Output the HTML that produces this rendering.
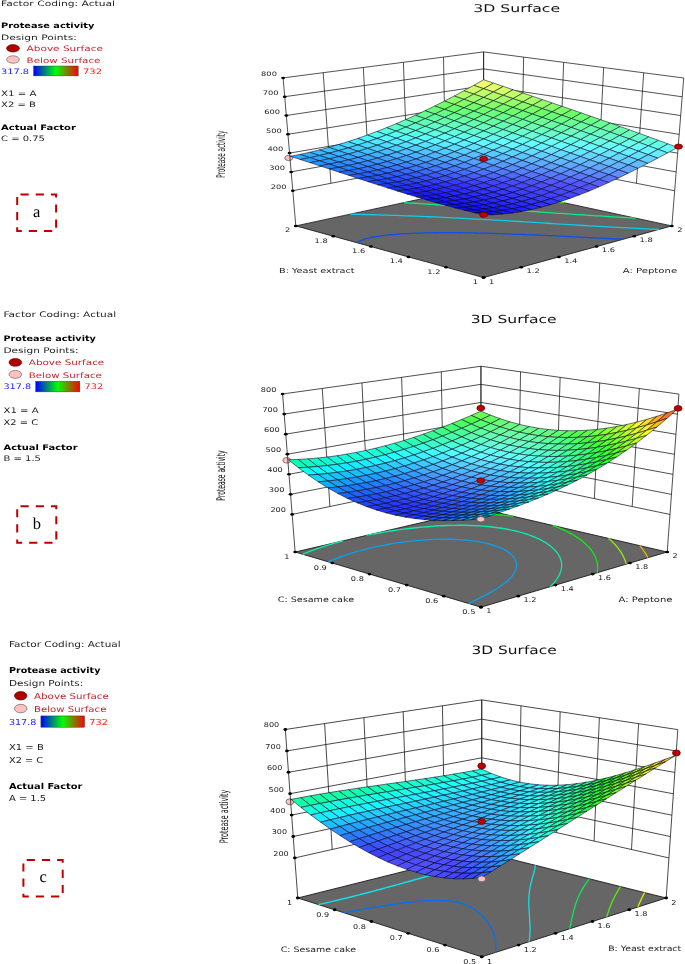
<!DOCTYPE html>
<html><head><meta charset="utf-8"><title>3D Surface</title>
<style>html,body{margin:0;padding:0;background:#fff}svg{display:block}text{text-rendering:geometricPrecision}</style></head><body>
<svg width="685" height="964" viewBox="0 0 685 964">
<defs><linearGradient id="lg" x1="0" x2="1" y1="0" y2="0"><stop offset="0" stop-color="#0000ff"/><stop offset="0.5" stop-color="#00ff00"/><stop offset="1" stop-color="#ff0000"/></linearGradient></defs>
<rect width="685" height="964" fill="#fff"/>
<g transform="matrix(1,0,0,1,0,0)">
<polygon points="483.6,277.6 671.85,225.9 483.6,185.4 295.8,225.9" fill="#666666" stroke="#111" stroke-width="0.8"/>
<path d="M357.01,242.75 L357.79,242.17 L359.11,241.37 L360.72,240.58 L363.11,239.65 L364.43,239.21 L367.27,238.4 L370.39,237.66 L373.75,236.99 L376.32,236.55 L379.22,236.1 L383.14,235.58 L385.17,235.34 L389.38,234.89 L391.56,234.68 L395.86,234.32 L398.36,234.13 L400.71,233.97 L405.09,233.7 L408.03,233.54 L410.56,233.42 L413.36,233.3 L417.25,233.15 L421.04,233.03 L423.78,232.95 L426.55,232.89 L429.35,232.83 L432.19,232.78 L435.23,232.74 L438.6,232.71 L441.91,232.69 L445.18,232.68 L448.39,232.67 L451.57,232.68 L454.71,232.69 L457.8,232.72 L460.87,232.74 L463.9,232.78 L466.91,232.82 L469.88,232.87 L472.83,232.92 L476.02,232.98 L479.44,233.05 L482.89,233.13 L486.38,233.22 L489.9,233.32 L492.83,233.4 L495.61,233.48 L498.38,233.57 L501.13,233.66 L504.38,233.77 L508.09,233.9 L511.83,234.03 L514.66,234.14 L517.32,234.24 L519.98,234.35 L523.27,234.48 L527.15,234.64 L530.5,234.78 L533.1,234.89 L535.7,235.01 L538.99,235.15 L542.99,235.33 L546,235.47 L548.55,235.59 L551.11,235.71 L555.18,235.9 L558.72,236.07 L561.24,236.19 L563.76,236.32 L567.6,236.5 L571.3,236.68 L573.8,236.81 L576.3,236.93 L580.21,237.12 L583.77,237.3 L586.26,237.43 L588.74,237.55 L592.95,237.76 L596.18,237.92 L598.65,238.04 L601.51,238.18 L605.79,238.38 L608.54,238.52 L611.02,238.64 L614.37,238.79 L618.44,238.98 L620.91,239.1 L623.38,239.21" fill="none" stroke="#0e50e9" stroke-width="1.3"/>
<path d="M350.19,214.17 L354.1,214.25 L359.5,214.38 L363.65,214.48 L368.66,214.61 L373.38,214.74 L377.67,214.86 L383.3,215.03 L386.65,215.13 L392.36,215.32 L396.84,215.47 L401,215.62 L406.69,215.82 L410.78,215.98 L415.12,216.15 L420.68,216.38 L425.14,216.56 L428.93,216.73 L434.37,216.97 L439.77,217.21 L443.7,217.4 L447.79,217.59 L453.09,217.85 L458.35,218.11 L462.98,218.35 L466.93,218.56 L471.35,218.79 L476.49,219.07 L481.6,219.35 L486.69,219.63 L491.21,219.88 L495.36,220.12 L499.54,220.36 L504.27,220.64 L509.24,220.93 L514.19,221.23 L519.13,221.52 L524.04,221.82 L528.93,222.12 L533.81,222.42 L538.35,222.69 L542.78,222.97 L547.23,223.24 L551.7,223.52 L556.19,223.8 L560.69,224.07 L565.21,224.35 L570,224.65 L574.79,224.94 L579.58,225.23 L584.36,225.52 L589.14,225.8 L593.91,226.09 L598.69,226.37 L603.47,226.64 L608.26,226.91 L613.04,227.18 L617.84,227.44 L622.64,227.7 L627.45,227.95 L632.28,228.2 L637.11,228.43 L641.96,228.66 L646.61,228.88 L650.99,229.07 L655.35,229.25 L659.09,229.41" fill="none" stroke="#0ecbe9" stroke-width="1.3"/>
<path d="M404.01,202.56 L407.51,202.79 L411.61,203.07 L414.13,203.23 L416.65,203.4 L419.91,203.62 L424.08,203.9 L426.69,204.07 L429.18,204.24 L432.5,204.46 L436.65,204.74 L439.13,204.91 L441.6,205.08 L445.28,205.33 L449,205.58 L451.46,205.75 L453.92,205.92 L458.28,206.22 L461.24,206.43 L463.68,206.6 L467.06,206.83 L470.97,207.1 L473.38,207.27 L475.95,207.45 L480.42,207.77 L483.03,207.95 L485.43,208.12 L489.45,208.4 L492.62,208.63 L495.01,208.79 L498.56,209.05 L502.15,209.3 L504.53,209.47 L507.77,209.7 L511.64,209.98 L514,210.14 L517.06,210.36 L521.09,210.65 L523.44,210.82 L526.43,211.03 L530.49,211.32 L532.84,211.48 L535.87,211.7 L539.87,211.98 L542.21,212.15 L545.36,212.37 L549.22,212.64 L551.56,212.8 L554.91,213.03 L558.56,213.29 L560.89,213.45 L564.48,213.7 L567.88,213.93 L570.2,214.09 L574.08,214.35 L577.19,214.56 L579.52,214.72 L583.68,214.99 L586.51,215.18 L588.84,215.33 L593.27,215.62 L595.83,215.78 L598.17,215.93 L602.82,216.22 L605.18,216.37 L607.58,216.52 L612.2,216.8 L614.55,216.94 L617.05,217.09 L621.6,217.35 L623.96,217.49 L626.44,217.62 L631.04,217.88 L633.41,218.01 L635.73,218.13" fill="none" stroke="#0ee982" stroke-width="1.3"/>
<path d="M445.98,193.51 L446.17,193.53 L448.32,193.7 L450.66,193.89 L450.9,193.91 L453,194.08 L455.34,194.26 L455.64,194.29 L457.68,194.45 L460.01,194.64 L460.41,194.67 L462.34,194.83 L464.68,195.01 L465.19,195.05 L467,195.2 L469.33,195.38 L470,195.44 L471.65,195.57 L473.97,195.75 L474.82,195.82 L476.29,195.94 L478.61,196.12 L479.66,196.21 L480.93,196.31 L483.24,196.49 L484.52,196.59 L485.55,196.68 L487.86,196.86 L489.4,196.98 L490.17,197.04 L492.47,197.22 L494.3,197.37 L494.78,197.41 L497.08,197.59 L499.21,197.76 L499.38,197.77 L501.68,197.95 L503.98,198.13 L504.14,198.14 L506.27,198.31 L508.57,198.49 L509.08,198.53 L510.86,198.67 L513.15,198.85 L514.04,198.92 L515.44,199.03 L517.73,199.21 L519.01,199.31 L520.02,199.39 L522.31,199.57 L524,199.7 L524.6,199.74 L526.88,199.92 L529,200.08 L529.16,200.1 L531.45,200.27 L533.73,200.45 L534,200.47 L536.01,200.62 L538.29,200.8 L539.02,200.85 L540.57,200.97 L542.85,201.14 L544.04,201.23 L545.13,201.32 L547.41,201.49 L549.07,201.61 L549.69,201.66 L551.96,201.83 L554.1,201.99 L554.24,202 L556.52,202.17 L558.8,202.34 L559.13,202.36 L561.07,202.51 L563.35,202.67 L564.17,202.73" fill="none" stroke="#3de90e" stroke-width="1.3"/>
<ellipse cx="288.7" cy="158" rx="4" ry="2.6" fill="#ffc0c0" stroke="#555" stroke-width="0.7"/>
<path d="M295.8,225.9 L283.1,77.9 M671.85,225.9 L683.7,78 M330.94,183.29 L323.2,72.7 M636.45,183.31 L643.68,72.78 M369.11,175.88 L363.3,67.5 M598.24,175.9 L603.66,67.56 M407.27,168.47 L403.4,62.3 M560.03,168.48 L563.64,62.34 M445.44,161.06 L443.5,57.1 M521.81,161.07 L523.62,57.12 M483.6,185.4 L483.6,51.9 M483.6,185.4 L483.6,51.9 M292.78,190.7 L483.6,153.65 L674.67,190.73 M291.17,171.9 L483.6,136.69 L676.17,171.94 M289.55,153.1 L483.6,119.74 L677.68,153.15 M287.94,134.3 L483.6,102.78 L679.18,134.36 M286.33,115.5 L483.6,85.82 L680.69,115.58 M284.71,96.7 L483.6,68.86 L682.19,96.79 M283.1,77.9 L483.6,51.9 L683.7,78" fill="none" stroke="#1a1a1a" stroke-width="0.75"/>
<g stroke="#05051a" stroke-opacity="0.88" stroke-width="0.62" stroke-linejoin="round">
<path d="M483.59,88.67 L493.44,83.07 L483.6,79.75 L473.76,85.35 Z" fill="#f1ff69"/>
<path d="M473.78,94.1 L483.59,88.67 L473.76,85.35 L463.95,90.78 Z" fill="#cfff6a"/>
<path d="M493.41,91.98 L503.27,86.38 L493.44,83.07 L483.59,88.67 Z" fill="#e1ff69"/>
<path d="M464,99.36 L473.78,94.1 L463.95,90.78 L454.18,96.03 Z" fill="#afff6a"/>
<path d="M483.59,97.42 L493.41,91.98 L483.59,88.67 L473.78,94.1 Z" fill="#c0ff6a"/>
<path d="M503.21,95.3 L513.08,89.69 L503.27,86.38 L493.41,91.98 Z" fill="#d2ff6a"/>
<path d="M473.8,102.69 L483.59,97.42 L473.78,94.1 L464,99.36 Z" fill="#a0ff6a"/>
<path d="M493.38,100.74 L503.21,95.3 L493.41,91.98 L483.59,97.42 Z" fill="#b1ff6a"/>
<path d="M454.25,104.44 L464,99.36 L454.18,96.03 L444.44,101.1 Z" fill="#90ff69"/>
<path d="M513,98.61 L522.88,93 L513.08,89.69 L503.21,95.3 Z" fill="#c3ff6a"/>
<path d="M444.53,109.35 L454.25,104.44 L444.44,101.1 L434.72,106 Z" fill="#72ff68"/>
<path d="M464.04,107.78 L473.8,102.69 L464,99.36 L454.25,104.44 Z" fill="#82ff69"/>
<path d="M483.59,106.02 L493.38,100.74 L483.59,97.42 L473.8,102.69 Z" fill="#92ff6a"/>
<path d="M503.16,104.06 L513,98.61 L503.21,95.3 L493.38,100.74 Z" fill="#a3ff6a"/>
<path d="M522.77,101.93 L532.66,96.32 L522.88,93 L513,98.61 Z" fill="#b4ff6a"/>
<path d="M454.31,112.7 L464.04,107.78 L454.25,104.44 L444.53,109.35 Z" fill="#68ff6c"/>
<path d="M512.93,107.39 L522.77,101.93 L513,98.61 L503.16,104.06 Z" fill="#94ff6a"/>
<path d="M434.83,114.07 L444.53,109.35 L434.72,106 L425.03,110.71 Z" fill="#67ff78"/>
<path d="M473.82,111.13 L483.59,106.02 L473.8,102.69 L464.04,107.78 Z" fill="#73ff69"/>
<path d="M493.36,109.35 L503.16,104.06 L493.38,100.74 L483.59,106.02 Z" fill="#83ff6a"/>
<path d="M532.53,105.25 L542.43,99.63 L532.66,96.32 L522.77,101.93 Z" fill="#a6ff6a"/>
<path d="M425.16,118.61 L434.83,114.07 L425.03,110.71 L415.37,115.24 Z" fill="#65ff90"/>
<path d="M444.61,117.44 L454.31,112.7 L444.53,109.35 L434.83,114.07 Z" fill="#67ff86"/>
<path d="M464.09,116.06 L473.82,111.13 L464.04,107.78 L454.31,112.7 Z" fill="#68ff7a"/>
<path d="M483.59,114.47 L493.36,109.35 L483.59,106.02 L473.82,111.13 Z" fill="#69ff6d"/>
<path d="M503.12,112.69 L512.93,107.39 L503.16,104.06 L493.36,109.35 Z" fill="#75ff6a"/>
<path d="M522.68,110.71 L532.53,105.25 L522.77,101.93 L512.93,107.39 Z" fill="#86ff6a"/>
<path d="M542.27,108.57 L552.18,102.95 L542.43,99.63 L532.53,105.25 Z" fill="#97ff6a"/>
<path d="M415.51,122.96 L425.16,118.61 L415.37,115.24 L405.72,119.58 Z" fill="#62ffa6"/>
<path d="M434.93,121.99 L444.61,117.44 L434.83,114.07 L425.16,118.61 Z" fill="#64ff9d"/>
<path d="M454.38,120.81 L464.09,116.06 L454.31,112.7 L444.61,117.44 Z" fill="#66ff93"/>
<path d="M473.85,119.42 L483.59,114.47 L473.82,111.13 L464.09,116.06 Z" fill="#68ff88"/>
<path d="M493.34,117.82 L503.12,112.69 L493.36,109.35 L483.59,114.47 Z" fill="#69ff7b"/>
<path d="M512.86,116.02 L522.68,110.71 L512.93,107.39 L503.12,112.69 Z" fill="#6aff6d"/>
<path d="M532.41,114.05 L542.27,108.57 L532.53,105.25 L522.68,110.71 Z" fill="#77ff6a"/>
<path d="M552,111.9 L561.91,106.28 L552.18,102.95 L542.27,108.57 Z" fill="#88ff6a"/>
<path d="M425.28,126.35 L434.93,121.99 L425.16,118.61 L415.51,122.96 Z" fill="#62ffb4"/>
<path d="M444.7,125.37 L454.38,120.81 L444.61,117.44 L434.93,121.99 Z" fill="#64ffab"/>
<path d="M483.59,122.78 L493.34,117.82 L483.59,114.47 L473.85,119.42 Z" fill="#68ff95"/>
<path d="M522.59,119.37 L532.41,114.05 L522.68,110.71 L512.86,116.02 Z" fill="#6aff7a"/>
<path d="M542.13,117.38 L552,111.9 L542.27,108.57 L532.41,114.05 Z" fill="#6aff6b"/>
<path d="M405.87,127.12 L415.51,122.96 L405.72,119.58 L396.09,123.73 Z" fill="#5fffbc"/>
<path d="M464.13,124.18 L473.85,119.42 L464.09,116.06 L454.38,120.81 Z" fill="#66ffa1"/>
<path d="M503.07,121.17 L512.86,116.02 L503.12,112.69 L493.34,117.82 Z" fill="#69ff89"/>
<path d="M561.72,115.24 L571.63,109.61 L561.91,106.28 L552,111.9 Z" fill="#7aff6a"/>
<path d="M396.25,131.09 L405.87,127.12 L396.09,123.73 L386.47,127.69 Z" fill="#5cffd0"/>
<path d="M415.64,130.52 L425.28,126.35 L415.51,122.96 L405.87,127.12 Z" fill="#5fffc9"/>
<path d="M435.03,129.75 L444.7,125.37 L434.93,121.99 L425.28,126.35 Z" fill="#61ffc2"/>
<path d="M454.44,128.76 L464.13,124.18 L454.38,120.81 L444.7,125.37 Z" fill="#64ffb9"/>
<path d="M473.87,127.56 L483.59,122.78 L473.85,119.42 L464.13,124.18 Z" fill="#66ffaf"/>
<path d="M493.32,126.15 L503.07,121.17 L493.34,117.82 L483.59,122.78 Z" fill="#68ffa3"/>
<path d="M512.8,124.52 L522.59,119.37 L512.86,116.02 L503.07,121.17 Z" fill="#69ff96"/>
<path d="M532.3,122.71 L542.13,117.38 L532.41,114.05 L522.59,119.37 Z" fill="#6aff88"/>
<path d="M551.84,120.72 L561.72,115.24 L552,111.9 L542.13,117.38 Z" fill="#6aff79"/>
<path d="M571.42,118.58 L581.34,112.96 L571.63,109.61 L561.72,115.24 Z" fill="#6cff6a"/>
<path d="M406.01,134.5 L415.64,130.52 L405.87,127.12 L396.25,131.09 Z" fill="#5bffdd"/>
<path d="M464.18,132.16 L473.87,127.56 L464.13,124.18 L454.44,128.76 Z" fill="#64ffc6"/>
<path d="M503.04,129.51 L512.8,124.52 L503.07,121.17 L493.32,126.15 Z" fill="#67ffb1"/>
<path d="M561.53,124.07 L571.42,118.58 L561.72,115.24 L551.84,120.72 Z" fill="#6aff87"/>
<path d="M386.64,134.86 L396.25,131.09 L386.47,127.69 L376.87,131.46 Z" fill="#58ffe3"/>
<path d="M425.39,133.93 L435.03,129.75 L425.28,126.35 L415.64,130.52 Z" fill="#5effd7"/>
<path d="M444.77,133.16 L454.44,128.76 L444.7,125.37 L435.03,129.75 Z" fill="#61ffcf"/>
<path d="M483.59,130.94 L493.32,126.15 L483.59,122.78 L473.87,127.56 Z" fill="#66ffbc"/>
<path d="M522.5,127.88 L532.3,122.71 L522.59,119.37 L512.8,124.52 Z" fill="#69ffa4"/>
<path d="M542,126.06 L551.84,120.72 L542.13,117.38 L532.3,122.71 Z" fill="#6aff96"/>
<path d="M581.1,121.94 L591.03,116.32 L581.34,112.96 L571.42,118.58 Z" fill="#6aff77"/>
<path d="M377.03,138.43 L386.64,134.86 L376.87,131.46 L367.27,135.04 Z" fill="#53fff5"/>
<path d="M396.39,138.27 L406.01,134.5 L396.25,131.09 L386.64,134.86 Z" fill="#57fff0"/>
<path d="M415.76,137.92 L425.39,133.93 L415.64,130.52 L406.01,134.5 Z" fill="#5affeb"/>
<path d="M435.12,137.35 L444.77,133.16 L435.03,129.75 L425.39,133.93 Z" fill="#5effe4"/>
<path d="M454.5,136.56 L464.18,132.16 L454.44,128.76 L444.77,133.16 Z" fill="#61ffdd"/>
<path d="M473.89,135.55 L483.59,130.94 L473.87,127.56 L464.18,132.16 Z" fill="#63ffd4"/>
<path d="M493.31,134.33 L503.04,129.51 L493.32,126.15 L483.59,130.94 Z" fill="#66ffc9"/>
<path d="M512.74,132.88 L522.5,127.88 L512.8,124.52 L503.04,129.51 Z" fill="#67ffbe"/>
<path d="M532.2,131.24 L542,126.06 L532.3,122.71 L522.5,127.88 Z" fill="#69ffb1"/>
<path d="M551.69,129.41 L561.53,124.07 L551.84,120.72 L542,126.06 Z" fill="#69ffa4"/>
<path d="M571.21,127.42 L581.1,121.94 L571.42,118.58 L561.53,124.07 Z" fill="#6aff95"/>
<path d="M590.77,125.3 L600.7,119.69 L591.03,116.32 L581.1,121.94 Z" fill="#6aff85"/>
<path d="M367.44,141.8 L377.03,138.43 L367.27,135.04 L357.67,138.41 Z" fill="#4ff9ff"/>
<path d="M386.79,141.85 L396.39,138.27 L386.64,134.86 L377.03,138.43 Z" fill="#53fcff"/>
<path d="M406.14,141.7 L415.76,137.92 L406.01,134.5 L396.39,138.27 Z" fill="#56fffe"/>
<path d="M425.49,141.34 L435.12,137.35 L425.39,133.93 L415.76,137.92 Z" fill="#5afff9"/>
<path d="M444.85,140.77 L454.5,136.56 L444.77,133.16 L435.12,137.35 Z" fill="#5dfff2"/>
<path d="M464.22,139.97 L473.89,135.55 L464.18,132.16 L454.5,136.56 Z" fill="#60ffea"/>
<path d="M483.6,138.95 L493.31,134.33 L483.59,130.94 L473.89,135.55 Z" fill="#63ffe1"/>
<path d="M503,137.71 L512.74,132.88 L503.04,129.51 L493.31,134.33 Z" fill="#65ffd7"/>
<path d="M522.43,136.25 L532.2,131.24 L522.5,127.88 L512.74,132.88 Z" fill="#67ffcb"/>
<path d="M541.88,134.6 L551.69,129.41 L542,126.06 L532.2,131.24 Z" fill="#68ffbf"/>
<path d="M561.36,132.77 L571.21,127.42 L561.53,124.07 L551.69,129.41 Z" fill="#69ffb1"/>
<path d="M580.88,130.79 L590.77,125.3 L581.1,121.94 L571.21,127.42 Z" fill="#6affa2"/>
<path d="M600.43,128.68 L610.36,123.08 L600.7,119.69 L590.77,125.3 Z" fill="#6aff93"/>
<path d="M357.84,144.97 L367.44,141.8 L357.67,138.41 L348.08,141.59 Z" fill="#4ae9ff"/>
<path d="M377.19,145.21 L386.79,141.85 L377.03,138.43 L367.44,141.8 Z" fill="#4eebff"/>
<path d="M396.53,145.27 L406.14,141.7 L396.39,138.27 L386.79,141.85 Z" fill="#52eeff"/>
<path d="M435.21,144.78 L444.85,140.77 L435.12,137.35 L425.49,141.34 Z" fill="#59f8ff"/>
<path d="M473.92,143.39 L483.6,138.95 L473.89,135.55 L464.22,139.97 Z" fill="#60fff7"/>
<path d="M493.29,142.35 L503,137.71 L493.31,134.33 L483.6,138.95 Z" fill="#63ffee"/>
<path d="M532.1,139.62 L541.88,134.6 L532.2,131.24 L522.43,136.25 Z" fill="#67ffd8"/>
<path d="M571.02,136.13 L580.88,130.79 L571.21,127.42 L561.36,132.77 Z" fill="#69ffbe"/>
<path d="M590.53,134.16 L600.43,128.68 L590.77,125.3 L580.88,130.79 Z" fill="#69ffb0"/>
<path d="M610.07,132.08 L620.01,126.49 L610.36,123.08 L600.43,128.68 Z" fill="#69ffa1"/>
<path d="M415.87,145.13 L425.49,141.34 L415.76,137.92 L406.14,141.7 Z" fill="#56f2ff"/>
<path d="M454.56,144.2 L464.22,139.97 L454.5,136.56 L444.85,140.77 Z" fill="#5dfeff"/>
<path d="M512.69,141.09 L522.43,136.25 L512.74,132.88 L503,137.71 Z" fill="#65ffe4"/>
<path d="M551.55,137.96 L561.36,132.77 L551.69,129.41 L541.88,134.6 Z" fill="#68ffcc"/>
<path d="M348.24,147.92 L357.84,144.97 L348.08,141.59 L338.49,144.56 Z" fill="#45dbff"/>
<path d="M367.59,148.36 L377.19,145.21 L367.44,141.8 L357.84,144.97 Z" fill="#49dbff"/>
<path d="M386.92,148.63 L396.53,145.27 L386.79,141.85 L377.19,145.21 Z" fill="#4dddff"/>
<path d="M406.26,148.71 L415.87,145.13 L406.14,141.7 L396.53,145.27 Z" fill="#51e0ff"/>
<path d="M425.59,148.57 L435.21,144.78 L425.49,141.34 L415.87,145.13 Z" fill="#55e4ff"/>
<path d="M444.92,148.21 L454.56,144.2 L444.85,140.77 L435.21,144.78 Z" fill="#59eaff"/>
<path d="M464.26,147.62 L473.92,143.39 L464.22,139.97 L454.56,144.2 Z" fill="#5cf1ff"/>
<path d="M483.61,146.8 L493.29,142.35 L483.6,138.95 L473.92,143.39 Z" fill="#60f9ff"/>
<path d="M502.97,145.74 L512.69,141.09 L503,137.71 L493.29,142.35 Z" fill="#62fffb"/>
<path d="M522.36,144.47 L532.1,139.62 L522.43,136.25 L512.69,141.09 Z" fill="#65fff1"/>
<path d="M541.77,142.99 L551.55,137.96 L541.88,134.6 L532.1,139.62 Z" fill="#67ffe5"/>
<path d="M561.2,141.33 L571.02,136.13 L561.36,132.77 L551.55,137.96 Z" fill="#68ffd9"/>
<path d="M580.67,139.5 L590.53,134.16 L580.88,130.79 L571.02,136.13 Z" fill="#69ffcc"/>
<path d="M600.16,137.55 L610.07,132.08 L600.43,128.68 L590.53,134.16 Z" fill="#69ffbe"/>
<path d="M619.69,135.49 L629.64,129.92 L620.01,126.49 L610.07,132.08 Z" fill="#69ffaf"/>
<path d="M357.99,151.3 L367.59,148.36 L357.84,144.97 L348.24,147.92 Z" fill="#44cdff"/>
<path d="M454.61,151.64 L464.26,147.62 L454.56,144.2 L444.92,148.21 Z" fill="#58dcff"/>
<path d="M512.64,149.14 L522.36,144.47 L512.69,141.09 L502.97,145.74 Z" fill="#62f6ff"/>
<path d="M609.79,140.94 L619.69,135.49 L610.07,132.08 L600.16,137.55 Z" fill="#69ffcb"/>
<path d="M338.64,150.66 L348.24,147.92 L338.49,144.56 L328.89,147.34 Z" fill="#40ceff"/>
<path d="M377.32,151.77 L386.92,148.63 L377.19,145.21 L367.59,148.36 Z" fill="#48cdff"/>
<path d="M396.65,152.06 L406.26,148.71 L396.53,145.27 L386.92,148.63 Z" fill="#4ccfff"/>
<path d="M415.97,152.15 L425.59,148.57 L415.87,145.13 L406.26,148.71 Z" fill="#50d2ff"/>
<path d="M435.29,152.01 L444.92,148.21 L435.21,144.78 L425.59,148.57 Z" fill="#54d7ff"/>
<path d="M473.94,151.04 L483.61,146.8 L473.92,143.39 L464.26,147.62 Z" fill="#5ce4ff"/>
<path d="M493.28,150.2 L502.97,145.74 L493.29,142.35 L483.61,146.8 Z" fill="#5fecff"/>
<path d="M532.01,147.85 L541.77,142.99 L532.1,139.62 L522.36,144.47 Z" fill="#64fffe"/>
<path d="M551.41,146.37 L561.2,141.33 L551.55,137.96 L541.77,142.99 Z" fill="#66fff2"/>
<path d="M570.84,144.7 L580.67,139.5 L571.02,136.13 L561.2,141.33 Z" fill="#68ffe6"/>
<path d="M590.3,142.88 L600.16,137.55 L590.53,134.16 L580.67,139.5 Z" fill="#68ffd9"/>
<path d="M629.31,138.92 L639.25,133.37 L629.64,129.92 L619.69,135.49 Z" fill="#68ffbd"/>
<path d="M348.39,154.02 L357.99,151.3 L348.24,147.92 L338.64,150.66 Z" fill="#3ec0ff"/>
<path d="M619.4,144.35 L629.31,138.92 L619.69,135.49 L609.79,140.94 Z" fill="#68ffd9"/>
<path d="M329.04,153.19 L338.64,150.66 L328.89,147.34 L319.29,149.9 Z" fill="#3bc2ff"/>
<path d="M367.72,154.69 L377.32,151.77 L367.59,148.36 L357.99,151.3 Z" fill="#42bfff"/>
<path d="M387.05,155.2 L396.65,152.06 L386.92,148.63 L377.32,151.77 Z" fill="#46bfff"/>
<path d="M406.36,155.5 L415.97,152.15 L406.26,148.71 L396.65,152.06 Z" fill="#4bc1ff"/>
<path d="M425.67,155.59 L435.29,152.01 L425.59,148.57 L415.97,152.15 Z" fill="#4fc4ff"/>
<path d="M444.98,155.45 L454.61,151.64 L444.92,148.21 L435.29,152.01 Z" fill="#54c9ff"/>
<path d="M464.29,155.07 L473.94,151.04 L464.26,147.62 L454.61,151.64 Z" fill="#58cfff"/>
<path d="M483.61,154.46 L493.28,150.2 L483.61,146.8 L473.94,151.04 Z" fill="#5cd6ff"/>
<path d="M502.94,153.6 L512.64,149.14 L502.97,145.74 L493.28,150.2 Z" fill="#5fdfff"/>
<path d="M522.29,152.52 L532.01,147.85 L522.36,144.47 L512.64,149.14 Z" fill="#62e9ff"/>
<path d="M541.66,151.23 L551.41,146.37 L541.77,142.99 L532.01,147.85 Z" fill="#64f3ff"/>
<path d="M561.05,149.74 L570.84,144.7 L561.2,141.33 L551.41,146.37 Z" fill="#66ffff"/>
<path d="M580.47,148.07 L590.3,142.88 L580.67,139.5 L570.84,144.7 Z" fill="#67fff3"/>
<path d="M599.92,146.27 L609.79,140.94 L600.16,137.55 L590.3,142.88 Z" fill="#68ffe6"/>
<path d="M638.9,142.37 L648.85,136.85 L639.25,133.37 L629.31,138.92 Z" fill="#68ffcc"/>
<path d="M319.42,155.51 L329.04,153.19 L319.29,149.9 L309.67,152.26 Z" fill="#35b9ff"/>
<path d="M338.78,156.51 L348.39,154.02 L338.64,150.66 L329.04,153.19 Z" fill="#39b5ff"/>
<path d="M358.12,157.38 L367.72,154.69 L357.99,151.3 L348.39,154.02 Z" fill="#3db2ff"/>
<path d="M377.45,158.1 L387.05,155.2 L377.32,151.77 L367.72,154.69 Z" fill="#41b1ff"/>
<path d="M396.76,158.62 L406.36,155.5 L396.65,152.06 L387.05,155.2 Z" fill="#45b1ff"/>
<path d="M416.06,158.94 L425.67,155.59 L415.97,152.15 L406.36,155.5 Z" fill="#4ab3ff"/>
<path d="M435.36,159.03 L444.98,155.45 L435.29,152.01 L425.67,155.59 Z" fill="#4fb6ff"/>
<path d="M454.66,158.88 L464.29,155.07 L454.61,151.64 L444.98,155.45 Z" fill="#53bbff"/>
<path d="M473.96,158.49 L483.61,154.46 L473.94,151.04 L464.29,155.07 Z" fill="#57c2ff"/>
<path d="M493.27,157.86 L502.94,153.6 L493.28,150.2 L483.61,154.46 Z" fill="#5bc9ff"/>
<path d="M512.59,157 L522.29,152.52 L512.64,149.14 L502.94,153.6 Z" fill="#5ed2ff"/>
<path d="M531.93,155.9 L541.66,151.23 L532.01,147.85 L522.29,152.52 Z" fill="#61dcff"/>
<path d="M551.29,154.6 L561.05,149.74 L551.41,146.37 L541.66,151.23 Z" fill="#64e6ff"/>
<path d="M570.68,153.1 L580.47,148.07 L570.84,144.7 L561.05,149.74 Z" fill="#65f2ff"/>
<path d="M590.09,151.45 L599.92,146.27 L590.3,142.88 L580.47,148.07 Z" fill="#67feff"/>
<path d="M609.53,149.66 L619.4,144.35 L609.79,140.94 L599.92,146.27 Z" fill="#67fff4"/>
<path d="M628.99,147.78 L638.9,142.37 L629.31,138.92 L619.4,144.35 Z" fill="#67ffe7"/>
<path d="M648.49,145.84 L658.43,140.36 L648.85,136.85 L638.9,142.37 Z" fill="#67ffda"/>
<path d="M309.79,157.6 L319.42,155.51 L309.67,152.26 L300.05,154.41 Z" fill="#30b1ff"/>
<path d="M329.16,158.78 L338.78,156.51 L329.04,153.19 L319.42,155.51 Z" fill="#34acff"/>
<path d="M348.51,159.84 L358.12,157.38 L348.39,154.02 L338.78,156.51 Z" fill="#37a7ff"/>
<path d="M367.84,160.76 L377.45,158.1 L367.72,154.69 L358.12,157.38 Z" fill="#3ba4ff"/>
<path d="M387.16,161.51 L396.76,158.62 L387.05,155.2 L377.45,158.1 Z" fill="#40a2ff"/>
<path d="M406.46,162.05 L416.06,158.94 L406.36,155.5 L396.76,158.62 Z" fill="#44a3ff"/>
<path d="M425.75,162.37 L435.36,159.03 L425.67,155.59 L416.06,158.94 Z" fill="#49a5ff"/>
<path d="M445.04,162.46 L454.66,158.88 L444.98,155.45 L435.36,159.03 Z" fill="#4ea8ff"/>
<path d="M483.62,161.91 L493.27,157.86 L483.61,154.46 L473.96,158.49 Z" fill="#57b4ff"/>
<path d="M522.23,160.38 L531.93,155.9 L522.29,152.52 L512.59,157 Z" fill="#5ec5ff"/>
<path d="M541.56,159.28 L551.29,154.6 L541.66,151.23 L531.93,155.9 Z" fill="#61cfff"/>
<path d="M560.91,157.96 L570.68,153.1 L561.05,149.74 L551.29,154.6 Z" fill="#63daff"/>
<path d="M580.29,156.47 L590.09,151.45 L580.47,148.07 L570.68,153.1 Z" fill="#65e5ff"/>
<path d="M599.69,154.83 L609.53,149.66 L599.92,146.27 L590.09,151.45 Z" fill="#66f1ff"/>
<path d="M619.12,153.06 L628.99,147.78 L619.4,144.35 L609.53,149.66 Z" fill="#67fdff"/>
<path d="M638.57,151.21 L648.49,145.84 L638.9,142.37 L628.99,147.78 Z" fill="#67fff5"/>
<path d="M658.05,149.33 L668,143.89 L658.43,140.36 L648.49,145.84 Z" fill="#66ffe8"/>
<path d="M464.33,162.31 L473.96,158.49 L464.29,155.07 L454.66,158.88 Z" fill="#52aeff"/>
<path d="M502.92,161.26 L512.59,157 L502.94,153.6 L493.27,157.86 Z" fill="#5bbcff"/>
<path d="M300.15,159.47 L309.79,157.6 L300.05,154.41 L290.41,156.35 Z" fill="#2bacff"/>
<path d="M319.53,160.81 L329.16,158.78 L319.42,155.51 L309.79,157.6 Z" fill="#2ea5ff"/>
<path d="M338.89,162.07 L348.51,159.84 L338.78,156.51 L329.16,158.78 Z" fill="#329eff"/>
<path d="M358.23,163.19 L367.84,160.76 L358.12,157.38 L348.51,159.84 Z" fill="#3699ff"/>
<path d="M377.55,164.15 L387.16,161.51 L377.45,158.1 L367.84,160.76 Z" fill="#3a96ff"/>
<path d="M396.85,164.92 L406.46,162.05 L396.76,158.62 L387.16,161.51 Z" fill="#3e94ff"/>
<path d="M416.15,165.48 L425.75,162.37 L416.06,158.94 L406.46,162.05 Z" fill="#4395ff"/>
<path d="M435.43,165.8 L445.04,162.46 L435.36,159.03 L425.75,162.37 Z" fill="#4897ff"/>
<path d="M454.7,165.89 L464.33,162.31 L454.66,158.88 L445.04,162.46 Z" fill="#4d9bff"/>
<path d="M473.98,165.72 L483.62,161.91 L473.96,158.49 L464.33,162.31 Z" fill="#52a0ff"/>
<path d="M493.26,165.31 L502.92,161.26 L493.27,157.86 L483.62,161.91 Z" fill="#56a7ff"/>
<path d="M512.55,164.65 L522.23,160.38 L512.59,157 L502.92,161.26 Z" fill="#5aafff"/>
<path d="M531.85,163.75 L541.56,159.28 L531.93,155.9 L522.23,160.38 Z" fill="#5db8ff"/>
<path d="M551.18,162.64 L560.91,157.96 L551.29,154.6 L541.56,159.28 Z" fill="#60c2ff"/>
<path d="M570.52,161.32 L580.29,156.47 L570.68,153.1 L560.91,157.96 Z" fill="#63cdff"/>
<path d="M589.89,159.84 L599.69,154.83 L590.09,151.45 L580.29,156.47 Z" fill="#64d8ff"/>
<path d="M609.28,158.21 L619.12,153.06 L609.53,149.66 L599.69,154.83 Z" fill="#65e4ff"/>
<path d="M628.7,156.47 L638.57,151.21 L628.99,147.78 L619.12,153.06 Z" fill="#66efff"/>
<path d="M648.14,154.67 L658.05,149.33 L648.49,145.84 L638.57,151.21 Z" fill="#66fbff"/>
<path d="M667.61,152.85 L677.55,147.46 L668,143.89 L658.05,149.33 Z" fill="#65fff7"/>
<path d="M309.88,162.61 L319.53,160.81 L309.79,157.6 L300.15,159.47 Z" fill="#29a0ff"/>
<path d="M406.54,168.33 L416.15,165.48 L406.46,162.05 L396.85,164.92 Z" fill="#3d86ff"/>
<path d="M560.78,165.99 L570.52,161.32 L560.91,157.96 L551.18,162.64 Z" fill="#60b6ff"/>
<path d="M657.69,158.14 L667.61,152.85 L658.05,149.33 L648.14,154.67 Z" fill="#65edff"/>
<path d="M329.25,164.05 L338.89,162.07 L329.16,158.78 L319.53,160.81 Z" fill="#2c98ff"/>
<path d="M348.6,165.37 L358.23,163.19 L348.51,159.84 L338.89,162.07 Z" fill="#3091ff"/>
<path d="M367.94,166.54 L377.55,164.15 L367.84,160.76 L358.23,163.19 Z" fill="#348bff"/>
<path d="M387.25,167.54 L396.85,164.92 L387.16,161.51 L377.55,164.15 Z" fill="#3888ff"/>
<path d="M425.82,168.89 L435.43,165.8 L425.75,162.37 L416.15,165.48 Z" fill="#4286ff"/>
<path d="M445.09,169.22 L454.7,165.89 L445.04,162.46 L435.43,165.8 Z" fill="#4789ff"/>
<path d="M464.36,169.3 L473.98,165.72 L464.33,162.31 L454.7,165.89 Z" fill="#4c8dff"/>
<path d="M483.62,169.12 L493.26,165.31 L483.62,161.91 L473.98,165.72 Z" fill="#5193ff"/>
<path d="M502.89,168.69 L512.55,164.65 L502.92,161.26 L493.26,165.31 Z" fill="#559aff"/>
<path d="M522.17,168.02 L531.85,163.75 L522.23,160.38 L512.55,164.65 Z" fill="#59a2ff"/>
<path d="M541.47,167.11 L551.18,162.64 L541.56,159.28 L531.85,163.75 Z" fill="#5dacff"/>
<path d="M580.12,164.68 L589.89,159.84 L580.29,156.47 L570.52,161.32 Z" fill="#62c0ff"/>
<path d="M599.48,163.2 L609.28,158.21 L599.69,154.83 L589.89,159.84 Z" fill="#64cbff"/>
<path d="M618.86,161.59 L628.7,156.47 L619.12,153.06 L609.28,158.21 Z" fill="#65d7ff"/>
<path d="M638.27,159.89 L648.14,154.67 L638.57,151.21 L628.7,156.47 Z" fill="#65e2ff"/>
<path d="M319.6,165.78 L329.25,164.05 L319.53,160.81 L309.88,162.61 Z" fill="#2794ff"/>
<path d="M358.31,168.68 L367.94,166.54 L358.23,163.19 L348.6,165.37 Z" fill="#2e83ff"/>
<path d="M396.93,170.92 L406.54,168.33 L396.85,164.92 L387.25,167.54 Z" fill="#3779ff"/>
<path d="M416.21,171.73 L425.82,168.89 L416.15,165.48 L406.54,168.33 Z" fill="#3c78ff"/>
<path d="M454.74,172.62 L464.36,169.3 L454.7,165.89 L445.09,169.22 Z" fill="#467bff"/>
<path d="M512.51,172.06 L522.17,168.02 L512.55,164.65 L502.89,168.69 Z" fill="#558dff"/>
<path d="M551.07,170.46 L560.78,165.99 L551.18,162.64 L541.47,167.11 Z" fill="#5c9fff"/>
<path d="M570.38,169.33 L580.12,164.68 L570.52,161.32 L560.78,165.99 Z" fill="#5fa9ff"/>
<path d="M609.05,166.56 L618.86,161.59 L609.28,158.21 L599.48,163.2 Z" fill="#63beff"/>
<path d="M647.82,163.32 L657.69,158.14 L648.14,154.67 L638.27,159.89 Z" fill="#64d4ff"/>
<path d="M338.97,167.29 L348.6,165.37 L338.89,162.07 L329.25,164.05 Z" fill="#2a8aff"/>
<path d="M377.63,169.89 L387.25,167.54 L377.55,164.15 L367.94,166.54 Z" fill="#327dff"/>
<path d="M435.48,172.3 L445.09,169.22 L435.43,165.8 L425.82,168.89 Z" fill="#4178ff"/>
<path d="M474,172.69 L483.62,169.12 L473.98,165.72 L464.36,169.3 Z" fill="#4b80ff"/>
<path d="M493.25,172.5 L502.89,168.69 L493.26,165.31 L483.62,169.12 Z" fill="#5086ff"/>
<path d="M531.78,171.37 L541.47,167.11 L531.85,163.75 L522.17,168.02 Z" fill="#5996ff"/>
<path d="M589.7,168.02 L599.48,163.2 L589.89,159.84 L580.12,164.68 Z" fill="#61b4ff"/>
<path d="M628.42,164.98 L638.27,159.89 L628.7,156.47 L618.86,161.59 Z" fill="#64c9ff"/>
<path d="M387.32,173.24 L396.93,170.92 L387.25,167.54 L377.63,169.89 Z" fill="#316fff"/>
<path d="M445.13,175.68 L454.74,172.62 L445.09,169.22 L435.48,172.3 Z" fill="#406aff"/>
<path d="M522.12,175.4 L531.78,171.37 L522.17,168.02 L512.51,172.06 Z" fill="#5480ff"/>
<path d="M579.96,172.66 L589.7,168.02 L580.12,164.68 L570.38,169.33 Z" fill="#5e9dff"/>
<path d="M329.32,168.96 L338.97,167.29 L329.25,164.05 L319.6,165.78 Z" fill="#2587ff"/>
<path d="M348.68,170.55 L358.31,168.68 L348.6,165.37 L338.97,167.29 Z" fill="#297dff"/>
<path d="M368.01,171.98 L377.63,169.89 L367.94,166.54 L358.31,168.68 Z" fill="#2d75ff"/>
<path d="M406.61,174.29 L416.21,171.73 L406.54,168.33 L396.93,170.92 Z" fill="#366bff"/>
<path d="M425.88,175.11 L435.48,172.3 L425.82,168.89 L416.21,171.73 Z" fill="#3b6aff"/>
<path d="M464.38,176 L474,172.69 L464.36,169.3 L454.74,172.62 Z" fill="#456dff"/>
<path d="M483.63,176.06 L493.25,172.5 L483.62,169.12 L474,172.69 Z" fill="#4a72ff"/>
<path d="M502.87,175.86 L512.51,172.06 L502.89,168.69 L493.25,172.5 Z" fill="#4f79ff"/>
<path d="M541.39,174.7 L551.07,170.46 L541.47,167.11 L531.78,171.37 Z" fill="#5889ff"/>
<path d="M560.66,173.78 L570.38,169.33 L560.78,165.99 L551.07,170.46 Z" fill="#5b93ff"/>
<path d="M599.28,171.36 L609.05,166.56 L599.48,163.2 L589.7,168.02 Z" fill="#60a7ff"/>
<path d="M618.62,169.91 L628.42,164.98 L618.86,161.59 L609.05,166.56 Z" fill="#62b2ff"/>
<path d="M637.98,168.37 L647.82,163.32 L638.27,159.89 L628.42,164.98 Z" fill="#63bcff"/>
<path d="M339.02,172.15 L348.68,170.55 L338.97,167.29 L329.32,168.96 Z" fill="#237aff"/>
<path d="M377.7,175.28 L387.32,173.24 L377.63,169.89 L368.01,171.98 Z" fill="#2b67ff"/>
<path d="M396.99,176.57 L406.61,174.29 L396.93,170.92 L387.32,173.24 Z" fill="#2f61ff"/>
<path d="M435.53,178.47 L445.13,175.68 L435.48,172.3 L425.88,175.11 Z" fill="#395cff"/>
<path d="M454.77,179.04 L464.38,176 L454.74,172.62 L445.13,175.68 Z" fill="#3f5dff"/>
<path d="M474.01,179.35 L483.63,176.06 L474,172.69 L464.38,176 Z" fill="#4460ff"/>
<path d="M493.24,179.4 L502.87,175.86 L493.25,172.5 L483.63,176.06 Z" fill="#4965ff"/>
<path d="M512.48,179.19 L522.12,175.4 L512.51,172.06 L502.87,175.86 Z" fill="#4e6cff"/>
<path d="M531.72,178.72 L541.39,174.7 L531.78,171.37 L522.12,175.4 Z" fill="#5374ff"/>
<path d="M570.25,177.09 L579.96,172.66 L570.38,169.33 L560.66,173.78 Z" fill="#5a86ff"/>
<path d="M589.53,175.96 L599.28,171.36 L589.7,168.02 L579.96,172.66 Z" fill="#5d90ff"/>
<path d="M628.17,173.26 L637.98,168.37 L628.42,164.98 L618.62,169.91 Z" fill="#61a5ff"/>
<path d="M358.37,173.8 L368.01,171.98 L358.31,168.68 L348.68,170.55 Z" fill="#2770ff"/>
<path d="M416.27,177.64 L425.88,175.11 L416.21,171.73 L406.61,174.29 Z" fill="#345dff"/>
<path d="M550.98,178.01 L560.66,173.78 L551.07,170.46 L541.39,174.7 Z" fill="#577dff"/>
<path d="M608.84,174.68 L618.62,169.91 L609.05,166.56 L599.28,171.36 Z" fill="#5f9aff"/>
<path d="M348.72,175.33 L358.37,173.8 L348.68,170.55 L339.02,172.15 Z" fill="#226eff"/>
<path d="M368.06,177.04 L377.7,175.28 L368.01,171.98 L358.37,173.8 Z" fill="#2562ff"/>
<path d="M387.37,178.57 L396.99,176.57 L387.32,173.24 L377.7,175.28 Z" fill="#2959ff"/>
<path d="M406.66,179.89 L416.27,177.64 L406.61,174.29 L396.99,176.57 Z" fill="#2e53ff"/>
<path d="M425.92,180.97 L435.53,178.47 L425.88,175.11 L416.27,177.64 Z" fill="#334fff"/>
<path d="M445.17,181.8 L454.77,179.04 L445.13,175.68 L435.53,178.47 Z" fill="#384eff"/>
<path d="M464.4,182.37 L474.01,179.35 L464.38,176 L454.77,179.04 Z" fill="#3e4fff"/>
<path d="M483.63,182.68 L493.24,179.4 L483.63,176.06 L474.01,179.35 Z" fill="#4353ff"/>
<path d="M502.85,182.71 L512.48,179.19 L502.87,175.86 L493.24,179.4 Z" fill="#4858ff"/>
<path d="M522.08,182.49 L531.72,178.72 L522.12,175.4 L512.48,179.19 Z" fill="#4d5fff"/>
<path d="M541.31,182.01 L550.98,178.01 L541.39,174.7 L531.72,178.72 Z" fill="#5267ff"/>
<path d="M560.56,181.29 L570.25,177.09 L560.66,173.78 L550.98,178.01 Z" fill="#5670ff"/>
<path d="M579.82,180.37 L589.53,175.96 L579.96,172.66 L570.25,177.09 Z" fill="#597aff"/>
<path d="M599.1,179.26 L608.84,174.68 L599.28,171.36 L589.53,175.96 Z" fill="#5c84ff"/>
<path d="M618.4,177.99 L628.17,173.26 L618.62,169.91 L608.84,174.68 Z" fill="#5e8eff"/>
<path d="M358.41,178.5 L368.06,177.04 L358.37,173.8 L348.72,175.33 Z" fill="#2061ff"/>
<path d="M608.65,182.53 L618.4,177.99 L608.84,174.68 L599.1,179.26 Z" fill="#5b77ff"/>
<path d="M377.74,180.26 L387.37,178.57 L377.7,175.28 L368.06,177.04 Z" fill="#2455ff"/>
<path d="M397.04,181.83 L406.66,179.89 L396.99,176.57 L387.37,178.57 Z" fill="#284cff"/>
<path d="M416.31,183.17 L425.92,180.97 L416.27,177.64 L406.66,179.89 Z" fill="#2c45ff"/>
<path d="M435.56,184.27 L445.17,181.8 L435.53,178.47 L425.92,180.97 Z" fill="#3141ff"/>
<path d="M454.8,185.1 L464.4,182.37 L454.77,179.04 L445.17,181.8 Z" fill="#3740ff"/>
<path d="M474.02,185.67 L483.63,182.68 L474.01,179.35 L464.4,182.37 Z" fill="#3c42ff"/>
<path d="M493.23,185.96 L502.85,182.71 L493.24,179.4 L483.63,182.68 Z" fill="#4245ff"/>
<path d="M512.45,185.99 L522.08,182.49 L512.48,179.19 L502.85,182.71 Z" fill="#474bff"/>
<path d="M531.67,185.75 L541.31,182.01 L531.72,178.72 L522.08,182.49 Z" fill="#4c52ff"/>
<path d="M550.89,185.26 L560.56,181.29 L550.98,178.01 L541.31,182.01 Z" fill="#515bff"/>
<path d="M570.13,184.55 L579.82,180.37 L570.25,177.09 L560.56,181.29 Z" fill="#5564ff"/>
<path d="M589.38,183.63 L599.1,179.26 L589.53,175.96 L579.82,180.37 Z" fill="#586dff"/>
<path d="M368.09,181.65 L377.74,180.26 L368.06,177.04 L358.41,178.5 Z" fill="#1e54ff"/>
<path d="M406.69,185.06 L416.31,183.17 L406.66,179.89 L397.04,181.83 Z" fill="#263eff"/>
<path d="M445.19,187.53 L454.8,185.1 L445.17,181.8 L435.56,184.27 Z" fill="#3034ff"/>
<path d="M464.42,188.36 L474.02,185.67 L464.4,182.37 L454.8,185.1 Z" fill="#3535ff"/>
<path d="M483.63,188.93 L493.23,185.96 L483.63,182.68 L474.02,185.67 Z" fill="#3b3bff"/>
<path d="M502.83,189.21 L512.45,185.99 L502.85,182.71 L493.23,185.96 Z" fill="#4040ff"/>
<path d="M522.04,189.22 L531.67,185.75 L522.08,182.49 L512.45,185.99 Z" fill="#4646ff"/>
<path d="M560.46,188.49 L570.13,184.55 L560.56,181.29 L550.89,185.26 Z" fill="#4f4fff"/>
<path d="M598.94,186.86 L608.65,182.53 L599.1,179.26 L589.38,183.63 Z" fill="#5761ff"/>
<path d="M387.4,183.47 L397.04,181.83 L387.37,178.57 L377.74,180.26 Z" fill="#2248ff"/>
<path d="M425.95,186.42 L435.56,184.27 L425.92,180.97 L416.31,183.17 Z" fill="#2b38ff"/>
<path d="M541.24,188.98 L550.89,185.26 L541.31,182.01 L531.67,185.75 Z" fill="#4b4bff"/>
<path d="M579.69,187.77 L589.38,183.63 L579.82,180.37 L570.13,184.55 Z" fill="#5357ff"/>
<path d="M474.03,191.58 L483.63,188.93 L474.02,185.67 L464.42,188.36 Z" fill="#3434ff"/>
<path d="M493.23,192.13 L502.83,189.21 L493.23,185.96 L483.63,188.93 Z" fill="#3939ff"/>
<path d="M377.75,184.78 L387.4,183.47 L377.74,180.26 L368.09,181.65 Z" fill="#1d48ff"/>
<path d="M397.06,186.63 L406.69,185.06 L397.04,181.83 L387.4,183.47 Z" fill="#203bff"/>
<path d="M416.34,188.26 L425.95,186.42 L416.31,183.17 L406.69,185.06 Z" fill="#2531ff"/>
<path d="M435.59,189.64 L445.19,187.53 L435.56,184.27 L425.95,186.42 Z" fill="#292aff"/>
<path d="M454.81,190.75 L464.42,188.36 L454.8,185.1 L445.19,187.53 Z" fill="#2e2eff"/>
<path d="M512.42,192.41 L522.04,189.22 L512.45,185.99 L502.83,189.21 Z" fill="#3f3fff"/>
<path d="M531.62,192.42 L541.24,188.98 L531.67,185.75 L522.04,189.22 Z" fill="#4444ff"/>
<path d="M550.82,192.16 L560.46,188.49 L550.89,185.26 L541.24,188.98 Z" fill="#4949ff"/>
<path d="M570.02,191.67 L579.69,187.77 L570.13,184.55 L560.46,188.49 Z" fill="#4e4eff"/>
<path d="M589.25,190.96 L598.94,186.86 L589.38,183.63 L579.69,187.77 Z" fill="#5252ff"/>
<path d="M387.41,187.87 L397.06,186.63 L387.4,183.47 L377.75,184.78 Z" fill="#1b3cff"/>
<path d="M425.97,191.41 L435.59,189.64 L425.95,186.42 L416.34,188.26 Z" fill="#2324ff"/>
<path d="M445.21,192.8 L454.81,190.75 L445.19,187.53 L435.59,189.64 Z" fill="#2828ff"/>
<path d="M464.43,193.91 L474.03,191.58 L464.42,188.36 L454.81,190.75 Z" fill="#2d2dff"/>
<path d="M483.63,194.75 L493.23,192.13 L483.63,188.93 L474.03,191.58 Z" fill="#3232ff"/>
<path d="M502.82,195.29 L512.42,192.41 L502.83,189.21 L493.23,192.13 Z" fill="#3838ff"/>
<path d="M522,195.56 L531.62,192.42 L522.04,189.22 L512.42,192.41 Z" fill="#3d3dff"/>
<path d="M541.19,195.56 L550.82,192.16 L541.24,188.98 L531.62,192.42 Z" fill="#4343ff"/>
<path d="M579.58,194.81 L589.25,190.96 L579.69,187.77 L570.02,191.67 Z" fill="#4c4cff"/>
<path d="M406.71,189.76 L416.34,188.26 L406.69,185.06 L397.06,186.63 Z" fill="#1f2fff"/>
<path d="M560.38,195.3 L570.02,191.67 L560.46,188.49 L550.82,192.16 Z" fill="#4747ff"/>
<path d="M397.06,190.91 L406.71,189.76 L397.06,186.63 L387.41,187.87 Z" fill="#1931ff"/>
<path d="M416.34,192.84 L425.97,191.41 L416.34,188.26 L406.71,189.76 Z" fill="#1d23ff"/>
<path d="M435.6,194.51 L445.21,192.8 L435.59,189.64 L425.97,191.41 Z" fill="#2121ff"/>
<path d="M454.82,195.91 L464.43,193.91 L454.81,190.75 L445.21,192.8 Z" fill="#2626ff"/>
<path d="M474.03,197.02 L483.63,194.75 L474.03,191.58 L464.43,193.91 Z" fill="#2b2bff"/>
<path d="M493.22,197.85 L502.82,195.29 L493.23,192.13 L483.63,194.75 Z" fill="#3030ff"/>
<path d="M512.4,198.39 L522,195.56 L512.42,192.41 L502.82,195.29 Z" fill="#3636ff"/>
<path d="M531.58,198.65 L541.19,195.56 L531.62,192.42 L522,195.56 Z" fill="#3b3bff"/>
<path d="M550.75,198.64 L560.38,195.3 L550.82,192.16 L541.19,195.56 Z" fill="#4141ff"/>
<path d="M569.94,198.38 L579.58,194.81 L570.02,191.67 L560.38,195.3 Z" fill="#4646ff"/>
<path d="M406.7,193.91 L416.34,192.84 L406.71,189.76 L397.06,190.91 Z" fill="#1826ff"/>
<path d="M425.97,195.86 L435.6,194.51 L425.97,191.41 L416.34,192.84 Z" fill="#1b1bff"/>
<path d="M445.21,197.55 L454.82,195.91 L445.21,192.8 L435.6,194.51 Z" fill="#2020ff"/>
<path d="M464.43,198.95 L474.03,197.02 L464.43,193.91 L454.82,195.91 Z" fill="#2424ff"/>
<path d="M483.62,200.07 L493.22,197.85 L483.63,194.75 L474.03,197.02 Z" fill="#2929ff"/>
<path d="M502.8,200.89 L512.4,198.39 L502.82,195.29 L493.22,197.85 Z" fill="#2f2fff"/>
<path d="M521.98,201.43 L531.58,198.65 L522,195.56 L512.4,198.39 Z" fill="#3434ff"/>
<path d="M541.14,201.68 L550.75,198.64 L541.19,195.56 L531.58,198.65 Z" fill="#3939ff"/>
<path d="M560.31,201.67 L569.94,198.38 L560.38,195.3 L550.75,198.64 Z" fill="#3f3fff"/>
<path d="M416.33,196.84 L425.97,195.86 L416.34,192.84 L406.7,193.91 Z" fill="#161bff"/>
<path d="M435.59,198.82 L445.21,197.55 L435.6,194.51 L425.97,195.86 Z" fill="#1a1aff"/>
<path d="M454.82,200.52 L464.43,198.95 L454.82,195.91 L445.21,197.55 Z" fill="#1e1eff"/>
<path d="M474.03,201.93 L483.62,200.07 L474.03,197.02 L464.43,198.95 Z" fill="#2222ff"/>
<path d="M493.21,203.05 L502.8,200.89 L493.22,197.85 L483.62,200.07 Z" fill="#2727ff"/>
<path d="M512.38,203.87 L521.98,201.43 L512.4,198.39 L502.8,200.89 Z" fill="#2d2dff"/>
<path d="M531.55,204.4 L541.14,201.68 L531.58,198.65 L521.98,201.43 Z" fill="#3232ff"/>
<path d="M550.71,204.65 L560.31,201.67 L550.75,198.64 L541.14,201.68 Z" fill="#3737ff"/>
<path d="M425.96,199.7 L435.59,198.82 L425.97,195.86 L416.33,196.84 Z" fill="#1515ff"/>
<path d="M445.21,201.7 L454.82,200.52 L445.21,197.55 L435.59,198.82 Z" fill="#1818ff"/>
<path d="M521.96,206.76 L531.55,204.4 L521.98,201.43 L512.38,203.87 Z" fill="#2b2bff"/>
<path d="M541.11,207.29 L550.71,204.65 L541.14,201.68 L531.55,204.4 Z" fill="#3030ff"/>
<path d="M464.42,203.41 L474.03,201.93 L464.43,198.95 L454.82,200.52 Z" fill="#1c1cff"/>
<path d="M483.62,204.83 L493.21,203.05 L483.62,200.07 L474.03,201.93 Z" fill="#2121ff"/>
<path d="M502.79,205.94 L512.38,203.87 L502.8,200.89 L493.21,203.05 Z" fill="#2525ff"/>
<path d="M435.58,202.47 L445.21,201.7 L435.59,198.82 L425.96,199.7 Z" fill="#1313ff"/>
<path d="M531.53,209.57 L541.11,207.29 L531.55,204.4 L521.96,206.76 Z" fill="#2828ff"/>
<path d="M454.81,204.49 L464.42,203.41 L454.82,200.52 L445.21,201.7 Z" fill="#1717ff"/>
<path d="M474.02,206.22 L483.62,204.83 L474.03,201.93 L464.42,203.41 Z" fill="#1a1aff"/>
<path d="M493.21,207.64 L502.79,205.94 L493.21,203.05 L483.62,204.83 Z" fill="#1f1fff"/>
<path d="M512.37,208.75 L521.96,206.76 L512.38,203.87 L502.79,205.94 Z" fill="#2323ff"/>
<path d="M445.19,205.16 L454.81,204.49 L445.21,201.7 L435.58,202.47 Z" fill="#1212ff"/>
<path d="M464.42,207.2 L474.02,206.22 L464.42,203.41 L454.81,204.49 Z" fill="#1515ff"/>
<path d="M483.61,208.93 L493.21,207.64 L483.62,204.83 L474.02,206.22 Z" fill="#1919ff"/>
<path d="M502.79,210.35 L512.37,208.75 L502.79,205.94 L493.21,207.64 Z" fill="#1d1dff"/>
<path d="M521.95,211.47 L531.53,209.57 L521.96,206.76 L512.37,208.75 Z" fill="#2121ff"/>
<path d="M474.01,209.8 L483.61,208.93 L474.02,206.22 L464.42,207.2 Z" fill="#1313ff"/>
<path d="M493.2,211.54 L502.79,210.35 L493.21,207.64 L483.61,208.93 Z" fill="#1717ff"/>
<path d="M454.8,207.75 L464.42,207.2 L454.81,204.49 L445.19,205.16 Z" fill="#1111ff"/>
<path d="M512.37,212.97 L521.95,211.47 L512.37,208.75 L502.79,210.35 Z" fill="#1b1bff"/>
<path d="M464.4,210.22 L474.01,209.8 L464.42,207.2 L454.8,207.75 Z" fill="#0f0fff"/>
<path d="M483.61,212.29 L493.2,211.54 L483.61,208.93 L474.01,209.8 Z" fill="#1212ff"/>
<path d="M502.79,214.04 L512.37,212.97 L502.79,210.35 L493.2,211.54 Z" fill="#1515ff"/>
<path d="M474,212.58 L483.61,212.29 L474.01,209.8 L464.4,210.22 Z" fill="#0e0eff"/>
<path d="M493.2,214.66 L502.79,214.04 L493.2,211.54 L483.61,212.29 Z" fill="#1010ff"/>
<path d="M483.6,214.8 L493.2,214.66 L483.61,212.29 L474,212.58 Z" fill="#0d0dff"/>
</g>
<ellipse cx="483.6" cy="158.8" rx="4" ry="2.6" fill="#c00000" stroke="#5a0000" stroke-width="0.7"/>
<ellipse cx="483.6" cy="214.7" rx="4" ry="2.6" fill="#c00000" stroke="#5a0000" stroke-width="0.7"/>
<ellipse cx="678.5" cy="146.6" rx="4" ry="2.6" fill="#c00000" stroke="#5a0000" stroke-width="0.7"/>
<text transform="translate(286.58,188.9) scale(1.357,1)" font-family="DejaVu Sans, Liberation Sans, sans-serif" font-size="6.1" text-anchor="end" fill="#222">200</text>
<text transform="translate(284.97,170.1) scale(1.357,1)" font-family="DejaVu Sans, Liberation Sans, sans-serif" font-size="6.1" text-anchor="end" fill="#222">300</text>
<text transform="translate(283.35,151.3) scale(1.357,1)" font-family="DejaVu Sans, Liberation Sans, sans-serif" font-size="6.1" text-anchor="end" fill="#222">400</text>
<text transform="translate(281.74,132.5) scale(1.357,1)" font-family="DejaVu Sans, Liberation Sans, sans-serif" font-size="6.1" text-anchor="end" fill="#222">500</text>
<text transform="translate(280.13,113.7) scale(1.357,1)" font-family="DejaVu Sans, Liberation Sans, sans-serif" font-size="6.1" text-anchor="end" fill="#222">600</text>
<text transform="translate(278.51,94.9) scale(1.357,1)" font-family="DejaVu Sans, Liberation Sans, sans-serif" font-size="6.1" text-anchor="end" fill="#222">700</text>
<text transform="translate(276.9,76.1) scale(1.357,1)" font-family="DejaVu Sans, Liberation Sans, sans-serif" font-size="6.1" text-anchor="end" fill="#222">800</text>
<text transform="translate(478,283.9) scale(1.361,1)" font-family="DejaVu Sans, Liberation Sans, sans-serif" font-size="6.1" text-anchor="end" fill="#222">1</text>
<text transform="translate(488.9,283.5) scale(1.361,1)" font-family="DejaVu Sans, Liberation Sans, sans-serif" font-size="6.1" text-anchor="start" fill="#222">1</text>
<text transform="translate(440.44,273.56) scale(1.361,1)" font-family="DejaVu Sans, Liberation Sans, sans-serif" font-size="6.1" text-anchor="end" fill="#222">1.2</text>
<text transform="translate(526.55,273.16) scale(1.361,1)" font-family="DejaVu Sans, Liberation Sans, sans-serif" font-size="6.1" text-anchor="start" fill="#222">1.2</text>
<text transform="translate(402.88,263.22) scale(1.361,1)" font-family="DejaVu Sans, Liberation Sans, sans-serif" font-size="6.1" text-anchor="end" fill="#222">1.4</text>
<text transform="translate(564.2,262.82) scale(1.361,1)" font-family="DejaVu Sans, Liberation Sans, sans-serif" font-size="6.1" text-anchor="start" fill="#222">1.4</text>
<text transform="translate(365.32,252.88) scale(1.361,1)" font-family="DejaVu Sans, Liberation Sans, sans-serif" font-size="6.1" text-anchor="end" fill="#222">1.6</text>
<text transform="translate(601.85,252.48) scale(1.361,1)" font-family="DejaVu Sans, Liberation Sans, sans-serif" font-size="6.1" text-anchor="start" fill="#222">1.6</text>
<text transform="translate(327.76,242.54) scale(1.361,1)" font-family="DejaVu Sans, Liberation Sans, sans-serif" font-size="6.1" text-anchor="end" fill="#222">1.8</text>
<text transform="translate(639.5,242.14) scale(1.361,1)" font-family="DejaVu Sans, Liberation Sans, sans-serif" font-size="6.1" text-anchor="start" fill="#222">1.8</text>
<text transform="translate(290.2,232.2) scale(1.361,1)" font-family="DejaVu Sans, Liberation Sans, sans-serif" font-size="6.1" text-anchor="end" fill="#222">2</text>
<text transform="translate(677.15,231.8) scale(1.361,1)" font-family="DejaVu Sans, Liberation Sans, sans-serif" font-size="6.1" text-anchor="start" fill="#222">2</text>
<ellipse cx="292.78" cy="190.7" rx="1.9" ry="1.25" fill="#000"/>
<ellipse cx="291.17" cy="171.9" rx="1.9" ry="1.25" fill="#000"/>
<ellipse cx="289.55" cy="153.1" rx="1.9" ry="1.25" fill="#000"/>
<ellipse cx="287.94" cy="134.3" rx="1.9" ry="1.25" fill="#000"/>
<ellipse cx="286.33" cy="115.5" rx="1.9" ry="1.25" fill="#000"/>
<ellipse cx="284.71" cy="96.7" rx="1.9" ry="1.25" fill="#000"/>
<ellipse cx="283.1" cy="77.9" rx="1.9" ry="1.25" fill="#000"/>
<ellipse cx="483.6" cy="277.6" rx="1.9" ry="1.25" fill="#000"/>
<ellipse cx="483.6" cy="277.6" rx="1.9" ry="1.25" fill="#000"/>
<ellipse cx="446.04" cy="267.26" rx="1.9" ry="1.25" fill="#000"/>
<ellipse cx="521.25" cy="267.26" rx="1.9" ry="1.25" fill="#000"/>
<ellipse cx="408.48" cy="256.92" rx="1.9" ry="1.25" fill="#000"/>
<ellipse cx="558.9" cy="256.92" rx="1.9" ry="1.25" fill="#000"/>
<ellipse cx="370.92" cy="246.58" rx="1.9" ry="1.25" fill="#000"/>
<ellipse cx="596.55" cy="246.58" rx="1.9" ry="1.25" fill="#000"/>
<ellipse cx="333.36" cy="236.24" rx="1.9" ry="1.25" fill="#000"/>
<ellipse cx="634.2" cy="236.24" rx="1.9" ry="1.25" fill="#000"/>
<ellipse cx="295.8" cy="225.9" rx="1.9" ry="1.25" fill="#000"/>
<ellipse cx="671.85" cy="225.9" rx="1.9" ry="1.25" fill="#000"/>
<text transform="translate(316.8,273) scale(1.380,1)" font-family="DejaVu Sans, Liberation Sans, sans-serif" font-size="7" text-anchor="middle" fill="#222">B: Yeast extract</text>
<text transform="translate(649.9,272.8) scale(1.444,1)" font-family="DejaVu Sans, Liberation Sans, sans-serif" font-size="7" text-anchor="middle" fill="#222">A: Peptone</text>
<text transform="translate(224.5,177.8) rotate(-90) scale(1,2.12)" font-family="DejaVu Sans, Liberation Sans, sans-serif" font-size="5.65" fill="#111">Protease activity</text>
<text transform="translate(473.2,11.7) scale(1.483,1)" font-family="DejaVu Sans, Liberation Sans, sans-serif" font-size="10.6" text-anchor="start" fill="#111">3D Surface</text>
<text transform="translate(1,5.7) scale(1.448,1)" font-family="DejaVu Sans, Liberation Sans, sans-serif" font-size="7.4" text-anchor="start" fill="#222">Factor Coding: Actual</text>
<text transform="translate(1,28.4) scale(1.319,1)" font-family="DejaVu Sans, Liberation Sans, sans-serif" font-size="7.4" text-anchor="start" fill="#000" font-weight="bold">Protease activity</text>
<text transform="translate(1,39.9) scale(1.444,1)" font-family="DejaVu Sans, Liberation Sans, sans-serif" font-size="7.4" text-anchor="start" fill="#222">Design Points:</text>
<ellipse cx="13" cy="48.3" rx="6.4" ry="3.7" fill="#b00000" stroke="#500" stroke-width="0.6"/>
<text transform="translate(26.6,51.2) scale(1.421,1)" font-family="DejaVu Sans, Liberation Sans, sans-serif" font-size="7.4" text-anchor="start" fill="#c0282d">Above Surface</text>
<ellipse cx="13" cy="59.5" rx="6.4" ry="3.7" fill="#ffc0c0" stroke="#555" stroke-width="0.6"/>
<text transform="translate(26.6,62.6) scale(1.401,1)" font-family="DejaVu Sans, Liberation Sans, sans-serif" font-size="7.4" text-anchor="start" fill="#c0282d">Below Surface</text>
<text transform="translate(1,73.6) scale(1.322,1)" font-family="DejaVu Sans, Liberation Sans, sans-serif" font-size="7.4" text-anchor="start" fill="#2222ff">317.8</text>
<rect x="33.6" y="66" width="44.6" height="9.9" fill="url(#lg)" stroke="#333" stroke-width="0.4"/>
<text transform="translate(83,73.6) scale(1.345,1)" font-family="DejaVu Sans, Liberation Sans, sans-serif" font-size="7.4" text-anchor="start" fill="#ff2020">732</text>
<text transform="translate(1,95.8) scale(1.383,1)" font-family="DejaVu Sans, Liberation Sans, sans-serif" font-size="7.4" text-anchor="start" fill="#222">X1 = A</text>
<text transform="translate(1,107.2) scale(1.359,1)" font-family="DejaVu Sans, Liberation Sans, sans-serif" font-size="7.4" text-anchor="start" fill="#222">X2 = B</text>
<text transform="translate(1,130) scale(1.356,1)" font-family="DejaVu Sans, Liberation Sans, sans-serif" font-size="7.4" text-anchor="start" fill="#000" font-weight="bold">Actual Factor</text>
<text transform="translate(1,141) scale(1.352,1)" font-family="DejaVu Sans, Liberation Sans, sans-serif" font-size="7.4" text-anchor="start" fill="#222">C = 0.75</text>
</g>
<g transform="matrix(0.9894,0,0,1.0676,2.476,310.83)">
<polygon points="483.6,277.6 671.85,225.9 483.6,185.4 295.8,225.9" fill="#666666" stroke="#111" stroke-width="0.8"/>
<path d="M329.32,235.13 L332.77,233.72 L336.33,232.35 L341.27,230.58 L345.13,229.3 L349.6,227.9 L354.6,226.45 L360.34,224.9 L366.32,223.42 L372.56,222.02 L379.08,220.68 L385.9,219.42 L391.7,218.45 L398.65,217.41 L404.49,216.64 L410.6,215.93 L417.02,215.3 L423.8,214.75 L429.4,214.39 L436.2,214.09 L441.68,213.94 L447.75,213.89 L454.08,213.98 L461.47,214.27 L466.87,214.63 L473.61,215.28 L479.68,216.07 L486.01,217.15 L491.77,218.41 L496.19,219.59 L501.45,221.32 L504.96,222.73 L508.1,224.24 L510.88,225.83 L513.15,227.4 L514.73,228.7 L516.51,230.51 L517.54,231.86 L518.41,233.3 L519.14,235.04 L519.55,236.7 L519.67,238.3 L519.55,239.85 L519.22,241.36 L518.72,242.82 L518,244.33 L516.81,246.24 L515.72,247.68 L514.27,249.32 L512.63,250.95 L510.61,252.72 L508.92,254.08 L506.43,255.9 L503.77,257.68 L501.05,259.37 L498.44,260.9 L495.55,262.5 L492.33,264.2 L488.78,265.99 L485.11,267.77 L481.68,269.38 L478.2,270.98 L474.68,272.58 L471.13,274.17" fill="none" stroke="#0e9ee9" stroke-width="1.3"/>
<path d="M303.4,227.99 L304.57,227.54 L305.75,227.1 L306.94,226.65 L307.55,226.43 L308.14,226.21 L309.35,225.78 L310.57,225.34 L311.8,224.91 L313.04,224.48 L313.13,224.45 L314.29,224.06 L315.55,223.63 L316.82,223.21 L318.1,222.8 L319.39,222.38 L319.92,222.22 L320.69,221.97 L322,221.57 L323.32,221.16 L324.64,220.76 L325.98,220.36 L327.33,219.96 L328.69,219.57 L328.85,219.53 L330.06,219.18 L331.44,218.79 L332.83,218.41 L334.23,218.03 L335.64,217.65 L337.06,217.28 L338.5,216.9 L339.94,216.53 L341.39,216.17 L342.85,215.8 L344.32,215.44 L344.51,215.4" fill="none" stroke="#0ee9ad" stroke-width="1.3"/>
<path d="M367.9,210.35 L372.8,209.44 L377.94,208.54 L383.2,207.67 L386.78,207.1 L392.27,206.28 L396.01,205.75 L401.77,204.99 L405.7,204.51 L411.2,203.87 L415.91,203.38 L420.17,202.96 L424.54,202.57 L429.04,202.21 L433.68,201.88 L438.48,201.59 L443.48,201.33 L448.69,201.12 L453.58,200.98 L457.06,200.92 L463.01,200.88 L466.67,200.9 L472.5,201.02 L476.63,201.16 L480.55,201.34 L485.47,201.64 L490.14,202 L494.91,202.45 L500.74,203.13 L504.62,203.67 L510.09,204.55 L513.54,205.18 L518.43,206.19 L523.01,207.28 L525.9,208.04 L530.01,209.24 L533.87,210.5 L536.31,211.38 L538.92,212.39 L541.97,213.68 L544.06,214.64 L546.06,215.63 L547.96,216.65 L550.07,217.88 L551.92,219.05 L553.55,220.17 L555,221.25 L556.3,222.31 L557.47,223.33 L558.68,224.5 L559.83,225.73 L560.88,226.99 L561.72,228.13 L562.33,229.04 L563.04,230.28 L563.72,231.65 L564.08,232.55 L564.5,233.78 L564.83,235.06 L564.99,235.99 L565.15,237.49 L565.18,238.3 L565.11,239.85 L565.01,240.72 L564.75,242.15 L564.46,243.25 L564.09,244.38 L563.5,245.84 L563.03,246.84 L562.41,248 L561.56,249.4 L560.67,250.71 L559.91,251.73 L559.02,252.84 L557.85,254.19 L556.6,255.52 L555.27,256.83 L553.88,258.13 L553.61,258.37" fill="none" stroke="#0ee9ad" stroke-width="1.3"/>
<path d="M556.01,200.98 L558.28,201.75 L560.67,202.6 L561.84,203.04 L564.11,203.92 L565.34,204.42 L567.4,205.29 L568.75,205.88 L570.53,206.69 L571.7,207.24 L573.52,208.13 L574.49,208.62 L576.36,209.62 L577.28,210.12 L578.76,210.96 L579.93,211.66 L580.79,212.18 L582.45,213.24 L583.26,213.78 L584.09,214.34 L585.59,215.41 L586.33,215.97 L587.07,216.53 L588.29,217.5 L589.16,218.23 L589.83,218.81 L590.62,219.52 L591.66,220.5 L592.34,221.18 L592.93,221.78 L593.54,222.43 L594.38,223.38 L595.11,224.25 L595.61,224.88 L596.09,225.52 L596.56,226.16 L597.18,227.06 L597.75,227.96 L598.24,228.79 L598.61,229.46 L598.96,230.14 L599.29,230.83 L599.61,231.52 L599.94,232.33 L600.25,233.18 L600.53,234.02 L600.78,234.86 L600.99,235.69 L601.16,236.52 L601.3,237.32 L601.4,238.08 L601.48,238.85 L601.53,239.63 L601.55,240.42 L601.54,241.21 L601.51,242.02 L601.44,242.83 L601.35,243.66 L601.22,244.48 L601.08,245.25 L601.06,245.34" fill="none" stroke="#0ee91a" stroke-width="1.3"/>
<path d="M460.05,190.48 L460.18,190.47 L462.87,190.39 L463.78,190.36 L465.63,190.31 L467.35,190.27 L468.46,190.25 L470.78,190.22 L471.37,190.21 L474.08,190.19 L474.37,190.19 L477.25,190.18 L477.47,190.19 L480.3,190.2 L480.7,190.21 L483.25,190.24 L484.07,190.26 L486.11,190.31 L487.6,190.35 L488.87,190.38 L491.33,190.47 L491.55,190.48 L494.15,190.6 L495.32,190.65 L496.67,190.73 L499.12,190.87 L499.63,190.9 L501.51,191.03 L503.83,191.2 L504.38,191.24 L506.09,191.38 L508.29,191.58 L509.79,191.72 L510.45,191.79 L512.55,192.01 L514.6,192.24 L516.33,192.44" fill="none" stroke="#0ee91a" stroke-width="1.3"/>
<path d="M612.55,213.14 L613.12,213.59 L613.81,214.15 L613.82,214.16 L614.49,214.72 L615.01,215.16 L615.17,215.29 L615.83,215.86 L616.15,216.15 L616.48,216.44 L617.12,217.02 L617.23,217.13 L617.74,217.61 L618.26,218.1 L618.36,218.2 L618.96,218.79 L619.23,219.06 L619.55,219.39 L620.13,219.99 L620.16,220.01 L620.69,220.59 L621.03,220.96 L621.25,221.2 L621.79,221.82 L621.86,221.9 L622.32,222.44 L622.65,222.83 L622.84,223.06 L623.34,223.69 L623.39,223.76 L623.83,224.32 L624.1,224.67 L624.31,224.96 L624.76,225.58 L624.77,225.6 L625.22,226.24 L625.39,226.49 L625.66,226.89 L625.98,227.39 L626.08,227.55 L626.49,228.21 L626.53,228.28 L626.88,228.88 L627.05,229.17 L627.26,229.55 L627.53,230.05 L627.62,230.22 L627.97,230.9 L627.99,230.93 L628.3,231.59 L628.4,231.8 L628.62,232.28 L628.79,232.66 L628.92,232.98 L629.15,233.53 L629.21,233.68 L629.48,234.38 L629.48,234.39 L629.73,235.11 L629.77,235.23 L629.96,235.83 L630.04,236.08 L630.18,236.56 L630.28,236.92 L630.38,237.29" fill="none" stroke="#92e90e" stroke-width="1.3"/>
<path d="M644.15,219.94 L644.51,220.34 L644.99,220.88 L645.06,220.95 L645.59,221.57 L645.79,221.81 L646.11,222.19 L646.57,222.73 L646.63,222.81 L647.13,223.43 L647.3,223.66 L647.62,224.06 L648.01,224.57 L648.11,224.7 L648.58,225.34 L648.69,225.49 L649.04,225.98 L649.34,226.39 L649.49,226.62 L649.94,227.27 L649.95,227.3 L650.36,227.93 L650.54,228.2 L650.78,228.58 L651.1,229.09 L651.19,229.25 L651.59,229.91 L651.63,229.99 L651.97,230.58 L652.14,230.87 L652.34,231.26" fill="none" stroke="#e9b30e" stroke-width="1.3"/>
<ellipse cx="287.37" cy="140.01" rx="4" ry="2.6" fill="#ffc0c0" stroke="#555" stroke-width="0.7"/>
<path d="M295.8,225.9 L283.1,77.9 M671.85,225.9 L683.7,78 M330.94,183.29 L323.2,72.7 M636.45,183.31 L643.68,72.78 M369.11,175.88 L363.3,67.5 M598.24,175.9 L603.66,67.56 M407.27,168.47 L403.4,62.3 M560.03,168.48 L563.64,62.34 M445.44,161.06 L443.5,57.1 M521.81,161.07 L523.62,57.12 M483.6,185.4 L483.6,51.9 M483.6,185.4 L483.6,51.9 M292.78,190.7 L483.6,153.65 L674.67,190.73 M291.17,171.9 L483.6,136.69 L676.17,171.94 M289.55,153.1 L483.6,119.74 L677.68,153.15 M287.94,134.3 L483.6,102.78 L679.18,134.36 M286.33,115.5 L483.6,85.82 L680.69,115.58 M284.71,96.7 L483.6,68.86 L682.19,96.79 M283.1,77.9 L483.6,51.9 L683.7,78" fill="none" stroke="#1a1a1a" stroke-width="0.75"/>
<g stroke="#05051a" stroke-opacity="0.88" stroke-width="0.62" stroke-linejoin="round">
<path d="M483.6,102 L493.38,97.73 L483.6,93.93 L473.82,97.94 Z" fill="#6bff55"/>
<path d="M473.84,106.1 L483.6,102 L473.82,97.94 L464.05,101.79 Z" fill="#4eff50"/>
<path d="M493.35,105.6 L503.14,101.07 L493.38,97.73 L483.6,102 Z" fill="#62ff60"/>
<path d="M464.1,110.03 L473.84,106.1 L464.05,101.79 L454.31,105.48 Z" fill="#48ff62"/>
<path d="M483.59,109.95 L493.35,105.6 L483.6,102 L473.84,106.1 Z" fill="#5aff72"/>
<path d="M503.1,108.75 L512.9,103.96 L503.14,101.07 L493.35,105.6 Z" fill="#68ff75"/>
<path d="M473.86,114.1 L483.59,109.95 L473.84,106.1 L464.1,110.03 Z" fill="#54ff84"/>
<path d="M493.33,113.33 L503.1,108.75 L493.35,105.6 L483.59,109.95 Z" fill="#63ff8a"/>
<path d="M454.38,113.78 L464.1,110.03 L454.31,105.48 L444.58,109.01 Z" fill="#41ff73"/>
<path d="M512.84,111.45 L522.65,106.41 L512.9,103.96 L503.1,108.75 Z" fill="#6dff83"/>
<path d="M444.67,117.35 L454.38,113.78 L444.58,109.01 L434.87,112.38 Z" fill="#3bff84"/>
<path d="M464.14,118.07 L473.86,114.1 L464.1,110.03 L454.38,113.78 Z" fill="#4dff97"/>
<path d="M483.59,117.71 L493.33,113.33 L483.59,109.95 L473.86,114.1 Z" fill="#5eff9e"/>
<path d="M503.06,116.26 L512.84,111.45 L503.1,108.75 L493.33,113.33 Z" fill="#6aff9b"/>
<path d="M522.57,113.7 L532.4,108.43 L522.65,106.41 L512.84,111.45 Z" fill="#6fff8b"/>
<path d="M454.44,121.84 L464.14,118.07 L454.38,113.78 L444.67,117.35 Z" fill="#47ffa9"/>
<path d="M512.79,118.75 L522.57,113.7 L512.84,111.45 L503.06,116.26 Z" fill="#6dffa5"/>
<path d="M434.98,120.74 L444.67,117.35 L434.87,112.38 L425.17,115.56 Z" fill="#35ff94"/>
<path d="M473.88,121.89 L483.59,117.71 L473.86,114.1 L464.14,118.07 Z" fill="#58ffb2"/>
<path d="M493.32,120.86 L503.06,116.26 L493.33,113.33 L483.59,117.71 Z" fill="#66ffb1"/>
<path d="M532.31,115.53 L542.16,110.02 L532.4,108.43 L522.57,113.7 Z" fill="#6dff8c"/>
<path d="M425.3,123.94 L434.98,120.74 L425.17,115.56 L415.47,118.58 Z" fill="#30ffa3"/>
<path d="M444.76,125.42 L454.44,121.84 L444.67,117.35 L434.98,120.74 Z" fill="#40ffba"/>
<path d="M464.18,125.86 L473.88,121.89 L464.14,118.07 L454.44,121.84 Z" fill="#52ffc5"/>
<path d="M483.6,125.24 L493.32,120.86 L483.59,117.71 L473.88,121.89 Z" fill="#61ffc6"/>
<path d="M503.03,123.55 L512.79,118.75 L503.06,116.26 L493.32,120.86 Z" fill="#6affbd"/>
<path d="M522.51,120.8 L532.31,115.53 L522.57,113.7 L512.79,118.75 Z" fill="#6dffa9"/>
<path d="M542.06,116.94 L551.93,111.19 L542.16,110.02 L532.31,115.53 Z" fill="#68ff88"/>
<path d="M415.63,126.95 L425.3,123.94 L415.47,118.58 L405.79,121.41 Z" fill="#2bffb1"/>
<path d="M435.09,128.81 L444.76,125.42 L434.98,120.74 L425.3,123.94 Z" fill="#3affcb"/>
<path d="M454.5,129.62 L464.18,125.86 L454.44,121.84 L444.76,125.42 Z" fill="#4bffd8"/>
<path d="M473.9,129.4 L483.6,125.24 L473.88,121.89 L464.18,125.86 Z" fill="#5bffda"/>
<path d="M493.3,128.13 L503.03,123.55 L493.32,120.86 L483.6,125.24 Z" fill="#66ffd3"/>
<path d="M512.74,125.81 L522.51,120.8 L512.79,118.75 L503.03,123.55 Z" fill="#6cffc3"/>
<path d="M532.24,122.42 L542.06,116.94 L532.31,115.53 L522.51,120.8 Z" fill="#6affa8"/>
<path d="M551.83,117.92 L561.72,111.95 L551.93,111.19 L542.06,116.94 Z" fill="#62ff7f"/>
<path d="M425.43,131.99 L435.09,128.81 L425.3,123.94 L415.63,126.95 Z" fill="#35ffda"/>
<path d="M444.84,133.18 L454.5,129.62 L444.76,125.42 L435.09,128.81 Z" fill="#45ffe9"/>
<path d="M483.6,132.48 L493.3,128.13 L483.6,125.24 L473.9,129.4 Z" fill="#62ffe8"/>
<path d="M522.45,127.63 L532.24,122.42 L522.51,120.8 L512.74,125.81 Z" fill="#6affc5"/>
<path d="M541.98,123.62 L551.83,117.92 L542.06,116.94 L532.24,122.42 Z" fill="#65ffa2"/>
<path d="M405.97,129.77 L415.63,126.95 L405.79,121.41 L396.1,124.05 Z" fill="#26ffbd"/>
<path d="M464.22,133.34 L473.9,129.4 L464.18,125.86 L454.5,129.62 Z" fill="#55ffed"/>
<path d="M503,130.58 L512.74,125.81 L503.03,123.55 L493.3,128.13 Z" fill="#69ffdb"/>
<path d="M561.61,118.51 L571.53,112.3 L561.72,111.95 L551.83,117.92 Z" fill="#5bff71"/>
<path d="M396.3,132.39 L405.97,129.77 L396.1,124.05 L386.42,126.5 Z" fill="#22ffc8"/>
<path d="M415.78,134.97 L425.43,131.99 L415.63,126.95 L405.97,129.77 Z" fill="#2fffe8"/>
<path d="M435.19,136.52 L444.84,133.18 L435.09,128.81 L425.43,131.99 Z" fill="#3efffa"/>
<path d="M454.56,137.06 L464.22,133.34 L454.5,129.62 L444.84,133.18 Z" fill="#4efeff"/>
<path d="M473.92,136.59 L483.6,132.48 L473.9,129.4 L464.22,133.34 Z" fill="#5cfffc"/>
<path d="M493.29,135.1 L503,130.58 L493.3,128.13 L483.6,132.48 Z" fill="#65fff1"/>
<path d="M512.7,132.59 L522.45,127.63 L512.74,125.81 L503,130.58 Z" fill="#69ffde"/>
<path d="M532.17,129.03 L541.98,123.62 L532.24,122.42 L522.45,127.63 Z" fill="#66ffc2"/>
<path d="M551.73,124.41 L561.61,118.51 L551.83,117.92 L541.98,123.62 Z" fill="#5eff98"/>
<path d="M571.41,118.69 L581.37,112.26 L571.53,112.3 L561.61,118.51 Z" fill="#53ff5e"/>
<path d="M406.13,137.75 L415.78,134.97 L405.97,129.77 L396.3,132.39 Z" fill="#2afff4"/>
<path d="M464.26,140.48 L473.92,136.59 L464.22,133.34 L454.56,137.06 Z" fill="#56eeff"/>
<path d="M502.98,137.29 L512.7,132.59 L503,130.58 L493.29,135.1 Z" fill="#66fff6"/>
<path d="M561.51,124.8 L571.41,118.69 L561.61,118.51 L551.73,124.41 Z" fill="#56ff89"/>
<path d="M386.63,134.8 L396.3,132.39 L386.42,126.5 L376.73,128.76 Z" fill="#1effd1"/>
<path d="M425.54,139.66 L435.19,136.52 L425.43,131.99 L415.78,134.97 Z" fill="#38f4ff"/>
<path d="M444.91,140.57 L454.56,137.06 L444.84,133.18 L435.19,136.52 Z" fill="#48ecff"/>
<path d="M483.61,139.38 L493.29,135.1 L483.6,132.48 L473.92,136.59 Z" fill="#61f8ff"/>
<path d="M522.4,134.17 L532.17,129.03 L522.45,127.63 L512.7,132.59 Z" fill="#66ffde"/>
<path d="M541.91,130.02 L551.73,124.41 L541.98,123.62 L532.17,129.03 Z" fill="#60ffba"/>
<path d="M581.24,118.48 L591.23,111.83 L581.37,112.26 L571.41,118.69 Z" fill="#50ff4b"/>
<path d="M376.96,137.02 L386.63,134.8 L376.73,128.76 L367.04,130.81 Z" fill="#1bffd7"/>
<path d="M396.48,140.32 L406.13,137.75 L396.3,132.39 L386.63,134.8 Z" fill="#25ffff"/>
<path d="M415.9,142.59 L425.54,139.66 L415.78,134.97 L406.13,137.75 Z" fill="#33e7ff"/>
<path d="M435.27,143.86 L444.91,140.57 L435.19,136.52 L425.54,139.66 Z" fill="#41dbff"/>
<path d="M454.61,144.14 L464.26,140.48 L454.56,137.06 L444.91,140.57 Z" fill="#50dbff"/>
<path d="M473.94,143.43 L483.61,139.38 L473.92,136.59 L464.26,140.48 Z" fill="#5be3ff"/>
<path d="M493.28,141.73 L502.98,137.29 L493.29,135.1 L483.61,139.38 Z" fill="#63f2ff"/>
<path d="M512.67,139.04 L522.4,134.17 L512.7,132.59 L502.98,137.29 Z" fill="#64fff7"/>
<path d="M532.12,135.34 L541.91,130.02 L532.17,129.03 L522.4,134.17 Z" fill="#61ffd9"/>
<path d="M551.66,130.6 L561.51,124.8 L551.73,124.41 L541.91,130.02 Z" fill="#59ffaf"/>
<path d="M571.31,124.8 L581.24,118.48 L571.41,118.69 L561.51,124.8 Z" fill="#4fff75"/>
<path d="M591.11,117.9 L601.13,111.03 L591.23,111.83 L581.24,118.48 Z" fill="#5dff43"/>
<path d="M367.29,139.02 L376.96,137.02 L367.04,130.81 L357.34,132.66 Z" fill="#17ffdc"/>
<path d="M386.82,142.68 L396.48,140.32 L386.63,134.8 L376.96,137.02 Z" fill="#21f7ff"/>
<path d="M406.27,145.31 L415.9,142.59 L406.13,137.75 L396.48,140.32 Z" fill="#2ddaff"/>
<path d="M425.64,146.93 L435.27,143.86 L425.54,139.66 L415.9,142.59 Z" fill="#3bccff"/>
<path d="M444.97,147.57 L454.61,144.14 L444.91,140.57 L435.27,143.86 Z" fill="#49c9ff"/>
<path d="M464.29,147.24 L473.94,143.43 L464.26,140.48 L454.61,144.14 Z" fill="#56d0ff"/>
<path d="M483.61,145.93 L493.28,141.73 L483.61,139.38 L473.94,143.43 Z" fill="#5edcff"/>
<path d="M502.96,143.64 L512.67,139.04 L502.98,137.29 L493.28,141.73 Z" fill="#62efff"/>
<path d="M522.36,140.37 L532.12,135.34 L522.4,134.17 L512.67,139.04 Z" fill="#60fff4"/>
<path d="M541.84,136.09 L551.66,130.6 L541.91,130.02 L532.12,135.34 Z" fill="#5bffd0"/>
<path d="M561.43,130.79 L571.31,124.8 L561.51,124.8 L551.66,130.6 Z" fill="#52ff9f"/>
<path d="M581.14,124.42 L591.11,117.9 L581.24,118.48 L571.31,124.8 Z" fill="#47ff5d"/>
<path d="M601,116.94 L611.07,109.85 L601.13,111.03 L591.11,117.9 Z" fill="#71ff3c"/>
<path d="M357.6,140.82 L367.29,139.02 L357.34,132.66 L347.63,134.3 Z" fill="#15ffde"/>
<path d="M377.17,144.83 L386.82,142.68 L376.96,137.02 L367.29,139.02 Z" fill="#1df0ff"/>
<path d="M396.63,147.81 L406.27,145.31 L396.48,140.32 L386.82,142.68 Z" fill="#28d0ff"/>
<path d="M435.35,150.78 L444.97,147.57 L435.27,143.86 L425.64,146.93 Z" fill="#43b9ff"/>
<path d="M473.95,149.88 L483.61,145.93 L473.94,143.43 L464.29,147.24 Z" fill="#59c8ff"/>
<path d="M493.28,147.98 L502.96,143.64 L493.28,141.73 L483.61,145.93 Z" fill="#5ed9ff"/>
<path d="M532.07,141.29 L541.84,136.09 L532.12,135.34 L522.36,140.37 Z" fill="#5bffee"/>
<path d="M571.22,130.59 L581.14,124.42 L571.31,124.8 L561.43,130.79 Z" fill="#4aff8a"/>
<path d="M591,123.66 L601,116.94 L591.11,117.9 L581.14,124.42 Z" fill="#41ff40"/>
<path d="M610.94,115.63 L621.05,108.32 L611.07,109.85 L601,116.94 Z" fill="#8aff36"/>
<path d="M416.01,149.79 L425.64,146.93 L415.9,142.59 L406.27,145.31 Z" fill="#35beff"/>
<path d="M454.65,150.81 L464.29,147.24 L454.61,144.14 L444.97,147.57 Z" fill="#4fbdff"/>
<path d="M512.64,145.13 L522.36,140.37 L512.67,139.04 L502.96,143.64 Z" fill="#5ff0ff"/>
<path d="M551.59,136.46 L561.43,130.79 L551.66,130.6 L541.84,136.09 Z" fill="#53ffc3"/>
<path d="M347.91,142.4 L357.6,140.82 L347.63,134.3 L337.91,135.73 Z" fill="#12ffdd"/>
<path d="M367.5,146.77 L377.17,144.83 L367.29,139.02 L357.6,140.82 Z" fill="#1aedff"/>
<path d="M386.99,150.11 L396.63,147.81 L386.82,142.68 L377.17,144.83 Z" fill="#24c8ff"/>
<path d="M406.39,152.43 L416.01,149.79 L406.27,145.31 L396.63,147.81 Z" fill="#30b2ff"/>
<path d="M425.73,153.77 L435.35,150.78 L425.64,146.93 L416.01,149.79 Z" fill="#3daaff"/>
<path d="M445.03,154.15 L454.65,150.81 L444.97,147.57 L435.35,150.78 Z" fill="#49abff"/>
<path d="M464.32,153.58 L473.95,149.88 L464.29,147.24 L454.65,150.81 Z" fill="#53b5ff"/>
<path d="M483.61,152.07 L493.28,147.98 L483.61,145.93 L473.95,149.88 Z" fill="#59c4ff"/>
<path d="M502.94,149.61 L512.64,145.13 L502.96,143.64 L493.28,147.98 Z" fill="#5cd9ff"/>
<path d="M522.33,146.2 L532.07,141.29 L522.36,140.37 L512.64,145.13 Z" fill="#5af5ff"/>
<path d="M541.79,141.81 L551.59,136.46 L541.84,136.09 L532.07,141.29 Z" fill="#54ffe3"/>
<path d="M561.36,136.43 L571.22,130.59 L561.43,130.79 L551.59,136.46 Z" fill="#4cffb1"/>
<path d="M581.05,130.02 L591,123.66 L581.14,124.42 L571.22,130.59 Z" fill="#43ff70"/>
<path d="M600.89,122.55 L610.94,115.63 L601,116.94 L591,123.66 Z" fill="#55ff3a"/>
<path d="M620.92,113.96 L631.08,106.43 L621.05,108.32 L610.94,115.63 Z" fill="#a8ff31"/>
<path d="M357.83,148.5 L367.5,146.77 L357.6,140.82 L347.91,142.4 Z" fill="#17ecff"/>
<path d="M454.69,157.05 L464.32,153.58 L454.65,150.81 L445.03,154.15 Z" fill="#4da2ff"/>
<path d="M512.62,150.82 L522.33,146.2 L512.64,145.13 L502.94,149.61 Z" fill="#57dcff"/>
<path d="M610.83,121.08 L620.92,113.96 L610.94,115.63 L600.89,122.55 Z" fill="#70ff34"/>
<path d="M338.19,143.76 L347.91,142.4 L337.91,135.73 L328.16,136.93 Z" fill="#10ffd9"/>
<path d="M377.34,152.19 L386.99,150.11 L377.17,144.83 L367.5,146.77 Z" fill="#20c3ff"/>
<path d="M396.76,154.86 L406.39,152.43 L396.63,147.81 L386.99,150.11 Z" fill="#2aa9ff"/>
<path d="M416.11,156.54 L425.73,153.77 L416.01,149.79 L406.39,152.43 Z" fill="#379cff"/>
<path d="M435.41,157.27 L445.03,154.15 L435.35,150.78 L425.73,153.77 Z" fill="#439bff"/>
<path d="M473.97,155.91 L483.61,152.07 L473.95,149.88 L464.32,153.58 Z" fill="#54b0ff"/>
<path d="M493.27,153.83 L502.94,149.61 L493.28,147.98 L483.61,152.07 Z" fill="#58c3ff"/>
<path d="M532.03,146.87 L541.79,141.81 L532.07,141.29 L522.33,146.2 Z" fill="#54fdff"/>
<path d="M551.54,141.95 L561.36,136.43 L551.59,136.46 L541.79,141.81 Z" fill="#4dffd5"/>
<path d="M571.15,136.03 L581.05,130.02 L571.22,130.59 L561.36,136.43 Z" fill="#45ff9b"/>
<path d="M590.91,129.09 L600.89,122.55 L591,123.66 L581.05,130.02 Z" fill="#3dff52"/>
<path d="M630.94,111.96 L641.15,104.21 L631.08,106.43 L620.92,113.96 Z" fill="#ccff2c"/>
<path d="M348.14,150.01 L357.83,148.5 L347.91,142.4 L338.19,143.76 Z" fill="#14edff"/>
<path d="M620.81,119.28 L630.94,111.96 L620.92,113.96 L610.83,121.08 Z" fill="#90ff2f"/>
<path d="M328.46,144.9 L338.19,143.76 L328.16,136.93 L318.4,137.91 Z" fill="#0effd3"/>
<path d="M367.69,154.05 L377.34,152.19 L367.5,146.77 L357.83,148.5 Z" fill="#1cbfff"/>
<path d="M387.13,157.07 L396.76,154.86 L386.99,150.11 L377.34,152.19 Z" fill="#26a1ff"/>
<path d="M406.49,159.09 L416.11,156.54 L406.39,152.43 L396.76,154.86 Z" fill="#3191ff"/>
<path d="M425.8,160.16 L435.41,157.27 L425.73,153.77 L416.11,156.54 Z" fill="#3c8dff"/>
<path d="M445.07,160.29 L454.69,157.05 L445.03,154.15 L435.41,157.27 Z" fill="#4791ff"/>
<path d="M464.34,159.5 L473.97,155.91 L464.32,153.58 L454.69,157.05 Z" fill="#4f9dff"/>
<path d="M483.62,157.79 L493.27,153.83 L483.61,152.07 L473.97,155.91 Z" fill="#53aeff"/>
<path d="M502.93,155.17 L512.62,150.82 L502.94,149.61 L493.27,153.83 Z" fill="#54c5ff"/>
<path d="M522.3,151.63 L532.03,146.87 L522.33,146.2 L512.62,150.82 Z" fill="#52e3ff"/>
<path d="M541.75,147.15 L551.54,141.95 L541.79,141.81 L532.03,146.87 Z" fill="#4dfff4"/>
<path d="M561.31,141.71 L571.15,136.03 L561.36,136.43 L551.54,141.95 Z" fill="#46ffc1"/>
<path d="M580.98,135.27 L590.91,129.09 L581.05,130.02 L571.15,136.03 Z" fill="#3fff80"/>
<path d="M600.81,127.82 L610.83,121.08 L600.89,122.55 L590.91,129.09 Z" fill="#3eff37"/>
<path d="M641.01,109.63 L651.28,101.66 L641.15,104.21 L630.94,111.96 Z" fill="#f6ff28"/>
<path d="M318.71,145.82 L328.46,144.9 L318.4,137.91 L308.62,138.66 Z" fill="#0dffca"/>
<path d="M338.44,151.3 L348.14,150.01 L338.19,143.76 L328.46,144.9 Z" fill="#11f1ff"/>
<path d="M358.02,155.71 L367.69,154.05 L357.83,148.5 L348.14,150.01 Z" fill="#18bfff"/>
<path d="M377.49,159.07 L387.13,157.07 L377.34,152.19 L367.69,154.05 Z" fill="#219cff"/>
<path d="M396.87,161.43 L406.49,159.09 L396.76,154.86 L387.13,157.07 Z" fill="#2c88ff"/>
<path d="M416.18,162.83 L425.8,160.16 L416.11,156.54 L406.49,159.09 Z" fill="#3680ff"/>
<path d="M435.46,163.3 L445.07,160.29 L435.41,157.27 L425.8,160.16 Z" fill="#4182ff"/>
<path d="M454.72,162.85 L464.34,159.5 L454.69,157.05 L445.07,160.29 Z" fill="#498bff"/>
<path d="M473.98,161.5 L483.62,157.79 L473.97,155.91 L464.34,159.5 Z" fill="#4e9aff"/>
<path d="M493.27,159.25 L502.93,155.17 L493.27,153.83 L483.62,157.79 Z" fill="#50afff"/>
<path d="M512.6,156.1 L522.3,151.63 L512.62,150.82 L502.93,155.17 Z" fill="#4fcaff"/>
<path d="M532,152.04 L541.75,147.15 L532.03,146.87 L522.3,151.63 Z" fill="#4ceeff"/>
<path d="M551.5,147.05 L561.31,141.71 L551.54,141.95 L541.75,147.15 Z" fill="#46ffe3"/>
<path d="M571.1,141.1 L580.98,135.27 L571.15,136.03 L561.31,141.71 Z" fill="#40ffa9"/>
<path d="M590.84,134.17 L600.81,127.82 L590.91,129.09 L580.98,135.27 Z" fill="#39ff61"/>
<path d="M610.74,126.2 L620.81,119.28 L610.83,121.08 L600.81,127.82 Z" fill="#5aff31"/>
<path d="M630.83,117.16 L641.01,109.63 L630.94,111.96 L620.81,119.28 Z" fill="#b5ff2a"/>
<path d="M651.13,106.98 L661.45,98.79 L651.28,101.66 L641.01,109.63 Z" fill="#ffda24"/>
<path d="M308.94,146.5 L318.71,145.82 L308.62,138.66 L298.81,139.18 Z" fill="#0bffbe"/>
<path d="M328.72,152.38 L338.44,151.3 L328.46,144.9 L318.71,145.82 Z" fill="#0ff8ff"/>
<path d="M348.35,157.14 L358.02,155.71 L348.14,150.01 L338.44,151.3 Z" fill="#15c1ff"/>
<path d="M367.84,160.85 L377.49,159.07 L367.69,154.05 L358.02,155.71 Z" fill="#1d9aff"/>
<path d="M387.24,163.56 L396.87,161.43 L387.13,157.07 L377.49,159.07 Z" fill="#2781ff"/>
<path d="M406.57,165.29 L416.18,162.83 L406.49,159.09 L396.87,161.43 Z" fill="#3175ff"/>
<path d="M425.85,166.09 L435.46,163.3 L425.8,160.16 L416.18,162.83 Z" fill="#3b74ff"/>
<path d="M445.1,165.98 L454.72,162.85 L445.07,160.29 L435.46,163.3 Z" fill="#437bff"/>
<path d="M483.62,163.08 L493.27,159.25 L483.62,157.79 L473.98,161.5 Z" fill="#4c9bff"/>
<path d="M522.29,156.64 L532,152.04 L522.3,151.63 L512.6,156.1 Z" fill="#4ad4ff"/>
<path d="M541.73,152.08 L551.5,147.05 L541.75,147.15 L532,152.04 Z" fill="#46fdff"/>
<path d="M561.27,146.59 L571.1,141.1 L561.31,141.71 L551.5,147.05 Z" fill="#40ffcd"/>
<path d="M580.93,140.15 L590.84,134.17 L580.98,135.27 L571.1,141.1 Z" fill="#3aff8c"/>
<path d="M600.74,132.72 L610.74,126.2 L600.81,127.82 L590.84,134.17 Z" fill="#33ff3d"/>
<path d="M620.72,124.26 L630.83,117.16 L620.81,119.28 L610.74,126.2 Z" fill="#7cff2d"/>
<path d="M640.9,114.72 L651.13,106.98 L641.01,109.63 L630.83,117.16 Z" fill="#e0ff27"/>
<path d="M661.3,104.03 L671.68,95.61 L661.45,98.79 L651.13,106.98 Z" fill="#ffa821"/>
<path d="M464.35,164.97 L473.98,161.5 L464.34,159.5 L454.72,162.85 Z" fill="#4988ff"/>
<path d="M502.92,160.3 L512.6,156.1 L502.93,155.17 L493.27,159.25 Z" fill="#4cb4ff"/>
<path d="M299.14,146.96 L308.94,146.5 L298.81,139.18 L288.97,139.46 Z" fill="#0affb0"/>
<path d="M318.98,153.23 L328.72,152.38 L318.71,145.82 L308.94,146.5 Z" fill="#0efffc"/>
<path d="M338.65,158.36 L348.35,157.14 L338.44,151.3 L328.72,152.38 Z" fill="#13c6ff"/>
<path d="M358.18,162.43 L367.84,160.85 L358.02,155.71 L348.35,157.14 Z" fill="#1a9aff"/>
<path d="M377.61,165.47 L387.24,163.56 L377.49,159.07 L367.84,160.85 Z" fill="#227dff"/>
<path d="M396.95,167.53 L406.57,165.29 L396.87,161.43 L387.24,163.56 Z" fill="#2c6dff"/>
<path d="M416.24,168.66 L425.85,166.09 L416.18,162.83 L406.57,165.29 Z" fill="#3568ff"/>
<path d="M435.49,168.87 L445.1,165.98 L435.46,163.3 L425.85,166.09 Z" fill="#3d6cff"/>
<path d="M454.74,168.2 L464.35,164.97 L454.72,162.85 L445.1,165.98 Z" fill="#4377ff"/>
<path d="M473.99,166.65 L483.62,163.08 L473.98,161.5 L464.35,164.97 Z" fill="#4788ff"/>
<path d="M493.26,164.24 L502.92,160.3 L493.27,159.25 L483.62,163.08 Z" fill="#489fff"/>
<path d="M512.59,160.96 L522.29,156.64 L512.6,156.1 L502.92,160.3 Z" fill="#47bcff"/>
<path d="M531.99,156.8 L541.73,152.08 L532,152.04 L522.29,156.64 Z" fill="#44e1ff"/>
<path d="M551.47,151.75 L561.27,146.59 L551.5,147.05 L541.73,152.08 Z" fill="#3fffee"/>
<path d="M571.07,145.78 L580.93,140.15 L571.1,141.1 L561.27,146.59 Z" fill="#3affb3"/>
<path d="M590.79,138.86 L600.74,132.72 L590.84,134.17 L580.93,140.15 Z" fill="#34ff6b"/>
<path d="M610.68,130.95 L620.72,124.26 L610.74,126.2 L600.74,132.72 Z" fill="#48ff2e"/>
<path d="M630.74,122.01 L640.9,114.72 L630.83,117.16 L620.72,124.26 Z" fill="#a2ff29"/>
<path d="M651.02,111.97 L661.3,104.03 L651.13,106.98 L640.9,114.72 Z" fill="#fff023"/>
<path d="M671.53,100.79 L681.97,92.14 L671.68,95.61 L661.3,104.03 Z" fill="#ff711e"/>
<path d="M309.21,153.85 L318.98,153.23 L308.94,146.5 L299.14,146.96 Z" fill="#0cffef"/>
<path d="M406.63,171.01 L416.24,168.66 L406.57,165.29 L396.95,167.53 Z" fill="#305fff"/>
<path d="M561.24,151.07 L571.07,145.78 L561.27,146.59 L551.47,151.75 Z" fill="#3affd6"/>
<path d="M661.19,108.94 L671.53,100.79 L661.3,104.03 L651.02,111.97 Z" fill="#ffbc20"/>
<path d="M328.94,159.37 L338.65,158.36 L328.72,152.38 L318.98,153.23 Z" fill="#10ceff"/>
<path d="M348.51,163.79 L358.18,162.43 L348.35,157.14 L338.65,158.36 Z" fill="#179dff"/>
<path d="M367.97,167.17 L377.61,165.47 L367.84,160.85 L358.18,162.43 Z" fill="#1e7bff"/>
<path d="M387.33,169.57 L396.95,167.53 L387.24,163.56 L377.61,165.47 Z" fill="#2767ff"/>
<path d="M425.89,171.55 L435.49,168.87 L425.85,166.09 L416.24,168.66 Z" fill="#3760ff"/>
<path d="M445.13,171.2 L454.74,168.2 L445.1,165.98 L435.49,168.87 Z" fill="#3e68ff"/>
<path d="M464.36,169.99 L473.99,166.65 L464.35,164.97 L454.74,168.2 Z" fill="#4277ff"/>
<path d="M483.62,167.92 L493.26,164.24 L483.62,163.08 L473.99,166.65 Z" fill="#448bff"/>
<path d="M502.92,165 L512.59,160.96 L502.92,160.3 L493.26,164.24 Z" fill="#43a6ff"/>
<path d="M522.27,161.23 L531.99,156.8 L522.29,156.64 L512.59,160.96 Z" fill="#41c8ff"/>
<path d="M541.71,156.59 L551.47,151.75 L541.73,152.08 L531.99,156.8 Z" fill="#3ef3ff"/>
<path d="M580.9,144.63 L590.79,138.86 L580.93,140.15 L571.07,145.78 Z" fill="#35ff94"/>
<path d="M600.69,137.24 L610.68,130.95 L600.74,132.72 L590.79,138.86 Z" fill="#30ff46"/>
<path d="M620.66,128.87 L630.74,122.01 L620.72,124.26 L610.68,130.95 Z" fill="#6cff2a"/>
<path d="M640.81,119.45 L651.02,111.97 L640.9,114.72 L630.74,122.01 Z" fill="#ceff25"/>
<path d="M319.2,160.16 L328.94,159.37 L318.98,153.23 L309.21,153.85 Z" fill="#0ed9ff"/>
<path d="M358.31,168.67 L367.97,167.17 L358.18,162.43 L348.51,163.79 Z" fill="#1b7cff"/>
<path d="M397.02,173.16 L406.63,171.01 L396.95,167.53 L387.33,169.57 Z" fill="#2b57ff"/>
<path d="M416.28,174.01 L425.89,171.55 L416.24,168.66 L406.63,171.01 Z" fill="#3255ff"/>
<path d="M454.75,173.09 L464.36,169.99 L454.74,168.2 L445.13,171.2 Z" fill="#3d67ff"/>
<path d="M512.58,165.38 L522.27,161.23 L512.59,160.96 L502.92,165 Z" fill="#3eb1ff"/>
<path d="M551.46,156.03 L561.24,151.07 L551.47,151.75 L541.71,156.59 Z" fill="#39fff5"/>
<path d="M571.05,150.05 L580.9,144.63 L571.07,145.78 L561.24,151.07 Z" fill="#34ffb9"/>
<path d="M610.64,135.32 L620.66,128.87 L610.68,130.95 L600.69,137.24 Z" fill="#3aff2b"/>
<path d="M650.93,116.62 L661.19,108.94 L651.02,111.97 L640.81,119.45 Z" fill="#feff22"/>
<path d="M338.82,164.95 L348.51,163.79 L338.65,158.36 L328.94,159.37 Z" fill="#14a3ff"/>
<path d="M377.7,171.4 L387.33,169.57 L377.61,165.47 L367.97,167.17 Z" fill="#2364ff"/>
<path d="M435.52,173.98 L445.13,171.2 L435.49,168.87 L425.89,171.55 Z" fill="#385bff"/>
<path d="M473.99,171.35 L483.62,167.92 L473.99,166.65 L464.36,169.99 Z" fill="#3f79ff"/>
<path d="M493.26,168.78 L502.92,165 L493.26,164.24 L483.62,167.92 Z" fill="#4092ff"/>
<path d="M531.98,161.13 L541.71,156.59 L531.99,156.8 L522.27,161.23 Z" fill="#3cd9ff"/>
<path d="M590.77,143.16 L600.69,137.24 L590.79,138.86 L580.9,144.63 Z" fill="#30ff71"/>
<path d="M630.68,126.49 L640.81,119.45 L630.74,122.01 L620.66,128.87 Z" fill="#94ff27"/>
<path d="M387.4,175.11 L397.02,173.16 L387.33,169.57 L377.7,171.4 Z" fill="#2653ff"/>
<path d="M445.14,175.97 L454.75,173.09 L445.13,171.2 L435.52,173.98 Z" fill="#3859ff"/>
<path d="M522.27,165.38 L531.98,161.13 L522.27,161.23 L512.58,165.38 Z" fill="#39c0ff"/>
<path d="M580.88,148.71 L590.77,143.16 L580.9,144.63 L571.05,150.05 Z" fill="#30ff98"/>
<path d="M329.11,165.89 L338.82,164.95 L328.94,159.37 L319.2,160.16 Z" fill="#11abff"/>
<path d="M348.64,169.97 L358.31,168.67 L348.51,163.79 L338.82,164.95 Z" fill="#1880ff"/>
<path d="M368.06,173.02 L377.7,171.4 L367.97,167.17 L358.31,168.67 Z" fill="#1f63ff"/>
<path d="M406.67,176.27 L416.28,174.01 L406.63,171.01 L397.02,173.16 Z" fill="#2d4dff"/>
<path d="M425.91,176.55 L435.52,173.98 L425.89,171.55 L416.28,174.01 Z" fill="#334fff"/>
<path d="M464.37,174.55 L473.99,171.35 L464.36,169.99 L454.75,173.09 Z" fill="#3b69ff"/>
<path d="M483.62,172.31 L493.26,168.78 L483.62,167.92 L473.99,171.35 Z" fill="#3b7fff"/>
<path d="M502.91,169.26 L512.58,165.38 L502.92,165 L493.26,168.78 Z" fill="#3b9cff"/>
<path d="M541.7,160.68 L551.46,156.03 L541.71,156.59 L531.98,161.13 Z" fill="#37eeff"/>
<path d="M561.23,155.13 L571.05,150.05 L561.24,151.07 L551.46,156.03 Z" fill="#34ffda"/>
<path d="M600.67,141.38 L610.64,135.32 L600.69,137.24 L590.77,143.16 Z" fill="#2cff4a"/>
<path d="M620.62,133.1 L630.68,126.49 L620.66,128.87 L610.64,135.32 Z" fill="#60ff28"/>
<path d="M640.76,123.83 L650.93,116.62 L640.81,119.45 L630.68,126.49 Z" fill="#c1ff24"/>
<path d="M338.96,171.07 L348.64,169.97 L338.82,164.95 L329.11,165.89 Z" fill="#1586ff"/>
<path d="M377.77,176.86 L387.4,175.11 L377.7,171.4 L368.06,173.02 Z" fill="#2250ff"/>
<path d="M397.06,178.34 L406.67,176.27 L397.02,173.16 L387.4,175.11 Z" fill="#2947ff"/>
<path d="M435.53,178.64 L445.14,175.97 L435.52,173.98 L425.91,176.55 Z" fill="#334dff"/>
<path d="M454.75,177.53 L464.37,174.55 L454.75,173.09 L445.14,175.97 Z" fill="#365bff"/>
<path d="M473.99,175.61 L483.62,172.31 L473.99,171.35 L464.37,174.55 Z" fill="#376fff"/>
<path d="M493.26,172.89 L502.91,169.26 L493.26,168.78 L483.62,172.31 Z" fill="#3789ff"/>
<path d="M512.58,169.37 L522.27,165.38 L512.58,165.38 L502.91,169.26 Z" fill="#36abff"/>
<path d="M531.98,165.04 L541.7,160.68 L531.98,161.13 L522.27,165.38 Z" fill="#34d4ff"/>
<path d="M571.04,153.91 L580.88,148.71 L571.05,150.05 L561.23,155.13 Z" fill="#2fffbb"/>
<path d="M590.76,147.06 L600.67,141.38 L590.77,143.16 L580.88,148.71 Z" fill="#2cff73"/>
<path d="M630.65,130.61 L640.76,123.83 L630.68,126.49 L620.62,133.1 Z" fill="#8aff25"/>
<path d="M358.41,174.46 L368.06,173.02 L358.31,168.67 L348.64,169.97 Z" fill="#1b65ff"/>
<path d="M416.31,178.92 L425.91,176.55 L416.28,174.01 L406.67,176.27 Z" fill="#2f46ff"/>
<path d="M551.46,159.9 L561.23,155.13 L551.46,156.03 L541.7,160.68 Z" fill="#32fff7"/>
<path d="M610.62,139.31 L620.62,133.1 L610.64,135.32 L600.67,141.38 Z" fill="#31ff28"/>
<path d="M348.74,175.7 L358.41,174.46 L348.64,169.97 L338.96,171.07 Z" fill="#1869ff"/>
<path d="M368.13,178.43 L377.77,176.86 L368.06,173.02 L358.41,174.46 Z" fill="#1f51ff"/>
<path d="M387.44,180.21 L397.06,178.34 L387.4,175.11 L377.77,176.86 Z" fill="#2543ff"/>
<path d="M406.7,181.09 L416.31,178.92 L406.67,176.27 L397.06,178.34 Z" fill="#2b40ff"/>
<path d="M425.92,181.11 L435.53,178.64 L425.91,176.55 L416.31,178.92 Z" fill="#2f44ff"/>
<path d="M445.14,180.3 L454.75,177.53 L445.14,175.97 L435.53,178.64 Z" fill="#324fff"/>
<path d="M464.37,178.68 L473.99,175.61 L464.37,174.55 L454.75,177.53 Z" fill="#3360ff"/>
<path d="M483.62,176.28 L493.26,172.89 L483.62,172.31 L473.99,175.61 Z" fill="#3478ff"/>
<path d="M502.91,173.09 L512.58,169.37 L502.91,169.26 L493.26,172.89 Z" fill="#3397ff"/>
<path d="M522.27,169.12 L531.98,165.04 L522.27,165.38 L512.58,169.37 Z" fill="#32beff"/>
<path d="M541.71,164.36 L551.46,159.9 L541.7,160.68 L531.98,165.04 Z" fill="#30edff"/>
<path d="M561.24,158.79 L571.04,153.91 L561.23,155.13 L551.46,159.9 Z" fill="#2effd9"/>
<path d="M580.89,152.39 L590.76,147.06 L580.88,148.71 L571.04,153.91 Z" fill="#2bff97"/>
<path d="M600.67,145.13 L610.62,139.31 L600.67,141.38 L590.76,147.06 Z" fill="#28ff4b"/>
<path d="M620.61,136.96 L630.65,130.61 L620.62,133.1 L610.62,139.31 Z" fill="#59ff25"/>
<path d="M358.48,179.81 L368.13,178.43 L358.41,174.46 L348.74,175.7 Z" fill="#1b53ff"/>
<path d="M610.62,142.92 L620.61,136.96 L610.62,139.31 L600.67,145.13 Z" fill="#2cff25"/>
<path d="M377.81,181.9 L387.44,180.21 L377.77,176.86 L368.13,178.43 Z" fill="#2142ff"/>
<path d="M397.08,183.07 L406.7,181.09 L397.06,178.34 L387.44,180.21 Z" fill="#273bff"/>
<path d="M416.32,183.38 L425.92,181.11 L416.31,178.92 L406.7,181.09 Z" fill="#2b3cff"/>
<path d="M435.53,182.86 L445.14,180.3 L435.53,178.64 L425.92,181.11 Z" fill="#2e45ff"/>
<path d="M454.75,181.54 L464.37,178.68 L454.75,177.53 L445.14,180.3 Z" fill="#3054ff"/>
<path d="M473.99,179.44 L483.62,176.28 L473.99,175.61 L464.37,178.68 Z" fill="#3069ff"/>
<path d="M493.26,176.57 L502.91,173.09 L493.26,172.89 L483.62,176.28 Z" fill="#3086ff"/>
<path d="M512.59,172.94 L522.27,169.12 L512.58,169.37 L502.91,173.09 Z" fill="#2fa9ff"/>
<path d="M531.98,168.54 L541.71,164.36 L531.98,165.04 L522.27,169.12 Z" fill="#2ed5ff"/>
<path d="M551.47,163.36 L561.24,158.79 L551.46,159.9 L541.71,164.36 Z" fill="#2cfff5"/>
<path d="M571.06,157.38 L580.89,152.39 L571.04,153.91 L561.24,158.79 Z" fill="#2affb8"/>
<path d="M590.77,150.58 L600.67,145.13 L590.76,147.06 L580.89,152.39 Z" fill="#28ff71"/>
<path d="M368.17,183.41 L377.81,181.9 L368.13,178.43 L358.48,179.81 Z" fill="#1e44ff"/>
<path d="M406.7,185.48 L416.32,183.38 L406.7,181.09 L397.08,183.07 Z" fill="#2837ff"/>
<path d="M445.14,184.2 L454.75,181.54 L445.14,180.3 L435.53,182.86 Z" fill="#2c49ff"/>
<path d="M464.36,182.39 L473.99,179.44 L464.37,178.68 L454.75,181.54 Z" fill="#2d5dff"/>
<path d="M483.62,179.82 L493.26,176.57 L483.62,176.28 L473.99,179.44 Z" fill="#2d76ff"/>
<path d="M502.92,176.51 L512.59,172.94 L502.91,173.09 L493.26,176.57 Z" fill="#2c97ff"/>
<path d="M522.28,172.45 L531.98,168.54 L522.27,169.12 L512.59,172.94 Z" fill="#2bc0ff"/>
<path d="M561.26,162.06 L571.06,157.38 L561.24,158.79 L551.47,163.36 Z" fill="#29ffd4"/>
<path d="M600.69,148.5 L610.62,142.92 L600.67,145.13 L590.77,150.58 Z" fill="#25ff46"/>
<path d="M387.46,184.88 L397.08,183.07 L387.44,180.21 L377.81,181.9 Z" fill="#2339ff"/>
<path d="M425.92,185.24 L435.53,182.86 L425.92,181.11 L416.32,183.38 Z" fill="#2b3dff"/>
<path d="M541.72,167.63 L551.47,163.36 L541.71,164.36 L531.98,168.54 Z" fill="#2af0ff"/>
<path d="M580.91,155.69 L590.77,150.58 L580.89,152.39 L571.06,157.38 Z" fill="#27ff92"/>
<path d="M473.98,182.86 L483.62,179.82 L473.99,179.44 L464.36,182.39 Z" fill="#2a69ff"/>
<path d="M493.26,179.85 L502.92,176.51 L493.26,176.57 L483.62,179.82 Z" fill="#2a88ff"/>
<path d="M377.83,186.53 L387.46,184.88 L377.81,181.9 L368.17,183.41 Z" fill="#2039ff"/>
<path d="M397.09,187.41 L406.7,185.48 L397.08,183.07 L387.46,184.88 Z" fill="#2435ff"/>
<path d="M416.31,187.45 L425.92,185.24 L416.32,183.38 L406.7,185.48 Z" fill="#2737ff"/>
<path d="M435.52,186.68 L445.14,184.2 L435.53,182.86 L425.92,185.24 Z" fill="#2941ff"/>
<path d="M454.74,185.15 L464.36,182.39 L454.75,181.54 L445.14,184.2 Z" fill="#2a52ff"/>
<path d="M512.59,176.11 L522.28,172.45 L512.59,172.94 L502.92,176.51 Z" fill="#29adff"/>
<path d="M532,171.64 L541.72,167.63 L531.98,168.54 L522.28,172.45 Z" fill="#28dbff"/>
<path d="M551.49,166.43 L561.26,162.06 L551.47,163.36 L541.72,167.63 Z" fill="#27ffee"/>
<path d="M571.08,160.47 L580.91,155.69 L571.06,157.38 L561.26,162.06 Z" fill="#25ffb0"/>
<path d="M590.79,153.72 L600.69,148.5 L590.77,150.58 L580.91,155.69 Z" fill="#24ff6a"/>
<path d="M387.46,189.18 L397.09,187.41 L387.46,184.88 L377.83,186.53 Z" fill="#2234ff"/>
<path d="M425.91,188.99 L435.52,186.68 L425.92,185.24 L416.31,187.45 Z" fill="#263bff"/>
<path d="M445.12,187.72 L454.74,185.15 L445.14,184.2 L435.52,186.68 Z" fill="#274aff"/>
<path d="M464.35,185.71 L473.98,182.86 L464.36,182.39 L454.74,185.15 Z" fill="#285eff"/>
<path d="M483.61,182.98 L493.26,179.85 L483.62,179.82 L473.98,182.86 Z" fill="#277aff"/>
<path d="M502.92,179.54 L512.59,176.11 L502.92,176.51 L493.26,179.85 Z" fill="#279dff"/>
<path d="M522.29,175.39 L532,171.64 L522.28,172.45 L512.59,176.11 Z" fill="#26c7ff"/>
<path d="M541.74,170.53 L551.49,166.43 L541.72,167.63 L532,171.64 Z" fill="#25f9ff"/>
<path d="M580.94,158.62 L590.79,153.72 L580.91,155.69 L571.08,160.47 Z" fill="#23ff89"/>
<path d="M406.7,189.49 L416.31,187.45 L406.7,185.48 L397.09,187.41 Z" fill="#2534ff"/>
<path d="M561.29,164.95 L571.08,160.47 L561.26,162.06 L551.49,166.43 Z" fill="#24ffcb"/>
<path d="M397.08,191.38 L406.7,189.49 L397.09,187.41 L387.46,189.18 Z" fill="#2233ff"/>
<path d="M416.3,191.14 L425.91,188.99 L416.31,187.45 L406.7,189.49 Z" fill="#2437ff"/>
<path d="M435.51,190.14 L445.12,187.72 L435.52,186.68 L425.91,188.99 Z" fill="#2543ff"/>
<path d="M454.73,188.39 L464.35,185.71 L454.74,185.15 L445.12,187.72 Z" fill="#2556ff"/>
<path d="M473.97,185.92 L483.61,182.98 L473.98,182.86 L464.35,185.71 Z" fill="#256fff"/>
<path d="M493.26,182.76 L502.92,179.54 L493.26,179.85 L483.61,182.98 Z" fill="#258fff"/>
<path d="M512.61,178.91 L522.29,175.39 L512.59,176.11 L502.92,179.54 Z" fill="#24b6ff"/>
<path d="M532.02,174.38 L541.74,170.53 L532,171.64 L522.29,175.39 Z" fill="#23e5ff"/>
<path d="M551.52,169.15 L561.29,164.95 L551.49,166.43 L541.74,170.53 Z" fill="#22ffe3"/>
<path d="M571.12,163.2 L580.94,158.62 L571.08,160.47 L561.29,164.95 Z" fill="#22ffa5"/>
<path d="M406.68,193.16 L416.3,191.14 L406.7,189.49 L397.08,191.38 Z" fill="#2235ff"/>
<path d="M425.89,192.4 L435.51,190.14 L425.91,188.99 L416.3,191.14 Z" fill="#233fff"/>
<path d="M445.1,190.9 L454.73,188.39 L445.12,187.72 L435.51,190.14 Z" fill="#234fff"/>
<path d="M464.34,188.69 L473.97,185.92 L464.35,185.71 L454.73,188.39 Z" fill="#2366ff"/>
<path d="M483.61,185.8 L493.26,182.76 L483.61,182.98 L473.97,185.92 Z" fill="#2383ff"/>
<path d="M502.93,182.23 L512.61,178.91 L502.92,179.54 L493.26,182.76 Z" fill="#22a8ff"/>
<path d="M522.31,177.99 L532.02,174.38 L522.29,175.39 L512.61,178.91 Z" fill="#21d4ff"/>
<path d="M541.78,173.09 L551.52,169.15 L541.74,170.53 L532.02,174.38 Z" fill="#21fff8"/>
<path d="M561.33,167.5 L571.12,163.2 L561.29,164.95 L551.52,169.15 Z" fill="#20ffbd"/>
<path d="M416.27,194.53 L425.89,192.4 L416.3,191.14 L406.68,193.16 Z" fill="#213cff"/>
<path d="M435.48,193.27 L445.1,190.9 L435.51,190.14 L425.89,192.4 Z" fill="#224aff"/>
<path d="M454.71,191.31 L464.34,188.69 L454.73,188.39 L445.1,190.9 Z" fill="#225eff"/>
<path d="M473.97,188.66 L483.61,185.8 L473.97,185.92 L464.34,188.69 Z" fill="#2179ff"/>
<path d="M493.27,185.35 L502.93,182.23 L493.26,182.76 L483.61,185.8 Z" fill="#209cff"/>
<path d="M512.62,181.4 L522.31,177.99 L512.61,178.91 L502.93,182.23 Z" fill="#20c4ff"/>
<path d="M532.05,176.79 L541.78,173.09 L532.02,174.38 L522.31,177.99 Z" fill="#1ff4ff"/>
<path d="M551.56,171.54 L561.33,167.5 L551.52,169.15 L541.78,173.09 Z" fill="#1fffd3"/>
<path d="M425.86,195.52 L435.48,193.27 L425.89,192.4 L416.27,194.53 Z" fill="#2046ff"/>
<path d="M445.08,193.79 L454.71,191.31 L445.1,190.9 L435.48,193.27 Z" fill="#2059ff"/>
<path d="M522.34,180.29 L532.05,176.79 L522.31,177.99 L512.62,181.4 Z" fill="#1ee4ff"/>
<path d="M541.82,175.34 L551.56,171.54 L541.78,173.09 L532.05,176.79 Z" fill="#1effe6"/>
<path d="M464.33,191.38 L473.97,188.66 L464.34,188.69 L454.71,191.31 Z" fill="#2072ff"/>
<path d="M483.61,188.31 L493.27,185.35 L483.61,185.8 L473.97,188.66 Z" fill="#1f91ff"/>
<path d="M502.94,184.62 L512.62,181.4 L502.93,182.23 L493.27,185.35 Z" fill="#1fb7ff"/>
<path d="M435.45,196.16 L445.08,193.79 L435.48,193.27 L425.86,195.52 Z" fill="#1f55ff"/>
<path d="M532.08,178.94 L541.82,175.34 L532.05,176.79 L522.34,180.29 Z" fill="#1cfff7"/>
<path d="M454.69,193.97 L464.33,191.38 L454.71,191.31 L445.08,193.79 Z" fill="#1f6bff"/>
<path d="M473.96,191.13 L483.61,188.31 L473.97,188.66 L464.33,191.38 Z" fill="#1e88ff"/>
<path d="M493.27,187.68 L502.94,184.62 L493.27,185.35 L483.61,188.31 Z" fill="#1dacff"/>
<path d="M512.64,183.61 L522.34,180.29 L512.62,181.4 L502.94,184.62 Z" fill="#1dd6ff"/>
<path d="M445.05,196.45 L454.69,193.97 L445.08,193.79 L435.45,196.16 Z" fill="#1e66ff"/>
<path d="M464.31,193.83 L473.96,191.13 L464.33,191.38 L454.69,193.97 Z" fill="#1d81ff"/>
<path d="M483.6,190.6 L493.27,187.68 L483.61,188.31 L473.96,191.13 Z" fill="#1da3ff"/>
<path d="M502.95,186.77 L512.64,183.61 L502.94,184.62 L493.27,187.68 Z" fill="#1ccaff"/>
<path d="M522.37,182.36 L532.08,178.94 L522.34,180.29 L512.64,183.61 Z" fill="#1cf8ff"/>
<path d="M473.95,193.41 L483.6,190.6 L473.96,191.13 L464.31,193.83 Z" fill="#1c9bff"/>
<path d="M493.27,189.8 L502.95,186.77 L493.27,187.68 L483.6,190.6 Z" fill="#1bc0ff"/>
<path d="M454.66,196.44 L464.31,193.83 L454.69,193.97 L445.05,196.45 Z" fill="#1d7cff"/>
<path d="M512.66,185.62 L522.37,182.36 L512.64,183.61 L502.95,186.77 Z" fill="#1bebff"/>
<path d="M464.29,196.14 L473.95,193.41 L464.31,193.83 L454.66,196.44 Z" fill="#1c94ff"/>
<path d="M483.6,192.73 L493.27,189.8 L483.6,190.6 L473.95,193.41 Z" fill="#1bb7ff"/>
<path d="M502.97,188.76 L512.66,185.62 L502.95,186.77 L493.27,189.8 Z" fill="#1ae0ff"/>
<path d="M473.93,195.58 L483.6,192.73 L473.95,193.41 L464.29,196.14 Z" fill="#1bb0ff"/>
<path d="M493.28,191.81 L502.97,188.76 L493.27,189.8 L483.6,192.73 Z" fill="#1ad6ff"/>
<path d="M483.6,194.78 L493.28,191.81 L483.6,192.73 L473.93,195.58 Z" fill="#1aceff"/>
</g>
<ellipse cx="483.45" cy="91.11" rx="4" ry="2.6" fill="#c00000" stroke="#5a0000" stroke-width="0.7"/>
<ellipse cx="483.45" cy="158.93" rx="4" ry="2.6" fill="#c00000" stroke="#5a0000" stroke-width="0.7"/>
<ellipse cx="483.45" cy="195.27" rx="4" ry="2.6" fill="#ffc0c0" stroke="#555" stroke-width="0.7"/>
<ellipse cx="682.86" cy="91.39" rx="4" ry="2.6" fill="#c00000" stroke="#5a0000" stroke-width="0.7"/>
<text transform="translate(286.58,188.9) scale(1.357,1)" font-family="DejaVu Sans, Liberation Sans, sans-serif" font-size="6.1" text-anchor="end" fill="#222">200</text>
<text transform="translate(284.97,170.1) scale(1.357,1)" font-family="DejaVu Sans, Liberation Sans, sans-serif" font-size="6.1" text-anchor="end" fill="#222">300</text>
<text transform="translate(283.35,151.3) scale(1.357,1)" font-family="DejaVu Sans, Liberation Sans, sans-serif" font-size="6.1" text-anchor="end" fill="#222">400</text>
<text transform="translate(281.74,132.5) scale(1.357,1)" font-family="DejaVu Sans, Liberation Sans, sans-serif" font-size="6.1" text-anchor="end" fill="#222">500</text>
<text transform="translate(280.13,113.7) scale(1.357,1)" font-family="DejaVu Sans, Liberation Sans, sans-serif" font-size="6.1" text-anchor="end" fill="#222">600</text>
<text transform="translate(278.51,94.9) scale(1.357,1)" font-family="DejaVu Sans, Liberation Sans, sans-serif" font-size="6.1" text-anchor="end" fill="#222">700</text>
<text transform="translate(276.9,76.1) scale(1.357,1)" font-family="DejaVu Sans, Liberation Sans, sans-serif" font-size="6.1" text-anchor="end" fill="#222">800</text>
<text transform="translate(478,283.9) scale(1.361,1)" font-family="DejaVu Sans, Liberation Sans, sans-serif" font-size="6.1" text-anchor="end" fill="#222">0.5</text>
<text transform="translate(488.9,283.5) scale(1.361,1)" font-family="DejaVu Sans, Liberation Sans, sans-serif" font-size="6.1" text-anchor="start" fill="#222">1</text>
<text transform="translate(440.44,273.56) scale(1.361,1)" font-family="DejaVu Sans, Liberation Sans, sans-serif" font-size="6.1" text-anchor="end" fill="#222">0.6</text>
<text transform="translate(526.55,273.16) scale(1.361,1)" font-family="DejaVu Sans, Liberation Sans, sans-serif" font-size="6.1" text-anchor="start" fill="#222">1.2</text>
<text transform="translate(402.88,263.22) scale(1.361,1)" font-family="DejaVu Sans, Liberation Sans, sans-serif" font-size="6.1" text-anchor="end" fill="#222">0.7</text>
<text transform="translate(564.2,262.82) scale(1.361,1)" font-family="DejaVu Sans, Liberation Sans, sans-serif" font-size="6.1" text-anchor="start" fill="#222">1.4</text>
<text transform="translate(365.32,252.88) scale(1.361,1)" font-family="DejaVu Sans, Liberation Sans, sans-serif" font-size="6.1" text-anchor="end" fill="#222">0.8</text>
<text transform="translate(601.85,252.48) scale(1.361,1)" font-family="DejaVu Sans, Liberation Sans, sans-serif" font-size="6.1" text-anchor="start" fill="#222">1.6</text>
<text transform="translate(327.76,242.54) scale(1.361,1)" font-family="DejaVu Sans, Liberation Sans, sans-serif" font-size="6.1" text-anchor="end" fill="#222">0.9</text>
<text transform="translate(639.5,242.14) scale(1.361,1)" font-family="DejaVu Sans, Liberation Sans, sans-serif" font-size="6.1" text-anchor="start" fill="#222">1.8</text>
<text transform="translate(290.2,232.2) scale(1.361,1)" font-family="DejaVu Sans, Liberation Sans, sans-serif" font-size="6.1" text-anchor="end" fill="#222">1</text>
<text transform="translate(677.15,231.8) scale(1.361,1)" font-family="DejaVu Sans, Liberation Sans, sans-serif" font-size="6.1" text-anchor="start" fill="#222">2</text>
<ellipse cx="292.78" cy="190.7" rx="1.9" ry="1.25" fill="#000"/>
<ellipse cx="291.17" cy="171.9" rx="1.9" ry="1.25" fill="#000"/>
<ellipse cx="289.55" cy="153.1" rx="1.9" ry="1.25" fill="#000"/>
<ellipse cx="287.94" cy="134.3" rx="1.9" ry="1.25" fill="#000"/>
<ellipse cx="286.33" cy="115.5" rx="1.9" ry="1.25" fill="#000"/>
<ellipse cx="284.71" cy="96.7" rx="1.9" ry="1.25" fill="#000"/>
<ellipse cx="283.1" cy="77.9" rx="1.9" ry="1.25" fill="#000"/>
<ellipse cx="483.6" cy="277.6" rx="1.9" ry="1.25" fill="#000"/>
<ellipse cx="483.6" cy="277.6" rx="1.9" ry="1.25" fill="#000"/>
<ellipse cx="446.04" cy="267.26" rx="1.9" ry="1.25" fill="#000"/>
<ellipse cx="521.25" cy="267.26" rx="1.9" ry="1.25" fill="#000"/>
<ellipse cx="408.48" cy="256.92" rx="1.9" ry="1.25" fill="#000"/>
<ellipse cx="558.9" cy="256.92" rx="1.9" ry="1.25" fill="#000"/>
<ellipse cx="370.92" cy="246.58" rx="1.9" ry="1.25" fill="#000"/>
<ellipse cx="596.55" cy="246.58" rx="1.9" ry="1.25" fill="#000"/>
<ellipse cx="333.36" cy="236.24" rx="1.9" ry="1.25" fill="#000"/>
<ellipse cx="634.2" cy="236.24" rx="1.9" ry="1.25" fill="#000"/>
<ellipse cx="295.8" cy="225.9" rx="1.9" ry="1.25" fill="#000"/>
<ellipse cx="671.85" cy="225.9" rx="1.9" ry="1.25" fill="#000"/>
<text transform="translate(316.8,273) scale(1.381,1)" font-family="DejaVu Sans, Liberation Sans, sans-serif" font-size="7" text-anchor="middle" fill="#222">C: Sesame cake</text>
<text transform="translate(649.9,272.8) scale(1.444,1)" font-family="DejaVu Sans, Liberation Sans, sans-serif" font-size="7" text-anchor="middle" fill="#222">A: Peptone</text>
<text transform="translate(224.5,177.8) rotate(-90) scale(1,2.12)" font-family="DejaVu Sans, Liberation Sans, sans-serif" font-size="5.65" fill="#111">Protease activity</text>
<text transform="translate(473.2,11.7) scale(1.512,1)" font-family="DejaVu Sans, Liberation Sans, sans-serif" font-size="10.4" text-anchor="start" fill="#111">3D Surface</text>
<text transform="translate(1,5.7) scale(1.488,1)" font-family="DejaVu Sans, Liberation Sans, sans-serif" font-size="7.2" text-anchor="start" fill="#222">Factor Coding: Actual</text>
<text transform="translate(1,28.4) scale(1.356,1)" font-family="DejaVu Sans, Liberation Sans, sans-serif" font-size="7.2" text-anchor="start" fill="#000" font-weight="bold">Protease activity</text>
<text transform="translate(1,39.9) scale(1.484,1)" font-family="DejaVu Sans, Liberation Sans, sans-serif" font-size="7.2" text-anchor="start" fill="#222">Design Points:</text>
<ellipse cx="13" cy="48.3" rx="6.4" ry="3.7" fill="#b00000" stroke="#500" stroke-width="0.6"/>
<text transform="translate(26.6,51.2) scale(1.460,1)" font-family="DejaVu Sans, Liberation Sans, sans-serif" font-size="7.2" text-anchor="start" fill="#c0282d">Above Surface</text>
<ellipse cx="13" cy="59.5" rx="6.4" ry="3.7" fill="#ffc0c0" stroke="#555" stroke-width="0.6"/>
<text transform="translate(26.6,62.6) scale(1.440,1)" font-family="DejaVu Sans, Liberation Sans, sans-serif" font-size="7.2" text-anchor="start" fill="#c0282d">Below Surface</text>
<text transform="translate(1,73.6) scale(1.358,1)" font-family="DejaVu Sans, Liberation Sans, sans-serif" font-size="7.2" text-anchor="start" fill="#2222ff">317.8</text>
<rect x="33.6" y="66" width="44.6" height="9.9" fill="url(#lg)" stroke="#333" stroke-width="0.4"/>
<text transform="translate(83,73.6) scale(1.383,1)" font-family="DejaVu Sans, Liberation Sans, sans-serif" font-size="7.2" text-anchor="start" fill="#ff2020">732</text>
<text transform="translate(1,95.8) scale(1.421,1)" font-family="DejaVu Sans, Liberation Sans, sans-serif" font-size="7.2" text-anchor="start" fill="#222">X1 = A</text>
<text transform="translate(1,107.2) scale(1.392,1)" font-family="DejaVu Sans, Liberation Sans, sans-serif" font-size="7.2" text-anchor="start" fill="#222">X2 = C</text>
<text transform="translate(1,130) scale(1.394,1)" font-family="DejaVu Sans, Liberation Sans, sans-serif" font-size="7.2" text-anchor="start" fill="#000" font-weight="bold">Actual Factor</text>
<text transform="translate(1,141) scale(1.407,1)" font-family="DejaVu Sans, Liberation Sans, sans-serif" font-size="7.2" text-anchor="start" fill="#222">B = 1.5</text>
</g>
<g transform="matrix(0.9797,0,0,1.1385,7.967,640.8)">
<polygon points="483.6,277.6 671.85,225.9 483.6,185.4 295.8,225.9" fill="#666666" stroke="#111" stroke-width="0.8"/>
<path d="M342.4,238.73 L346.13,238.17 L351.73,237.34 L355.47,236.78 L361.11,235.95 L364.88,235.39 L370.57,234.57 L374.39,234.03 L380.16,233.22 L384.04,232.7 L388.94,232.04 L393.93,231.41 L397.97,230.92 L402.84,230.35 L408.38,229.76 L412.72,229.33 L417.2,228.94 L421.85,228.59 L426.73,228.3 L431.94,228.09 L435.65,228.01 L440.85,228.03 L444.71,228.16 L449.72,228.49 L454.09,228.98 L459.71,229.93 L464.47,231.09 L468.56,232.42 L470.99,233.37 L474.22,234.87 L476.27,235.97 L478.13,237.07 L479.86,238.21 L481.48,239.38 L483.01,240.58 L484.45,241.8 L485.8,243.04 L487.08,244.31 L488.22,245.53 L489.12,246.56 L489.97,247.59 L491.01,248.93 L491.98,250.29 L492.82,251.56 L493.41,252.53 L494.14,253.8 L494.89,255.24 L495.39,256.32 L495.88,257.44 L496.45,258.94 L496.79,259.99 L497.15,261.24 L497.49,262.67 L497.68,263.6 L497.91,265.21 L497.99,266.16 L498.06,267.69 L498.05,268.71 L497.97,270.25 L497.86,271.2 L497.59,272.83 L497.37,273.82" fill="none" stroke="#0e6ee9" stroke-width="1.3"/>
<path d="M538.2,197.15 L538.17,197.84 L538.09,198.53 L537.98,199.21 L537.85,199.89 L537.69,200.56 L537.52,201.24 L537.34,201.91 L537.14,202.58 L536.94,203.26 L536.69,204.03 L536.43,204.81 L536.17,205.59 L535.9,206.38 L535.64,207.17 L535.38,207.94 L535.15,208.62 L534.93,209.29 L534.71,209.97 L534.5,210.66 L534.29,211.34 L534.09,212.03 L533.9,212.72 L533.7,213.48 L533.49,214.27 L533.3,215.06 L533.11,215.85 L532.94,216.63 L532.78,217.42 L532.63,218.2 L532.49,218.98 L532.36,219.76 L532.25,220.52 L532.15,221.25 L532.06,221.98 L531.97,222.72 L531.9,223.46 L531.84,224.2 L531.78,224.95 L531.74,225.7 L531.7,226.46 L531.67,227.22 L531.65,227.98 L531.64,228.74 L531.64,229.51 L531.64,230.28 L531.65,231.06 L531.67,231.84 L531.69,232.62 L531.72,233.4 L531.76,234.19 L531.8,234.98 L531.85,235.77 L531.9,236.57 L531.95,237.37 L532.01,238.17 L532.07,238.97 L532.13,239.78 L532.19,240.59 L532.26,241.4 L532.32,242.19 L532.38,242.97 L532.44,243.75 L532.5,244.53 L532.56,245.32 L532.62,246.11 L532.67,246.9 L532.71,247.69 L532.76,248.48 L532.8,249.28 L532.83,250.08 L532.86,250.89 L532.88,251.69 L532.89,252.5 L532.89,253.32 L532.88,254.14 L532.87,254.96 L532.84,255.79 L532.8,256.62 L532.75,257.46 L532.68,258.3 L532.6,259.15 L532.51,260 L532.4,260.86 L532.27,261.73 L532.13,262.54 L531.97,263.34 L531.81,264.13 L531.75,264.38" fill="none" stroke="#0ee2e9" stroke-width="1.3"/>
<path d="M316.87,231.7 L320.2,231.06 L323.51,230.41 L326.81,229.76 L330.09,229.11 L333.36,228.45 L334.99,228.11 L338.23,227.45 L341.46,226.78 L344.68,226.11 L347.89,225.43 L351.08,224.75 L354.26,224.06 L357.42,223.37 L360.58,222.68 L363.72,221.99 L366.85,221.29 L369.96,220.59 L373.07,219.88 L376.17,219.18 L379.25,218.47 L382.33,217.76 L385.39,217.04 L388.45,216.33 L391.49,215.61 L394.53,214.89 L397.56,214.17 L399.07,213.81 L402.09,213.08 L405.11,212.36 L408.12,211.63 L411.12,210.9 L414.12,210.17 L417.11,209.44 L420.1,208.71 L423.09,207.98 L426.07,207.25 L429.06,206.52 L432.04,205.79 L433.54,205.43 L436.53,204.7 L439.52,203.97 L442.53,203.25 L445.53,202.52 L448.55,201.8 L451.58,201.08 L454.62,200.37 L457.67,199.66 L460.75,198.95 L463.84,198.25 L466.96,197.55 L470.1,196.86 L473.28,196.17 L476.49,195.5 L479.75,194.83 L483.05,194.18 L486.41,193.53 L489.83,192.9 L491.58,192.59 L495.15,191.99 L498.81,191.41 L501.69,190.99 L504.59,190.6 L506.61,190.35" fill="none" stroke="#0ee2e9" stroke-width="1.3"/>
<path d="M593.43,209.03 L592.88,209.64 L592.61,209.96 L592.34,210.26 L591.81,210.87 L591.79,210.89 L591.28,211.49 L591.01,211.83 L590.77,212.11 L590.26,212.74 L590.25,212.75 L589.75,213.37 L589.51,213.68 L589.26,214 L588.8,214.6 L588.77,214.63 L588.29,215.27 L588.11,215.52 L587.82,215.91 L587.45,216.43 L587.36,216.55 L586.91,217.19 L586.81,217.34 L586.47,217.84 L586.2,218.24 L586.03,218.49 L585.61,219.14 L585.6,219.15 L585.18,219.81 L585.04,220.04 L584.77,220.47 L584.5,220.93 L584.37,221.13 L583.98,221.8 L583.97,221.82 L583.6,222.47 L583.47,222.71 L583.22,223.14 L582.98,223.59 L582.86,223.82 L582.52,224.47 L582.5,224.5 L582.15,225.18 L582.07,225.35 L581.81,225.87 L581.64,226.22 L581.48,226.56 L581.23,227.1 L581.16,227.25 L580.85,227.94 L580.84,227.97 L580.54,228.64 L580.46,228.83 L580.25,229.34 L580.1,229.7 L579.96,230.05 L579.75,230.56 L579.67,230.76 L579.42,231.42 L579.4,231.47 L579.13,232.18 L579.1,232.28 L578.87,232.9 L578.79,233.14 L578.62,233.62 L578.49,234 L578.37,234.34 L578.21,234.86 L578.14,235.07 L577.93,235.71 L577.9,235.8 L577.67,236.53 L577.66,236.57 L577.45,237.26 L577.4,237.42 L577.23,238 L577.15,238.28 L577.02,238.74 L576.91,239.13 L576.81,239.48 L576.67,239.99 L576.61,240.22 L576.44,240.84 L576.41,240.97 L576.21,241.7 L576.21,241.72 L576.01,242.46 L575.99,242.55 L575.82,243.22 L575.77,243.41 L575.63,243.97 L575.55,244.27 L575.43,244.72 L575.33,245.13 L575.24,245.48 L575.12,245.99 L575.05,246.24 L574.9,246.85 L574.86,247 L574.68,247.72 L574.67,247.76 L574.48,248.52 L574.46,248.58 L574.28,249.28 L574.24,249.45 L574.09,250.04 L574.01,250.33 L573.88,250.81 L573.78,251.2 L573.68,251.57 L573.54,252.08 L573.47,252.34 L573.3,252.97" fill="none" stroke="#0ee958" stroke-width="1.3"/>
<path d="M625.3,215.89 L624.81,216.51 L624.81,216.52 L624.31,217.17 L624.1,217.45 L623.83,217.81 L623.42,218.38 L623.36,218.46 L622.89,219.11 L622.75,219.3 L622.43,219.76 L622.11,220.22 L621.98,220.41 L621.53,221.07 L621.48,221.14 L621.09,221.73 L620.88,222.06 L620.66,222.39 L620.3,222.97 L620.24,223.06 L619.83,223.73 L619.73,223.88 L619.42,224.4 L619.19,224.79 L619.02,225.07 L618.66,225.69 L618.63,225.75 L618.24,226.43 L618.15,226.59 L617.86,227.11 L617.66,227.49 L617.49,227.8 L617.18,228.39 L617.13,228.49 L616.77,229.18 L616.71,229.28 L616.42,229.87 L616.27,230.18 L616.07,230.57 L615.83,231.07 L615.73,231.27 L615.41,231.96 L615.4,231.97 L615.08,232.67 L615,232.85 L614.76,233.38 L614.6,233.74 L614.44,234.09 L614.21,234.62 L614.13,234.8 L613.83,235.51 L613.83,235.52 L613.53,236.23 L613.46,236.39 L613.23,236.95 L613.1,237.28 L612.94,237.67 L612.75,238.16 L612.65,238.4 L612.4,239.05 L612.37,239.12 L612.09,239.85 L612.06,239.94 L611.81,240.58 L611.72,240.82 L611.53,241.31 L611.39,241.71 L611.26,242.04 L611.06,242.6" fill="none" stroke="#58e90e" stroke-width="1.3"/>
<path d="M649.89,221.17 L649.89,221.18 L649.45,221.84 L649.29,222.09 L649.03,222.51 L648.71,223.01 L648.61,223.18 L648.2,223.85 L648.15,223.92 L647.79,224.52 L647.61,224.83 L647.39,225.2 L647.08,225.74 L647,225.88 L646.61,226.57 L646.57,226.65 L646.23,227.25 L646.07,227.55 L645.86,227.94 L645.59,228.45 L645.5,228.63 L645.14,229.33 L645.12,229.35 L644.78,230.02 L644.66,230.25 L644.43,230.72 L644.22,231.15 L644.09,231.42 L643.79,232.05 L643.75,232.12 L643.42,232.83 L643.37,232.94 L643.09,233.54 L642.95,233.84" fill="none" stroke="#dce90e" stroke-width="1.3"/>
<ellipse cx="287.77" cy="141.41" rx="4" ry="2.6" fill="#ffc0c0" stroke="#555" stroke-width="0.7"/>
<path d="M295.8,225.9 L283.1,77.9 M671.85,225.9 L683.7,78 M330.94,183.29 L323.2,72.7 M636.45,183.31 L643.68,72.78 M369.11,175.88 L363.3,67.5 M598.24,175.9 L603.66,67.56 M407.27,168.47 L403.4,62.3 M560.03,168.48 L563.64,62.34 M445.44,161.06 L443.5,57.1 M521.81,161.07 L523.62,57.12 M483.6,185.4 L483.6,51.9 M483.6,185.4 L483.6,51.9 M292.78,190.7 L483.6,153.65 L674.67,190.73 M291.17,171.9 L483.6,136.69 L676.17,171.94 M289.55,153.1 L483.6,119.74 L677.68,153.15 M287.94,134.3 L483.6,102.78 L679.18,134.36 M286.33,115.5 L483.6,85.82 L680.69,115.58 M284.71,96.7 L483.6,68.86 L682.19,96.79 M283.1,77.9 L483.6,51.9 L683.7,78" fill="none" stroke="#1a1a1a" stroke-width="0.75"/>
<g stroke="#05051a" stroke-opacity="0.88" stroke-width="0.62" stroke-linejoin="round">
<path d="M483.6,118.2 L493.3,116.49 L483.6,112.72 L473.89,114.27 Z" fill="#22ffe0"/>
<path d="M473.9,119.84 L483.6,118.2 L473.89,114.27 L464.18,115.75 Z" fill="#1fffdf"/>
<path d="M493.29,121.52 L502.98,119.64 L493.3,116.49 L483.6,118.2 Z" fill="#28fff8"/>
<path d="M464.21,121.42 L473.9,119.84 L464.18,115.75 L454.47,117.16 Z" fill="#1effde"/>
<path d="M483.6,123.34 L493.29,121.52 L483.6,118.2 L473.9,119.84 Z" fill="#26fff9"/>
<path d="M502.97,124.26 L512.66,122.19 L502.98,119.64 L493.29,121.52 Z" fill="#2df7ff"/>
<path d="M473.91,125.09 L483.6,123.34 L473.9,119.84 L464.21,121.42 Z" fill="#24fff9"/>
<path d="M493.29,126.26 L502.97,124.26 L493.29,121.52 L483.6,123.34 Z" fill="#2bf4ff"/>
<path d="M454.51,122.94 L464.21,121.42 L454.47,117.16 L444.76,118.52 Z" fill="#1cffdb"/>
<path d="M512.65,126.43 L522.34,124.17 L512.66,122.19 L502.97,124.26 Z" fill="#31efff"/>
<path d="M444.81,124.41 L454.51,122.94 L444.76,118.52 L435.04,119.83 Z" fill="#1affd8"/>
<path d="M464.23,126.79 L473.91,125.09 L464.21,121.42 L454.51,122.94 Z" fill="#22fff9"/>
<path d="M483.6,128.21 L493.29,126.26 L483.6,123.34 L473.91,125.09 Z" fill="#29f2ff"/>
<path d="M502.96,128.64 L512.65,126.43 L502.97,124.26 L493.29,126.26 Z" fill="#30eaff"/>
<path d="M522.33,128.07 L532.03,125.6 L522.34,124.17 L512.65,126.43 Z" fill="#33edff"/>
<path d="M454.54,128.45 L464.23,126.79 L454.51,122.94 L444.81,124.41 Z" fill="#20fff8"/>
<path d="M512.64,130.48 L522.33,128.07 L512.65,126.43 L502.96,128.64 Z" fill="#32e7ff"/>
<path d="M435.1,125.85 L444.81,124.41 L435.04,119.83 L425.32,121.09 Z" fill="#19ffd4"/>
<path d="M473.92,130.11 L483.6,128.21 L473.91,125.09 L464.23,126.79 Z" fill="#28f0ff"/>
<path d="M493.28,130.79 L502.96,128.64 L493.29,126.26 L483.6,128.21 Z" fill="#2ee6ff"/>
<path d="M532.03,129.19 L541.73,126.51 L532.03,125.6 L522.33,128.07 Z" fill="#33f2ff"/>
<path d="M425.4,127.25 L435.1,125.85 L425.32,121.09 L415.59,122.32 Z" fill="#18ffd0"/>
<path d="M444.85,130.07 L454.54,128.45 L444.81,124.41 L435.1,125.85 Z" fill="#1ffff6"/>
<path d="M464.24,131.96 L473.92,130.11 L464.23,126.79 L454.54,128.45 Z" fill="#26efff"/>
<path d="M483.6,132.89 L493.28,130.79 L483.6,128.21 L473.92,130.11 Z" fill="#2de2ff"/>
<path d="M502.96,132.85 L512.64,130.48 L502.96,128.64 L493.28,130.79 Z" fill="#32e1ff"/>
<path d="M522.33,131.82 L532.03,129.19 L522.33,128.07 L512.64,130.48 Z" fill="#33e9ff"/>
<path d="M541.74,129.83 L551.46,126.92 L541.73,126.51 L532.03,129.19 Z" fill="#31fcff"/>
<path d="M415.69,128.62 L425.4,127.25 L415.59,122.32 L405.86,123.53 Z" fill="#17ffcc"/>
<path d="M435.16,131.66 L444.85,130.07 L435.1,125.85 L425.4,127.25 Z" fill="#1dfff4"/>
<path d="M454.56,133.78 L464.24,131.96 L454.54,128.45 L444.85,130.07 Z" fill="#25efff"/>
<path d="M473.93,134.95 L483.6,132.89 L473.92,130.11 L464.24,131.96 Z" fill="#2cdfff"/>
<path d="M493.28,135.17 L502.96,132.85 L493.28,130.79 L483.6,132.89 Z" fill="#31dbff"/>
<path d="M512.64,134.41 L522.33,131.82 L512.64,130.48 L502.96,132.85 Z" fill="#34e1ff"/>
<path d="M532.03,132.68 L541.74,129.83 L532.03,129.19 L522.33,131.82 Z" fill="#32f1ff"/>
<path d="M551.47,130 L561.21,126.87 L551.46,126.92 L541.74,129.83 Z" fill="#2efff3"/>
<path d="M425.46,133.22 L435.16,131.66 L425.4,127.25 L415.69,128.62 Z" fill="#1cfff2"/>
<path d="M444.88,135.56 L454.56,133.78 L444.85,130.07 L435.16,131.66 Z" fill="#23efff"/>
<path d="M483.61,137.45 L493.28,135.17 L483.6,132.89 L473.93,134.95 Z" fill="#30d6ff"/>
<path d="M522.33,135.49 L532.03,132.68 L522.33,131.82 L512.64,134.41 Z" fill="#34e7ff"/>
<path d="M541.74,133.08 L551.47,130 L541.74,129.83 L532.03,132.68 Z" fill="#30feff"/>
<path d="M405.97,129.98 L415.69,128.62 L405.86,123.53 L396.13,124.72 Z" fill="#16ffc7"/>
<path d="M464.26,136.98 L473.93,134.95 L464.24,131.96 L454.56,133.78 Z" fill="#2addff"/>
<path d="M502.95,136.95 L512.64,134.41 L502.96,132.85 L493.28,135.17 Z" fill="#34daff"/>
<path d="M561.23,129.73 L570.99,126.38 L561.21,126.87 L551.47,130 Z" fill="#2bffde"/>
<path d="M396.26,131.34 L405.97,129.98 L396.13,124.72 L386.39,125.91 Z" fill="#15ffc3"/>
<path d="M415.77,134.76 L425.46,133.22 L415.69,128.62 L405.97,129.98 Z" fill="#1bffef"/>
<path d="M435.21,137.32 L444.88,135.56 L435.16,131.66 L425.46,133.22 Z" fill="#22efff"/>
<path d="M454.59,138.98 L464.26,136.98 L454.56,133.78 L444.88,135.56 Z" fill="#29dbff"/>
<path d="M473.94,139.7 L483.61,137.45 L473.93,134.95 L464.26,136.98 Z" fill="#30d2ff"/>
<path d="M493.28,139.46 L502.95,136.95 L493.28,135.17 L483.61,137.45 Z" fill="#34d3ff"/>
<path d="M512.63,138.27 L522.33,135.49 L512.64,134.41 L502.95,136.95 Z" fill="#35ddff"/>
<path d="M532.03,136.12 L541.74,133.08 L532.03,132.68 L522.33,135.49 Z" fill="#32f1ff"/>
<path d="M551.49,133.04 L561.23,129.73 L551.47,130 L541.74,133.08 Z" fill="#2effee"/>
<path d="M571.02,129.05 L580.81,125.48 L570.99,126.38 L561.23,129.73 Z" fill="#28ffc3"/>
<path d="M406.07,136.3 L415.77,134.76 L405.97,129.98 L396.26,131.34 Z" fill="#1affec"/>
<path d="M464.27,141.92 L473.94,139.7 L464.26,136.98 L454.59,138.98 Z" fill="#2fceff"/>
<path d="M502.95,141.01 L512.63,138.27 L502.95,136.95 L493.28,139.46 Z" fill="#36d4ff"/>
<path d="M561.25,132.59 L571.02,129.05 L561.23,129.73 L551.49,133.04 Z" fill="#2bffd7"/>
<path d="M386.54,132.69 L396.26,131.34 L386.39,125.91 L376.65,127.09 Z" fill="#15ffbe"/>
<path d="M425.53,139.07 L435.21,137.32 L425.46,133.22 L415.77,134.76 Z" fill="#20efff"/>
<path d="M444.92,140.95 L454.59,138.98 L444.88,135.56 L435.21,137.32 Z" fill="#28d9ff"/>
<path d="M483.61,141.94 L493.28,139.46 L483.61,137.45 L473.94,139.7 Z" fill="#34ccff"/>
<path d="M522.33,139.13 L532.03,136.12 L522.33,135.49 L512.63,138.27 Z" fill="#34e6ff"/>
<path d="M541.75,136.32 L551.49,133.04 L541.74,133.08 L532.03,136.12 Z" fill="#30fffd"/>
<path d="M580.85,127.99 L590.67,124.19 L580.81,125.48 L571.02,129.05 Z" fill="#25ffa4"/>
<path d="M376.82,134.05 L386.54,132.69 L376.65,127.09 L366.91,128.28 Z" fill="#14ffb9"/>
<path d="M396.38,137.83 L406.07,136.3 L396.26,131.34 L386.54,132.69 Z" fill="#19ffe9"/>
<path d="M415.85,140.81 L425.53,139.07 L415.77,134.76 L406.07,136.3 Z" fill="#1ff0ff"/>
<path d="M435.25,142.91 L444.92,140.95 L435.21,137.32 L425.53,139.07 Z" fill="#27d7ff"/>
<path d="M454.61,144.11 L464.27,141.92 L454.59,138.98 L444.92,140.95 Z" fill="#2ecaff"/>
<path d="M473.94,144.39 L483.61,141.94 L473.94,139.7 L464.27,141.92 Z" fill="#33c6ff"/>
<path d="M493.28,143.72 L502.95,141.01 L493.28,139.46 L483.61,141.94 Z" fill="#36ccff"/>
<path d="M512.63,142.11 L522.33,139.13 L512.63,138.27 L502.95,141.01 Z" fill="#36dbff"/>
<path d="M532.03,139.57 L541.75,136.32 L532.03,136.12 L522.33,139.13 Z" fill="#33f3ff"/>
<path d="M551.5,136.11 L561.25,132.59 L551.49,133.04 L541.75,136.32 Z" fill="#2effe9"/>
<path d="M571.05,131.76 L580.85,127.99 L571.02,129.05 L561.25,132.59 Z" fill="#28ffba"/>
<path d="M590.71,126.58 L600.56,122.56 L590.67,124.19 L580.85,127.99 Z" fill="#22ff80"/>
<path d="M367.1,135.42 L376.82,134.05 L366.91,128.28 L357.16,129.5 Z" fill="#14ffb5"/>
<path d="M386.68,139.38 L396.38,137.83 L386.54,132.69 L376.82,134.05 Z" fill="#18ffe6"/>
<path d="M406.17,142.54 L415.85,140.81 L406.07,136.3 L396.38,137.83 Z" fill="#1ef1ff"/>
<path d="M425.59,144.86 L435.25,142.91 L425.53,139.07 L415.85,140.81 Z" fill="#25d6ff"/>
<path d="M444.95,146.3 L454.61,144.11 L444.92,140.95 L435.25,142.91 Z" fill="#2dc6ff"/>
<path d="M464.28,146.82 L473.94,144.39 L464.27,141.92 L454.61,144.11 Z" fill="#33c1ff"/>
<path d="M483.61,146.41 L493.28,143.72 L483.61,141.94 L473.94,144.39 Z" fill="#37c4ff"/>
<path d="M502.95,145.07 L512.63,142.11 L502.95,141.01 L493.28,143.72 Z" fill="#37d0ff"/>
<path d="M522.33,142.79 L532.03,139.57 L522.33,139.13 L512.63,142.11 Z" fill="#35e5ff"/>
<path d="M541.76,139.59 L551.5,136.11 L541.75,136.32 L532.03,139.57 Z" fill="#30fffa"/>
<path d="M561.27,135.51 L571.05,131.76 L561.25,132.59 L551.5,136.11 Z" fill="#2bffcf"/>
<path d="M580.89,130.57 L590.71,126.58 L580.85,127.99 L571.05,131.76 Z" fill="#25ff99"/>
<path d="M600.61,124.84 L610.5,120.61 L600.56,122.56 L590.71,126.58 Z" fill="#20ff58"/>
<path d="M357.38,136.83 L367.1,135.42 L357.16,129.5 L347.41,130.74 Z" fill="#13ffb1"/>
<path d="M376.98,140.93 L386.68,139.38 L376.82,134.05 L367.1,135.42 Z" fill="#18ffe4"/>
<path d="M396.49,144.28 L406.17,142.54 L396.38,137.83 L386.68,139.38 Z" fill="#1df2ff"/>
<path d="M435.29,148.47 L444.95,146.3 L435.25,142.91 L425.59,144.86 Z" fill="#2cc3ff"/>
<path d="M473.95,149.08 L483.61,146.41 L473.94,144.39 L464.28,146.82 Z" fill="#37bcff"/>
<path d="M493.28,148 L502.95,145.07 L493.28,143.72 L483.61,146.41 Z" fill="#39c6ff"/>
<path d="M532.04,143.05 L541.76,139.59 L532.03,139.57 L522.33,142.79 Z" fill="#33f4ff"/>
<path d="M571.08,134.55 L580.89,130.57 L571.05,131.76 L561.27,135.51 Z" fill="#28ffb2"/>
<path d="M590.76,129.06 L600.61,124.84 L590.71,126.58 L580.89,130.57 Z" fill="#23ff74"/>
<path d="M610.56,122.81 L620.48,118.37 L610.5,120.61 L600.61,124.84 Z" fill="#1eff2c"/>
<path d="M415.92,146.8 L425.59,144.86 L415.85,140.81 L406.17,142.54 Z" fill="#24d5ff"/>
<path d="M454.63,149.23 L464.28,146.82 L454.61,144.11 L444.95,146.3 Z" fill="#32bbff"/>
<path d="M512.63,145.98 L522.33,142.79 L512.63,142.11 L502.95,145.07 Z" fill="#37d8ff"/>
<path d="M551.51,139.23 L561.27,135.51 L551.5,136.11 L541.76,139.59 Z" fill="#2effe4"/>
<path d="M347.65,138.26 L357.38,136.83 L347.41,130.74 L337.66,132.02 Z" fill="#13ffad"/>
<path d="M367.28,142.51 L376.98,140.93 L367.1,135.42 L357.38,136.83 Z" fill="#17ffe1"/>
<path d="M386.81,146.03 L396.49,144.28 L386.68,139.38 L376.98,140.93 Z" fill="#1df2ff"/>
<path d="M406.26,148.75 L415.92,146.8 L406.17,142.54 L396.49,144.28 Z" fill="#23d3ff"/>
<path d="M425.64,150.64 L435.29,148.47 L425.59,144.86 L415.92,146.8 Z" fill="#2bbfff"/>
<path d="M444.98,151.64 L454.63,149.23 L444.95,146.3 L435.29,148.47 Z" fill="#32b5ff"/>
<path d="M464.3,151.73 L473.95,149.08 L464.28,146.82 L454.63,149.23 Z" fill="#37b5ff"/>
<path d="M483.61,150.91 L493.28,148 L483.61,146.41 L473.95,149.08 Z" fill="#3abdff"/>
<path d="M502.95,149.16 L512.63,145.98 L502.95,145.07 L493.28,148 Z" fill="#39ccff"/>
<path d="M522.33,146.49 L532.04,143.05 L522.33,142.79 L512.63,145.98 Z" fill="#36e5ff"/>
<path d="M541.77,142.93 L551.51,139.23 L541.76,139.59 L532.04,143.05 Z" fill="#31fff7"/>
<path d="M561.29,138.5 L571.08,134.55 L561.27,135.51 L551.51,139.23 Z" fill="#2bffc9"/>
<path d="M580.92,133.25 L590.76,129.06 L580.89,130.57 L571.08,134.55 Z" fill="#25ff8f"/>
<path d="M600.67,127.23 L610.56,122.81 L600.61,124.84 L590.76,129.06 Z" fill="#20ff4b"/>
<path d="M620.55,120.51 L630.5,115.88 L620.48,118.37 L610.56,122.81 Z" fill="#3dff1d"/>
<path d="M357.58,144.12 L367.28,142.51 L357.38,136.83 L347.65,138.26 Z" fill="#17ffdf"/>
<path d="M454.65,154.38 L464.3,151.73 L454.63,149.23 L444.98,151.64 Z" fill="#37aeff"/>
<path d="M512.63,149.92 L522.33,146.49 L512.63,145.98 L502.95,149.16 Z" fill="#39d6ff"/>
<path d="M610.62,125.14 L620.55,120.51 L610.56,122.81 L600.67,127.23 Z" fill="#1fff1f"/>
<path d="M337.93,139.75 L347.65,138.26 L337.66,132.02 L327.91,133.35 Z" fill="#13ffaa"/>
<path d="M377.13,147.8 L386.81,146.03 L376.98,140.93 L367.28,142.51 Z" fill="#1cf3ff"/>
<path d="M396.6,150.71 L406.26,148.75 L396.49,144.28 L386.81,146.03 Z" fill="#22d2ff"/>
<path d="M415.99,152.81 L425.64,150.64 L415.92,146.8 L406.26,148.75 Z" fill="#2abcff"/>
<path d="M435.34,154.04 L444.98,151.64 L435.29,148.47 L425.64,150.64 Z" fill="#31b0ff"/>
<path d="M473.96,153.81 L483.61,150.91 L473.95,149.08 L464.3,151.73 Z" fill="#3bb3ff"/>
<path d="M493.27,152.32 L502.95,149.16 L493.28,148 L483.61,150.91 Z" fill="#3bc1ff"/>
<path d="M532.04,146.61 L541.77,142.93 L532.04,143.05 L522.33,146.49 Z" fill="#34f5ff"/>
<path d="M551.52,142.44 L561.29,138.5 L551.51,139.23 L541.77,142.93 Z" fill="#2effdf"/>
<path d="M571.1,137.44 L580.92,133.25 L571.08,134.55 L561.29,138.5 Z" fill="#28ffaa"/>
<path d="M590.8,131.65 L600.67,127.23 L590.76,129.06 L580.92,133.25 Z" fill="#23ff69"/>
<path d="M630.58,117.98 L640.57,113.16 L630.5,115.88 L620.55,120.51 Z" fill="#6cff1b"/>
<path d="M347.89,145.78 L357.58,144.12 L347.65,138.26 L337.93,139.75 Z" fill="#17ffde"/>
<path d="M620.61,122.8 L630.58,117.98 L620.55,120.51 L610.62,125.14 Z" fill="#4bff1d"/>
<path d="M328.21,141.28 L337.93,139.75 L327.91,133.35 L318.17,134.74 Z" fill="#13ffa8"/>
<path d="M367.46,149.6 L377.13,147.8 L367.28,142.51 L357.58,144.12 Z" fill="#1bf3ff"/>
<path d="M386.94,152.69 L396.6,150.71 L386.81,146.03 L377.13,147.8 Z" fill="#21d0ff"/>
<path d="M406.35,154.99 L415.99,152.81 L406.26,148.75 L396.6,150.71 Z" fill="#29b8ff"/>
<path d="M425.7,156.44 L435.34,154.04 L425.64,150.64 L415.99,152.81 Z" fill="#30abff"/>
<path d="M445.01,157.02 L454.65,154.38 L444.98,151.64 L435.34,154.04 Z" fill="#37a6ff"/>
<path d="M464.31,156.7 L473.96,153.81 L464.3,151.73 L454.65,154.38 Z" fill="#3baaff"/>
<path d="M483.61,155.46 L493.27,152.32 L483.61,150.91 L473.96,153.81 Z" fill="#3db6ff"/>
<path d="M502.94,153.32 L512.63,149.92 L502.95,149.16 L493.27,152.32 Z" fill="#3bc8ff"/>
<path d="M522.32,150.28 L532.04,146.61 L522.33,146.49 L512.63,149.92 Z" fill="#37e4ff"/>
<path d="M541.77,146.36 L551.52,142.44 L541.77,142.93 L532.04,146.61 Z" fill="#31fff4"/>
<path d="M561.31,141.6 L571.1,137.44 L561.29,138.5 L551.52,142.44 Z" fill="#2bffc3"/>
<path d="M580.95,136.05 L590.8,131.65 L580.92,133.25 L571.1,137.44 Z" fill="#26ff86"/>
<path d="M600.71,129.76 L610.62,125.14 L600.67,127.23 L590.8,131.65 Z" fill="#21ff3f"/>
<path d="M640.65,115.25 L650.68,110.26 L640.57,113.16 L630.58,117.98 Z" fill="#9eff1a"/>
<path d="M318.5,142.88 L328.21,141.28 L318.17,134.74 L308.43,136.2 Z" fill="#13ffa6"/>
<path d="M338.2,147.48 L347.89,145.78 L337.93,139.75 L328.21,141.28 Z" fill="#16ffdd"/>
<path d="M357.79,151.44 L367.46,149.6 L357.58,144.12 L347.89,145.78 Z" fill="#1bf3ff"/>
<path d="M377.28,154.7 L386.94,152.69 L377.13,147.8 L367.46,149.6 Z" fill="#21ceff"/>
<path d="M396.7,157.18 L406.35,154.99 L396.6,150.71 L386.94,152.69 Z" fill="#28b5ff"/>
<path d="M416.06,158.85 L425.7,156.44 L415.99,152.81 L406.35,154.99 Z" fill="#2fa5ff"/>
<path d="M435.38,159.66 L445.01,157.02 L435.34,154.04 L425.7,156.44 Z" fill="#369fff"/>
<path d="M454.67,159.58 L464.31,156.7 L454.65,154.38 L445.01,157.02 Z" fill="#3ca1ff"/>
<path d="M473.96,158.6 L483.61,155.46 L473.96,153.81 L464.31,156.7 Z" fill="#3eabff"/>
<path d="M493.27,156.71 L502.94,153.32 L493.27,152.32 L483.61,155.46 Z" fill="#3dbbff"/>
<path d="M512.63,153.93 L522.32,150.28 L512.63,149.92 L502.94,153.32 Z" fill="#3ad4ff"/>
<path d="M532.04,150.27 L541.77,146.36 L532.04,146.61 L522.32,150.28 Z" fill="#34f6ff"/>
<path d="M551.53,145.75 L561.31,141.6 L551.52,142.44 L541.77,146.36 Z" fill="#2effdb"/>
<path d="M571.13,140.44 L580.95,136.05 L571.1,137.44 L561.31,141.6 Z" fill="#29ffa2"/>
<path d="M590.83,134.37 L600.71,129.76 L590.8,131.65 L580.95,136.05 Z" fill="#23ff5f"/>
<path d="M610.67,127.61 L620.61,122.8 L610.62,125.14 L600.71,129.76 Z" fill="#2cff1f"/>
<path d="M630.64,120.24 L640.65,115.25 L630.58,117.98 L620.61,122.8 Z" fill="#7bff1c"/>
<path d="M650.77,112.35 L660.84,107.21 L650.68,110.26 L640.65,115.25 Z" fill="#d2ff1a"/>
<path d="M308.79,144.55 L318.5,142.88 L308.43,136.2 L298.69,137.74 Z" fill="#13ffa6"/>
<path d="M328.51,149.24 L338.2,147.48 L328.21,141.28 L318.5,142.88 Z" fill="#16ffdd"/>
<path d="M348.12,153.32 L357.79,151.44 L347.89,145.78 L338.2,147.48 Z" fill="#1bf2ff"/>
<path d="M367.63,156.73 L377.28,154.7 L367.46,149.6 L357.79,151.44 Z" fill="#20ccff"/>
<path d="M387.07,159.4 L396.7,157.18 L386.94,152.69 L377.28,154.7 Z" fill="#27b1ff"/>
<path d="M406.43,161.27 L416.06,158.85 L406.35,154.99 L396.7,157.18 Z" fill="#2e9fff"/>
<path d="M425.75,162.3 L435.38,159.66 L425.7,156.44 L416.06,158.85 Z" fill="#3698ff"/>
<path d="M445.04,162.46 L454.67,159.58 L445.01,157.02 L435.38,159.66 Z" fill="#3c98ff"/>
<path d="M483.61,160.1 L493.27,156.71 L483.61,155.46 L473.96,158.6 Z" fill="#3faeff"/>
<path d="M522.32,154.16 L532.04,150.27 L522.32,150.28 L512.63,153.93 Z" fill="#38e3ff"/>
<path d="M541.78,149.89 L551.53,145.75 L541.77,146.36 L532.04,150.27 Z" fill="#32fff2"/>
<path d="M561.32,144.81 L571.13,140.44 L561.31,141.6 L551.53,145.75 Z" fill="#2cffbe"/>
<path d="M580.98,138.97 L590.83,134.37 L580.95,136.05 L571.13,140.44 Z" fill="#26ff7f"/>
<path d="M600.75,132.41 L610.67,127.61 L600.71,129.76 L590.83,134.37 Z" fill="#22ff35"/>
<path d="M620.67,125.23 L630.64,120.24 L620.61,122.8 L610.67,127.61 Z" fill="#58ff1e"/>
<path d="M640.72,117.5 L650.77,112.35 L640.65,115.25 L630.64,120.24 Z" fill="#acff1b"/>
<path d="M660.93,109.32 L671.04,104.04 L660.84,107.21 L650.77,112.35 Z" fill="#fff61a"/>
<path d="M464.32,161.73 L473.96,158.6 L464.31,156.7 L454.67,159.58 Z" fill="#3fa0ff"/>
<path d="M502.94,157.57 L512.63,153.93 L502.94,153.32 L493.27,156.71 Z" fill="#3dc4ff"/>
<path d="M299.09,146.31 L308.79,144.55 L298.69,137.74 L288.96,139.36 Z" fill="#14ffa6"/>
<path d="M318.82,151.06 L328.51,149.24 L318.5,142.88 L308.79,144.55 Z" fill="#16ffdd"/>
<path d="M338.45,155.26 L348.12,153.32 L338.2,147.48 L328.51,149.24 Z" fill="#1af1ff"/>
<path d="M357.98,158.81 L367.63,156.73 L357.79,151.44 L348.12,153.32 Z" fill="#1fcaff"/>
<path d="M377.43,161.65 L387.07,159.4 L377.28,154.7 L367.63,156.73 Z" fill="#26adff"/>
<path d="M396.81,163.71 L406.43,161.27 L396.7,157.18 L387.07,159.4 Z" fill="#2d9aff"/>
<path d="M416.13,164.96 L425.75,162.3 L416.06,158.85 L406.43,161.27 Z" fill="#3590ff"/>
<path d="M435.42,165.35 L445.04,162.46 L435.38,159.66 L425.75,162.3 Z" fill="#3c8fff"/>
<path d="M454.69,164.86 L464.32,161.73 L454.67,159.58 L445.04,162.46 Z" fill="#4096ff"/>
<path d="M473.97,163.48 L483.61,160.1 L473.96,158.6 L464.32,161.73 Z" fill="#41a2ff"/>
<path d="M493.27,161.2 L502.94,157.57 L493.27,156.71 L483.61,160.1 Z" fill="#3fb6ff"/>
<path d="M512.62,158.04 L522.32,154.16 L512.63,153.93 L502.94,157.57 Z" fill="#3bd1ff"/>
<path d="M532.04,154.02 L541.78,149.89 L532.04,150.27 L522.32,154.16 Z" fill="#35f6ff"/>
<path d="M551.54,149.18 L561.32,144.81 L551.53,145.75 L541.78,149.89 Z" fill="#2fffd7"/>
<path d="M571.14,143.56 L580.98,138.97 L571.13,140.44 L561.32,144.81 Z" fill="#29ff9c"/>
<path d="M590.86,137.21 L600.75,132.41 L590.83,134.37 L580.98,138.97 Z" fill="#24ff57"/>
<path d="M610.71,130.22 L620.67,125.23 L610.67,127.61 L600.75,132.41 Z" fill="#37ff20"/>
<path d="M630.7,122.65 L640.72,117.5 L630.64,120.24 L620.67,125.23 Z" fill="#88ff1d"/>
<path d="M650.84,114.61 L660.93,109.32 L650.77,112.35 L640.72,117.5 Z" fill="#e0ff1b"/>
<path d="M671.12,106.19 L681.28,100.79 L671.04,104.04 L660.93,109.32 Z" fill="#ffc01a"/>
<path d="M309.15,152.97 L318.82,151.06 L308.79,144.55 L299.09,146.31 Z" fill="#16ffdf"/>
<path d="M406.52,167.63 L416.13,164.96 L406.43,161.27 L396.81,163.71 Z" fill="#3489ff"/>
<path d="M561.33,148.14 L571.14,143.56 L561.32,144.81 L551.54,149.18 Z" fill="#2cffb9"/>
<path d="M661,111.59 L671.12,106.19 L660.93,109.32 L650.84,114.61 Z" fill="#ffe91b"/>
<path d="M328.79,157.26 L338.45,155.26 L328.51,149.24 L318.82,151.06 Z" fill="#1aefff"/>
<path d="M348.34,160.94 L357.98,158.81 L348.12,153.32 L338.45,155.26 Z" fill="#1fc7ff"/>
<path d="M367.8,163.93 L377.43,161.65 L367.63,156.73 L357.98,158.81 Z" fill="#25a8ff"/>
<path d="M387.19,166.18 L396.81,163.71 L387.07,159.4 L377.43,161.65 Z" fill="#2c94ff"/>
<path d="M425.8,168.25 L435.42,165.35 L425.75,162.3 L416.13,164.96 Z" fill="#3b86ff"/>
<path d="M445.07,167.99 L454.69,164.86 L445.04,162.46 L435.42,165.35 Z" fill="#418bff"/>
<path d="M464.33,166.85 L473.97,163.48 L464.32,161.73 L454.69,164.86 Z" fill="#4396ff"/>
<path d="M483.62,164.83 L493.27,161.2 L483.61,160.1 L473.97,163.48 Z" fill="#42a7ff"/>
<path d="M502.94,161.92 L512.62,158.04 L502.94,157.57 L493.27,161.2 Z" fill="#3ec0ff"/>
<path d="M522.32,158.14 L532.04,154.02 L522.32,154.16 L512.62,158.04 Z" fill="#38e2ff"/>
<path d="M541.78,153.54 L551.54,149.18 L541.78,149.89 L532.04,154.02 Z" fill="#32fff0"/>
<path d="M581,142.01 L590.86,137.21 L580.98,138.97 L571.14,143.56 Z" fill="#26ff78"/>
<path d="M600.79,135.2 L610.71,130.22 L600.75,132.41 L590.86,137.21 Z" fill="#22ff2d"/>
<path d="M620.72,127.8 L630.7,122.65 L620.67,125.23 L610.71,130.22 Z" fill="#64ff1f"/>
<path d="M640.79,119.9 L650.84,114.61 L640.72,117.5 L630.7,122.65 Z" fill="#b9ff1c"/>
<path d="M319.14,159.32 L328.79,157.26 L318.82,151.06 L309.15,152.97 Z" fill="#1aecff"/>
<path d="M358.18,166.26 L367.8,163.93 L357.98,158.81 L348.34,160.94 Z" fill="#25a3ff"/>
<path d="M396.91,170.33 L406.52,167.63 L396.81,163.71 L387.19,166.18 Z" fill="#3381ff"/>
<path d="M416.2,171.16 L425.8,168.25 L416.13,164.96 L406.52,167.63 Z" fill="#3b7dff"/>
<path d="M454.71,170.23 L464.33,166.85 L454.69,164.86 L445.07,167.99 Z" fill="#448aff"/>
<path d="M512.62,162.26 L522.32,158.14 L512.62,158.04 L502.94,161.92 Z" fill="#3bceff"/>
<path d="M551.55,152.72 L561.33,148.14 L551.54,149.18 L541.78,153.54 Z" fill="#2fffd5"/>
<path d="M571.16,146.79 L581,142.01 L571.14,143.56 L561.33,148.14 Z" fill="#29ff97"/>
<path d="M610.76,132.96 L620.72,127.8 L610.71,130.22 L600.79,135.2 Z" fill="#41ff20"/>
<path d="M650.91,117 L661,111.59 L650.84,114.61 L640.79,119.9 Z" fill="#ecff1c"/>
<path d="M338.71,163.12 L348.34,160.94 L338.45,155.26 L328.79,157.26 Z" fill="#1fc3ff"/>
<path d="M377.58,168.68 L387.19,166.18 L377.43,161.65 L367.8,163.93 Z" fill="#2c8dff"/>
<path d="M435.46,171.13 L445.07,167.99 L435.42,165.35 L425.8,168.25 Z" fill="#4181ff"/>
<path d="M473.97,168.45 L483.62,164.83 L473.97,163.48 L464.33,166.85 Z" fill="#449aff"/>
<path d="M493.27,165.79 L502.94,161.92 L493.27,161.2 L483.62,164.83 Z" fill="#41b0ff"/>
<path d="M532.04,157.89 L541.78,153.54 L532.04,154.02 L522.32,158.14 Z" fill="#35f6ff"/>
<path d="M590.89,140.18 L600.79,135.2 L590.86,137.21 L581,142.01 Z" fill="#24ff50"/>
<path d="M630.76,125.2 L640.79,119.9 L630.7,122.65 L620.72,127.8 Z" fill="#93ff1e"/>
<path d="M387.31,173.06 L396.91,170.33 L387.19,166.18 L377.58,168.68 Z" fill="#3279ff"/>
<path d="M445.1,173.62 L454.71,170.23 L445.07,167.99 L435.46,171.13 Z" fill="#457eff"/>
<path d="M522.32,162.23 L532.04,157.89 L522.32,158.14 L512.62,162.26 Z" fill="#38e0ff"/>
<path d="M581.02,145.16 L590.89,140.18 L581,142.01 L571.16,146.79 Z" fill="#27ff72"/>
<path d="M329.08,165.36 L338.71,163.12 L328.79,157.26 L319.14,159.32 Z" fill="#1ebfff"/>
<path d="M348.57,168.64 L358.18,166.26 L348.34,160.94 L338.71,163.12 Z" fill="#249eff"/>
<path d="M367.97,171.22 L377.58,168.68 L367.8,163.93 L358.18,166.26 Z" fill="#2b87ff"/>
<path d="M406.6,174.09 L416.2,171.16 L406.52,167.63 L396.91,170.33 Z" fill="#3a73ff"/>
<path d="M425.86,174.28 L435.46,171.13 L425.8,168.25 L416.2,171.16 Z" fill="#4176ff"/>
<path d="M464.34,172.07 L473.97,168.45 L464.33,166.85 L454.71,170.23 Z" fill="#468cff"/>
<path d="M483.62,169.65 L493.27,165.79 L483.62,164.83 L473.97,168.45 Z" fill="#43a0ff"/>
<path d="M502.93,166.36 L512.62,162.26 L502.94,161.92 L493.27,165.79 Z" fill="#3fbbff"/>
<path d="M541.78,157.28 L551.55,152.72 L541.78,153.54 L532.04,157.89 Z" fill="#32ffef"/>
<path d="M561.34,151.57 L571.16,146.79 L561.33,148.14 L551.55,152.72 Z" fill="#2cffb6"/>
<path d="M600.82,138.11 L610.76,132.96 L600.79,135.2 L590.89,140.18 Z" fill="#22ff25"/>
<path d="M620.76,130.5 L630.76,125.2 L620.72,127.8 L610.76,132.96 Z" fill="#6eff1f"/>
<path d="M640.84,122.43 L650.91,117 L640.79,119.9 L630.76,125.2 Z" fill="#c4ff1d"/>
<path d="M338.96,171.08 L348.57,168.64 L338.71,163.12 L329.08,165.36 Z" fill="#2498ff"/>
<path d="M377.72,175.81 L387.31,173.06 L377.58,168.68 L367.97,171.22 Z" fill="#3270ff"/>
<path d="M397.01,177.04 L406.6,174.09 L396.91,170.33 L387.31,173.06 Z" fill="#396aff"/>
<path d="M435.5,177.01 L445.1,173.62 L435.46,171.13 L425.86,174.28 Z" fill="#4572ff"/>
<path d="M454.73,175.7 L464.34,172.07 L454.71,170.23 L445.1,173.62 Z" fill="#477fff"/>
<path d="M473.98,173.51 L483.62,169.65 L473.97,168.45 L464.34,172.07 Z" fill="#4691ff"/>
<path d="M493.27,170.46 L502.93,166.36 L493.27,165.79 L483.62,169.65 Z" fill="#42a9ff"/>
<path d="M512.61,166.56 L522.32,162.23 L512.62,162.26 L502.93,166.36 Z" fill="#3ccaff"/>
<path d="M532.04,161.84 L541.78,157.28 L532.04,157.89 L522.32,162.23 Z" fill="#35f5ff"/>
<path d="M571.17,150.13 L581.02,145.16 L571.16,146.79 L561.34,151.57 Z" fill="#29ff93"/>
<path d="M590.92,143.25 L600.82,138.11 L590.89,140.18 L581.02,145.16 Z" fill="#24ff49"/>
<path d="M630.81,127.85 L640.84,122.43 L630.76,125.2 L620.76,130.5 Z" fill="#9dff1e"/>
<path d="M358.37,173.81 L367.97,171.22 L358.18,166.26 L348.57,168.64 Z" fill="#2a7fff"/>
<path d="M416.26,177.45 L425.86,174.28 L416.2,171.16 L406.6,174.09 Z" fill="#416bff"/>
<path d="M551.55,156.35 L561.34,151.57 L551.55,152.72 L541.78,157.28 Z" fill="#2fffd3"/>
<path d="M610.79,135.8 L620.76,130.5 L610.76,132.96 L600.82,138.11 Z" fill="#4aff21"/>
<path d="M348.79,176.44 L358.37,173.81 L348.57,168.64 L338.96,171.08 Z" fill="#2a78ff"/>
<path d="M368.14,178.61 L377.72,175.81 L367.97,171.22 L358.37,173.81 Z" fill="#3167ff"/>
<path d="M387.43,180.03 L397.01,177.04 L387.31,173.06 L377.72,175.81 Z" fill="#3960ff"/>
<path d="M406.68,180.64 L416.26,177.45 L406.6,174.09 L397.01,177.04 Z" fill="#4060ff"/>
<path d="M425.91,180.41 L435.5,177.01 L425.86,174.28 L416.26,177.45 Z" fill="#4666ff"/>
<path d="M445.13,179.33 L454.73,175.7 L445.1,173.62 L435.5,177.01 Z" fill="#4972ff"/>
<path d="M464.36,177.38 L473.98,173.51 L464.34,172.07 L454.73,175.7 Z" fill="#4882ff"/>
<path d="M483.62,174.56 L493.27,170.46 L483.62,169.65 L473.98,173.51 Z" fill="#4598ff"/>
<path d="M502.93,170.89 L512.61,166.56 L502.93,166.36 L493.27,170.46 Z" fill="#3fb6ff"/>
<path d="M522.31,166.39 L532.04,161.84 L522.32,162.23 L512.61,166.56 Z" fill="#38ddff"/>
<path d="M541.78,161.11 L551.55,156.35 L541.78,157.28 L532.04,161.84 Z" fill="#31ffef"/>
<path d="M561.35,155.09 L571.17,150.13 L561.34,151.57 L551.55,156.35 Z" fill="#2bffb3"/>
<path d="M581.04,148.39 L590.92,143.25 L581.02,145.16 L571.17,150.13 Z" fill="#26ff6c"/>
<path d="M600.85,141.1 L610.79,135.8 L600.82,138.11 L590.92,143.25 Z" fill="#27ff22"/>
<path d="M620.81,133.28 L630.81,127.85 L620.76,130.5 L610.79,135.8 Z" fill="#77ff1f"/>
<path d="M358.57,181.46 L368.14,178.61 L358.37,173.81 L348.79,176.44 Z" fill="#305eff"/>
<path d="M610.83,138.71 L620.81,133.28 L610.79,135.8 L600.85,141.1 Z" fill="#52ff21"/>
<path d="M377.86,183.04 L387.43,180.03 L377.72,175.81 L368.14,178.61 Z" fill="#3855ff"/>
<path d="M397.11,183.85 L406.68,180.64 L397.01,177.04 L387.43,180.03 Z" fill="#4054ff"/>
<path d="M416.33,183.83 L425.91,180.41 L416.26,177.45 L406.68,180.64 Z" fill="#465aff"/>
<path d="M435.54,182.97 L445.13,179.33 L435.5,177.01 L425.91,180.41 Z" fill="#4a64ff"/>
<path d="M454.75,181.24 L464.36,177.38 L454.73,175.7 L445.13,179.33 Z" fill="#4a73ff"/>
<path d="M473.98,178.65 L483.62,174.56 L473.98,173.51 L464.36,177.38 Z" fill="#4787ff"/>
<path d="M493.26,175.21 L502.93,170.89 L493.27,170.46 L483.62,174.56 Z" fill="#42a2ff"/>
<path d="M512.61,170.94 L522.31,166.39 L512.61,166.56 L502.93,170.89 Z" fill="#3bc6ff"/>
<path d="M532.03,165.87 L541.78,161.11 L532.04,161.84 L522.31,166.39 Z" fill="#34f4ff"/>
<path d="M551.55,160.05 L561.35,155.09 L551.55,156.35 L541.78,161.11 Z" fill="#2effd1"/>
<path d="M571.19,153.53 L581.04,148.39 L571.17,150.13 L561.35,155.09 Z" fill="#28ff8f"/>
<path d="M590.94,146.39 L600.85,141.1 L590.92,143.25 L581.04,148.39 Z" fill="#24ff43"/>
<path d="M368.3,186.1 L377.86,183.04 L368.14,178.61 L358.57,181.46 Z" fill="#374bff"/>
<path d="M406.76,187.27 L416.33,183.83 L406.68,180.64 L397.11,183.85 Z" fill="#464eff"/>
<path d="M445.15,185.11 L454.75,181.24 L445.13,179.33 L435.54,182.97 Z" fill="#4b65ff"/>
<path d="M464.37,182.75 L473.98,178.65 L464.36,177.38 L454.75,181.24 Z" fill="#4977ff"/>
<path d="M483.62,179.53 L493.26,175.21 L483.62,174.56 L473.98,178.65 Z" fill="#458fff"/>
<path d="M502.92,175.48 L512.61,170.94 L502.93,170.89 L493.26,175.21 Z" fill="#3eb0ff"/>
<path d="M522.31,170.62 L532.03,165.87 L522.31,166.39 L512.61,170.94 Z" fill="#37daff"/>
<path d="M561.36,158.66 L571.19,153.53 L561.35,155.09 L551.55,160.05 Z" fill="#2bffb0"/>
<path d="M600.89,144.13 L610.83,138.71 L600.85,141.1 L590.94,146.39 Z" fill="#2eff22"/>
<path d="M387.55,187.09 L397.11,183.85 L387.43,180.03 L377.86,183.04 Z" fill="#3f49ff"/>
<path d="M425.96,186.62 L435.54,182.97 L425.91,180.41 L416.33,183.83 Z" fill="#4a57ff"/>
<path d="M541.78,164.99 L551.55,160.05 L541.78,161.11 L532.03,165.87 Z" fill="#31ffef"/>
<path d="M581.06,151.68 L590.94,146.39 L581.04,148.39 L571.19,153.53 Z" fill="#26ff67"/>
<path d="M473.99,183.85 L483.62,179.53 L473.98,178.65 L464.37,182.75 Z" fill="#477dff"/>
<path d="M493.26,180.01 L502.92,175.48 L493.26,175.21 L483.62,179.53 Z" fill="#419bff"/>
<path d="M378,190.36 L387.55,187.09 L377.86,183.04 L368.3,186.1 Z" fill="#3e3eff"/>
<path d="M397.21,190.74 L406.76,187.27 L397.11,183.85 L387.55,187.09 Z" fill="#4545ff"/>
<path d="M416.39,190.29 L425.96,186.62 L416.33,183.83 L406.76,187.27 Z" fill="#4a4aff"/>
<path d="M435.57,188.99 L445.15,185.11 L435.54,182.97 L425.96,186.62 Z" fill="#4d57ff"/>
<path d="M454.76,186.85 L464.37,182.75 L454.75,181.24 L445.15,185.11 Z" fill="#4c67ff"/>
<path d="M512.6,175.36 L522.31,170.62 L512.61,170.94 L502.92,175.48 Z" fill="#3ac1ff"/>
<path d="M532.03,169.93 L541.78,164.99 L532.03,165.87 L522.31,170.62 Z" fill="#33f3ff"/>
<path d="M551.56,163.77 L561.36,158.66 L551.55,160.05 L541.78,164.99 Z" fill="#2dffd0"/>
<path d="M571.2,156.95 L581.06,151.68 L571.19,153.53 L561.36,158.66 Z" fill="#27ff8a"/>
<path d="M590.97,149.55 L600.89,144.13 L590.94,146.39 L581.06,151.68 Z" fill="#23ff3c"/>
<path d="M387.67,194.23 L397.21,190.74 L387.55,187.09 L378,190.36 Z" fill="#4545ff"/>
<path d="M426.01,192.88 L435.57,188.99 L425.96,186.62 L416.39,190.29 Z" fill="#4e4eff"/>
<path d="M445.18,190.95 L454.76,186.85 L445.15,185.11 L435.57,188.99 Z" fill="#4d58ff"/>
<path d="M464.37,188.16 L473.99,183.85 L464.37,182.75 L454.76,186.85 Z" fill="#4a6cff"/>
<path d="M483.62,184.54 L493.26,180.01 L483.62,179.53 L473.99,183.85 Z" fill="#4486ff"/>
<path d="M502.92,180.09 L512.6,175.36 L502.92,175.48 L493.26,180.01 Z" fill="#3daaff"/>
<path d="M522.3,174.85 L532.03,169.93 L522.31,170.62 L512.6,175.36 Z" fill="#36d7ff"/>
<path d="M541.78,168.88 L551.56,163.77 L541.78,164.99 L532.03,169.93 Z" fill="#2fffef"/>
<path d="M581.08,154.95 L590.97,149.55 L581.06,151.68 L571.2,156.95 Z" fill="#25ff61"/>
<path d="M406.84,193.97 L416.39,190.29 L406.76,187.27 L397.21,190.74 Z" fill="#4b4bff"/>
<path d="M561.37,162.22 L571.2,156.95 L561.36,158.66 L551.56,163.77 Z" fill="#29ffac"/>
<path d="M397.3,197.68 L406.84,193.97 L397.21,190.74 L387.67,194.23 Z" fill="#4b4bff"/>
<path d="M416.46,196.79 L426.01,192.88 L416.39,190.29 L406.84,193.97 Z" fill="#4e4eff"/>
<path d="M435.61,195.06 L445.18,190.95 L435.57,188.99 L426.01,192.88 Z" fill="#4f4fff"/>
<path d="M454.78,192.48 L464.37,188.16 L454.76,186.85 L445.18,190.95 Z" fill="#4c5bff"/>
<path d="M473.99,189.06 L483.62,184.54 L473.99,183.85 L464.37,188.16 Z" fill="#4673ff"/>
<path d="M493.26,184.81 L502.92,180.09 L493.26,180.01 L483.62,184.54 Z" fill="#4093ff"/>
<path d="M512.6,179.77 L522.3,174.85 L512.6,175.36 L502.92,180.09 Z" fill="#38bdff"/>
<path d="M532.03,173.97 L541.78,168.88 L532.03,169.93 L522.3,174.85 Z" fill="#31f2ff"/>
<path d="M551.56,167.48 L561.37,162.22 L551.56,163.77 L541.78,168.88 Z" fill="#2bffcd"/>
<path d="M571.22,160.35 L581.08,154.95 L571.2,156.95 L561.37,162.22 Z" fill="#26ff85"/>
<path d="M406.92,200.71 L416.46,196.79 L406.84,193.97 L397.3,197.68 Z" fill="#4f4fff"/>
<path d="M426.05,199.17 L435.61,195.06 L426.01,192.88 L416.46,196.79 Z" fill="#5050ff"/>
<path d="M445.2,196.79 L454.78,192.48 L445.18,190.95 L435.61,195.06 Z" fill="#4e4eff"/>
<path d="M464.38,193.57 L473.99,189.06 L464.37,188.16 L454.78,192.48 Z" fill="#4960ff"/>
<path d="M483.61,189.52 L493.26,184.81 L483.62,184.54 L473.99,189.06 Z" fill="#427dff"/>
<path d="M502.91,184.67 L512.6,179.77 L502.92,180.09 L493.26,184.81 Z" fill="#3aa4ff"/>
<path d="M522.3,179.05 L532.03,173.97 L522.3,174.85 L512.6,179.77 Z" fill="#33d5ff"/>
<path d="M541.78,172.72 L551.56,167.48 L541.78,168.88 L532.03,173.97 Z" fill="#2dffee"/>
<path d="M561.38,165.73 L571.22,160.35 L561.37,162.22 L551.56,167.48 Z" fill="#27ffa8"/>
<path d="M416.51,203.29 L426.05,199.17 L416.46,196.79 L406.92,200.71 Z" fill="#5151ff"/>
<path d="M435.64,201.11 L445.2,196.79 L435.61,195.06 L426.05,199.17 Z" fill="#4f4fff"/>
<path d="M454.79,198.08 L464.38,193.57 L454.78,192.48 L445.2,196.79 Z" fill="#4b4eff"/>
<path d="M473.99,194.22 L483.61,189.52 L473.99,189.06 L464.38,193.57 Z" fill="#4468ff"/>
<path d="M493.25,189.56 L502.91,184.67 L493.26,184.81 L483.61,189.52 Z" fill="#3d8bff"/>
<path d="M512.59,184.11 L522.3,179.05 L512.6,179.77 L502.91,184.67 Z" fill="#35b9ff"/>
<path d="M532.03,177.94 L541.78,172.72 L532.03,173.97 L522.3,179.05 Z" fill="#2ef1ff"/>
<path d="M551.57,171.09 L561.38,165.73 L551.56,167.48 L541.78,172.72 Z" fill="#28ffca"/>
<path d="M426.09,205.43 L435.64,201.11 L426.05,199.17 L416.51,203.29 Z" fill="#5151ff"/>
<path d="M445.22,202.59 L454.79,198.08 L445.2,196.79 L435.64,201.11 Z" fill="#4d4dff"/>
<path d="M522.3,183.14 L532.03,177.94 L522.3,179.05 L512.59,184.11 Z" fill="#30d3ff"/>
<path d="M541.79,176.43 L551.57,171.09 L541.78,172.72 L532.03,177.94 Z" fill="#29ffeb"/>
<path d="M464.39,198.92 L473.99,194.22 L464.38,193.57 L454.79,198.08 Z" fill="#4654ff"/>
<path d="M483.61,194.43 L493.25,189.56 L483.61,189.52 L473.99,194.22 Z" fill="#3f74ff"/>
<path d="M502.91,189.16 L512.59,184.11 L502.91,184.67 L493.25,189.56 Z" fill="#379eff"/>
<path d="M435.67,207.09 L445.22,202.59 L435.64,201.11 L426.09,205.43 Z" fill="#4e4eff"/>
<path d="M532.03,181.75 L541.79,176.43 L532.03,177.94 L522.3,183.14 Z" fill="#2bf3ff"/>
<path d="M454.8,203.6 L464.39,198.92 L454.79,198.08 L445.22,202.59 Z" fill="#4848ff"/>
<path d="M473.99,199.29 L483.61,194.43 L473.99,194.22 L464.39,198.92 Z" fill="#415dff"/>
<path d="M493.25,194.18 L502.91,189.16 L493.25,189.56 L483.61,194.43 Z" fill="#3984ff"/>
<path d="M512.59,188.32 L522.3,183.14 L512.59,184.11 L502.91,189.16 Z" fill="#31b6ff"/>
<path d="M445.24,208.27 L454.8,203.6 L445.22,202.59 L435.67,207.09 Z" fill="#4a4aff"/>
<path d="M464.39,204.13 L473.99,199.29 L464.39,198.92 L454.8,203.6 Z" fill="#4347ff"/>
<path d="M483.61,199.18 L493.25,194.18 L483.61,194.43 L473.99,199.29 Z" fill="#3a6bff"/>
<path d="M502.91,193.47 L512.59,188.32 L502.91,189.16 L493.25,194.18 Z" fill="#339aff"/>
<path d="M522.3,187.03 L532.03,181.75 L522.3,183.14 L512.59,188.32 Z" fill="#2cd3ff"/>
<path d="M473.99,204.16 L483.61,199.18 L473.99,199.29 L464.39,204.13 Z" fill="#3c53ff"/>
<path d="M493.24,198.59 L502.91,193.47 L493.25,194.18 L483.61,199.18 Z" fill="#347eff"/>
<path d="M454.81,208.95 L464.39,204.13 L454.8,203.6 L445.24,208.27 Z" fill="#4444ff"/>
<path d="M512.59,192.29 L522.3,187.03 L512.59,188.32 L502.91,193.47 Z" fill="#2cb5ff"/>
<path d="M464.39,209.11 L473.99,204.16 L464.39,204.13 L454.81,208.95 Z" fill="#3d3dff"/>
<path d="M483.6,203.69 L493.24,198.59 L483.61,199.18 L473.99,204.16 Z" fill="#3564ff"/>
<path d="M502.91,197.51 L512.59,192.29 L502.91,193.47 L493.24,198.59 Z" fill="#2d97ff"/>
<path d="M473.99,208.75 L483.6,203.69 L473.99,204.16 L464.39,209.11 Z" fill="#364aff"/>
<path d="M493.24,202.7 L502.91,197.51 L493.24,198.59 L483.6,203.69 Z" fill="#2e7bff"/>
<path d="M483.6,207.84 L493.24,202.7 L483.6,203.69 L473.99,208.75 Z" fill="#2e5eff"/>
</g>
<ellipse cx="483.55" cy="109.88" rx="4" ry="2.6" fill="#c00000" stroke="#5a0000" stroke-width="0.7"/>
<ellipse cx="483.55" cy="158.72" rx="4" ry="2.6" fill="#c00000" stroke="#5a0000" stroke-width="0.7"/>
<ellipse cx="483.55" cy="209.13" rx="4" ry="2.6" fill="#ffc0c0" stroke="#555" stroke-width="0.7"/>
<ellipse cx="682.28" cy="98.46" rx="4" ry="2.6" fill="#c00000" stroke="#5a0000" stroke-width="0.7"/>
<text transform="translate(286.58,188.9) scale(1.403,1)" font-family="DejaVu Sans, Liberation Sans, sans-serif" font-size="5.9" text-anchor="end" fill="#222">200</text>
<text transform="translate(284.97,170.1) scale(1.403,1)" font-family="DejaVu Sans, Liberation Sans, sans-serif" font-size="5.9" text-anchor="end" fill="#222">300</text>
<text transform="translate(283.35,151.3) scale(1.403,1)" font-family="DejaVu Sans, Liberation Sans, sans-serif" font-size="5.9" text-anchor="end" fill="#222">400</text>
<text transform="translate(281.74,132.5) scale(1.403,1)" font-family="DejaVu Sans, Liberation Sans, sans-serif" font-size="5.9" text-anchor="end" fill="#222">500</text>
<text transform="translate(280.13,113.7) scale(1.403,1)" font-family="DejaVu Sans, Liberation Sans, sans-serif" font-size="5.9" text-anchor="end" fill="#222">600</text>
<text transform="translate(278.51,94.9) scale(1.403,1)" font-family="DejaVu Sans, Liberation Sans, sans-serif" font-size="5.9" text-anchor="end" fill="#222">700</text>
<text transform="translate(276.9,76.1) scale(1.403,1)" font-family="DejaVu Sans, Liberation Sans, sans-serif" font-size="5.9" text-anchor="end" fill="#222">800</text>
<text transform="translate(478,283.9) scale(1.407,1)" font-family="DejaVu Sans, Liberation Sans, sans-serif" font-size="5.9" text-anchor="end" fill="#222">0.5</text>
<text transform="translate(488.9,283.5) scale(1.407,1)" font-family="DejaVu Sans, Liberation Sans, sans-serif" font-size="5.9" text-anchor="start" fill="#222">1</text>
<text transform="translate(440.44,273.56) scale(1.407,1)" font-family="DejaVu Sans, Liberation Sans, sans-serif" font-size="5.9" text-anchor="end" fill="#222">0.6</text>
<text transform="translate(526.55,273.16) scale(1.407,1)" font-family="DejaVu Sans, Liberation Sans, sans-serif" font-size="5.9" text-anchor="start" fill="#222">1.2</text>
<text transform="translate(402.88,263.22) scale(1.407,1)" font-family="DejaVu Sans, Liberation Sans, sans-serif" font-size="5.9" text-anchor="end" fill="#222">0.7</text>
<text transform="translate(564.2,262.82) scale(1.407,1)" font-family="DejaVu Sans, Liberation Sans, sans-serif" font-size="5.9" text-anchor="start" fill="#222">1.4</text>
<text transform="translate(365.32,252.88) scale(1.407,1)" font-family="DejaVu Sans, Liberation Sans, sans-serif" font-size="5.9" text-anchor="end" fill="#222">0.8</text>
<text transform="translate(601.85,252.48) scale(1.407,1)" font-family="DejaVu Sans, Liberation Sans, sans-serif" font-size="5.9" text-anchor="start" fill="#222">1.6</text>
<text transform="translate(327.76,242.54) scale(1.407,1)" font-family="DejaVu Sans, Liberation Sans, sans-serif" font-size="5.9" text-anchor="end" fill="#222">0.9</text>
<text transform="translate(639.5,242.14) scale(1.407,1)" font-family="DejaVu Sans, Liberation Sans, sans-serif" font-size="5.9" text-anchor="start" fill="#222">1.8</text>
<text transform="translate(290.2,232.2) scale(1.407,1)" font-family="DejaVu Sans, Liberation Sans, sans-serif" font-size="5.9" text-anchor="end" fill="#222">1</text>
<text transform="translate(677.15,231.8) scale(1.407,1)" font-family="DejaVu Sans, Liberation Sans, sans-serif" font-size="5.9" text-anchor="start" fill="#222">2</text>
<ellipse cx="292.78" cy="190.7" rx="1.9" ry="1.25" fill="#000"/>
<ellipse cx="291.17" cy="171.9" rx="1.9" ry="1.25" fill="#000"/>
<ellipse cx="289.55" cy="153.1" rx="1.9" ry="1.25" fill="#000"/>
<ellipse cx="287.94" cy="134.3" rx="1.9" ry="1.25" fill="#000"/>
<ellipse cx="286.33" cy="115.5" rx="1.9" ry="1.25" fill="#000"/>
<ellipse cx="284.71" cy="96.7" rx="1.9" ry="1.25" fill="#000"/>
<ellipse cx="283.1" cy="77.9" rx="1.9" ry="1.25" fill="#000"/>
<ellipse cx="483.6" cy="277.6" rx="1.9" ry="1.25" fill="#000"/>
<ellipse cx="483.6" cy="277.6" rx="1.9" ry="1.25" fill="#000"/>
<ellipse cx="446.04" cy="267.26" rx="1.9" ry="1.25" fill="#000"/>
<ellipse cx="521.25" cy="267.26" rx="1.9" ry="1.25" fill="#000"/>
<ellipse cx="408.48" cy="256.92" rx="1.9" ry="1.25" fill="#000"/>
<ellipse cx="558.9" cy="256.92" rx="1.9" ry="1.25" fill="#000"/>
<ellipse cx="370.92" cy="246.58" rx="1.9" ry="1.25" fill="#000"/>
<ellipse cx="596.55" cy="246.58" rx="1.9" ry="1.25" fill="#000"/>
<ellipse cx="333.36" cy="236.24" rx="1.9" ry="1.25" fill="#000"/>
<ellipse cx="634.2" cy="236.24" rx="1.9" ry="1.25" fill="#000"/>
<ellipse cx="295.8" cy="225.9" rx="1.9" ry="1.25" fill="#000"/>
<ellipse cx="671.85" cy="225.9" rx="1.9" ry="1.25" fill="#000"/>
<text transform="translate(316.8,273) scale(1.465,1)" font-family="DejaVu Sans, Liberation Sans, sans-serif" font-size="6.6" text-anchor="middle" fill="#222">C: Sesame cake</text>
<text transform="translate(649.9,272.8) scale(1.443,1)" font-family="DejaVu Sans, Liberation Sans, sans-serif" font-size="6.6" text-anchor="middle" fill="#222">B: Yeast extract</text>
<text transform="translate(224.5,177.8) rotate(-90) scale(1,2.12)" font-family="DejaVu Sans, Liberation Sans, sans-serif" font-size="5.65" fill="#111">Protease activity</text>
<text transform="translate(473.2,11.7) scale(1.541,1)" font-family="DejaVu Sans, Liberation Sans, sans-serif" font-size="10.2" text-anchor="start" fill="#111">3D Surface</text>
<text transform="translate(1,5.7) scale(1.488,1)" font-family="DejaVu Sans, Liberation Sans, sans-serif" font-size="7.2" text-anchor="start" fill="#222">Factor Coding: Actual</text>
<text transform="translate(1,28.4) scale(1.356,1)" font-family="DejaVu Sans, Liberation Sans, sans-serif" font-size="7.2" text-anchor="start" fill="#000" font-weight="bold">Protease activity</text>
<text transform="translate(1,39.9) scale(1.484,1)" font-family="DejaVu Sans, Liberation Sans, sans-serif" font-size="7.2" text-anchor="start" fill="#222">Design Points:</text>
<ellipse cx="13" cy="48.3" rx="6.4" ry="3.7" fill="#b00000" stroke="#500" stroke-width="0.6"/>
<text transform="translate(26.6,51.2) scale(1.460,1)" font-family="DejaVu Sans, Liberation Sans, sans-serif" font-size="7.2" text-anchor="start" fill="#c0282d">Above Surface</text>
<ellipse cx="13" cy="59.5" rx="6.4" ry="3.7" fill="#ffc0c0" stroke="#555" stroke-width="0.6"/>
<text transform="translate(26.6,62.6) scale(1.440,1)" font-family="DejaVu Sans, Liberation Sans, sans-serif" font-size="7.2" text-anchor="start" fill="#c0282d">Below Surface</text>
<text transform="translate(1,73.6) scale(1.358,1)" font-family="DejaVu Sans, Liberation Sans, sans-serif" font-size="7.2" text-anchor="start" fill="#2222ff">317.8</text>
<rect x="33.6" y="66" width="44.6" height="9.9" fill="url(#lg)" stroke="#333" stroke-width="0.4"/>
<text transform="translate(83,73.6) scale(1.383,1)" font-family="DejaVu Sans, Liberation Sans, sans-serif" font-size="7.2" text-anchor="start" fill="#ff2020">732</text>
<text transform="translate(1,95.8) scale(1.420,1)" font-family="DejaVu Sans, Liberation Sans, sans-serif" font-size="7.2" text-anchor="start" fill="#222">X1 = B</text>
<text transform="translate(1,107.2) scale(1.392,1)" font-family="DejaVu Sans, Liberation Sans, sans-serif" font-size="7.2" text-anchor="start" fill="#222">X2 = C</text>
<text transform="translate(1,130) scale(1.394,1)" font-family="DejaVu Sans, Liberation Sans, sans-serif" font-size="7.2" text-anchor="start" fill="#000" font-weight="bold">Actual Factor</text>
<text transform="translate(1,141) scale(1.408,1)" font-family="DejaVu Sans, Liberation Sans, sans-serif" font-size="7.2" text-anchor="start" fill="#222">A = 1.5</text>
</g>
<rect x="17.2" y="194.4" width="38.9" height="36.5" fill="none" stroke="#c00000" stroke-width="2" stroke-dasharray="8.2 7" stroke-dashoffset="11.9"/><text x="36.75" y="216.65" font-family="Liberation Serif, serif" font-size="16.5" text-anchor="middle" fill="#000">a</text>
<rect x="17.2" y="506.35" width="39.1" height="36.45" fill="none" stroke="#c00000" stroke-width="2" stroke-dasharray="8.2 7" stroke-dashoffset="11.9"/><text x="36.85" y="528.58" font-family="Liberation Serif, serif" font-size="16.5" text-anchor="middle" fill="#000">b</text>
<rect x="23.4" y="860.1" width="39.3" height="36.5" fill="none" stroke="#c00000" stroke-width="2" stroke-dasharray="8.2 7" stroke-dashoffset="11.9"/><text x="43.15" y="882.35" font-family="Liberation Serif, serif" font-size="16.5" text-anchor="middle" fill="#000">c</text>
</svg></body></html>
